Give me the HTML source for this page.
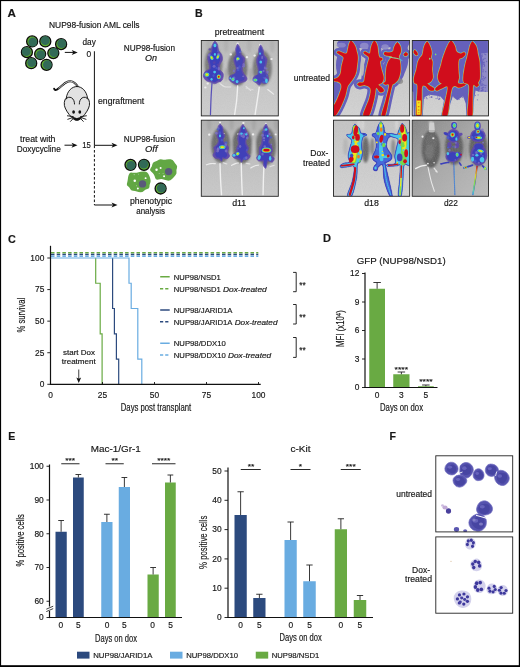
<!DOCTYPE html>
<html><head><meta charset="utf-8"><title>Figure</title>
<style>
html,body{margin:0;padding:0;background:#fff;}
svg{display:block;}
text{font-family:"Liberation Sans",sans-serif;fill:#161616;stroke:#161616;stroke-width:0.16px;}
</style></head><body>
<svg width="520" height="667" viewBox="0 0 520 667">
<rect x="0" y="0" width="520" height="667" fill="#fff"/>
<g id="panelA">
<text x="7.60" y="17.30" font-size="10.8" textLength="8.40" lengthAdjust="spacingAndGlyphs" font-weight="bold" stroke="#111" stroke-width="0.45">A</text>
<text x="49.00" y="27.50" font-size="8.3" textLength="90.50" lengthAdjust="spacingAndGlyphs">NUP98-fusion AML cells</text>
<text x="82.50" y="45.00" font-size="8.3" textLength="13.25" lengthAdjust="spacingAndGlyphs">day</text>
<text x="86.40" y="56.60" font-size="8.8" textLength="4.70" lengthAdjust="spacingAndGlyphs">0</text>
<text x="123.75" y="50.50" font-size="8.3" textLength="51.25" lengthAdjust="spacingAndGlyphs">NUP98-fusion</text>
<text x="145.00" y="60.75" font-size="8.3" textLength="12.00" lengthAdjust="spacingAndGlyphs" font-style="italic">On</text>
<text x="98.00" y="103.50" font-size="8.3" textLength="46.25" lengthAdjust="spacingAndGlyphs">engraftment</text>
<text x="20.00" y="142.00" font-size="8.3" textLength="35.50" lengthAdjust="spacingAndGlyphs">treat with</text>
<text x="16.75" y="152.00" font-size="8.3" textLength="44.00" lengthAdjust="spacingAndGlyphs">Doxycycline</text>
<text x="82.30" y="148.20" font-size="8.8" textLength="8.60" lengthAdjust="spacingAndGlyphs">15</text>
<text x="123.75" y="142.25" font-size="8.3" textLength="51.25" lengthAdjust="spacingAndGlyphs">NUP98-fusion</text>
<text x="145.00" y="152.00" font-size="8.3" textLength="12.50" lengthAdjust="spacingAndGlyphs" font-style="italic">Off</text>
<text x="130.00" y="204.25" font-size="8.3" textLength="42.00" lengthAdjust="spacingAndGlyphs">phenotypic</text>
<text x="136.25" y="213.75" font-size="8.3" textLength="28.75" lengthAdjust="spacingAndGlyphs">analysis</text>
<line x1="94.40" y1="51.25" x2="94.40" y2="145.50" stroke="#111" stroke-width="1.0"/>
<line x1="94.40" y1="145.50" x2="94.40" y2="205.00" stroke="#111" stroke-width="1.0" stroke-dasharray="2.6 1.9"/>
<line x1="94.40" y1="145.30" x2="114.00" y2="145.30" stroke="#111" stroke-width="1.0"/>
<path d="M117.50,145.30 l-6,-2.5 l1.6,2.5 l-1.6,2.5 z" fill="#111"/>
<line x1="94.40" y1="205.00" x2="114.00" y2="205.00" stroke="#111" stroke-width="1.0"/>
<path d="M117.50,205.00 l-6,-2.5 l1.6,2.5 l-1.6,2.5 z" fill="#111"/>
<line x1="64.80" y1="52.40" x2="74.20" y2="52.40" stroke="#111" stroke-width="1.0"/>
<path d="M77.70,52.40 l-6,-2.5 l1.6,2.5 l-1.6,2.5 z" fill="#111"/>
<line x1="64.50" y1="145.20" x2="74.00" y2="145.20" stroke="#111" stroke-width="1.0"/>
<path d="M77.50,145.20 l-6,-2.5 l1.6,2.5 l-1.6,2.5 z" fill="#111"/>
<circle cx="32.15" cy="41.45" r="5.5" fill="#5fae2e" stroke="#0c0c0c" stroke-width="1.3"/>
<circle cx="32.75" cy="42.05" r="4.45" fill="#326a57"/>
<circle cx="45.3" cy="41.45" r="5.5" fill="#5fae2e" stroke="#0c0c0c" stroke-width="1.3"/>
<circle cx="45.30" cy="40.65" r="4.45" fill="#326a57"/>
<circle cx="61.1" cy="44.15" r="5.5" fill="#5fae2e" stroke="#0c0c0c" stroke-width="1.3"/>
<circle cx="61.70" cy="43.55" r="4.45" fill="#326a57"/>
<circle cx="26.9" cy="52.15" r="5.5" fill="#5fae2e" stroke="#0c0c0c" stroke-width="1.3"/>
<circle cx="26.30" cy="51.65" r="4.45" fill="#326a57"/>
<circle cx="40.15" cy="54" r="5.5" fill="#5fae2e" stroke="#0c0c0c" stroke-width="1.3"/>
<circle cx="40.75" cy="54.60" r="4.45" fill="#326a57"/>
<circle cx="53.3" cy="53.1" r="5.5" fill="#5fae2e" stroke="#0c0c0c" stroke-width="1.3"/>
<circle cx="53.90" cy="52.50" r="4.45" fill="#326a57"/>
<circle cx="31.2" cy="63.2" r="5.5" fill="#5fae2e" stroke="#0c0c0c" stroke-width="1.3"/>
<circle cx="31.70" cy="62.60" r="4.45" fill="#326a57"/>
<circle cx="46.55" cy="64.8" r="5.5" fill="#5fae2e" stroke="#0c0c0c" stroke-width="1.3"/>
<circle cx="47.35" cy="64.80" r="4.45" fill="#326a57"/>
<path d="M176.91,168.13 Q176.14,170.00 176.50,171.76 Q176.85,173.51 175.60,174.90 Q174.35,176.29 173.28,177.84 Q172.21,179.38 170.35,180.24 Q168.49,181.11 166.39,180.33 Q164.30,179.55 162.62,179.22 Q160.95,178.89 158.36,179.49 Q155.78,180.10 155.21,178.07 Q154.64,176.04 153.85,174.60 Q153.05,173.15 151.08,171.57 Q149.11,170.00 150.59,168.29 Q152.06,166.57 152.32,164.62 Q152.58,162.66 154.65,161.84 Q156.72,161.01 158.41,159.93 Q160.09,158.84 162.20,159.49 Q164.30,160.13 166.40,159.50 Q168.50,158.86 170.70,159.33 Q172.90,159.81 173.90,161.59 Q174.90,163.36 176.29,164.81 Q177.68,166.26 176.91,168.13 Z" fill="#62a744"/>
<path d="M150.58,180.39 Q150.72,182.00 150.06,183.47 Q149.40,184.94 149.48,186.81 Q149.56,188.67 147.29,189.07 Q145.03,189.47 143.80,190.93 Q142.57,192.40 140.53,192.35 Q138.50,192.31 136.79,191.52 Q135.09,190.73 132.96,190.74 Q130.84,190.76 130.24,189.05 Q129.64,187.35 128.03,186.31 Q126.42,185.26 126.91,183.63 Q127.40,182.00 127.63,180.56 Q127.86,179.13 128.05,177.47 Q128.25,175.81 129.13,174.05 Q130.01,172.29 132.50,172.67 Q135.00,173.04 136.75,172.63 Q138.50,172.22 140.60,171.75 Q142.69,171.28 145.00,171.61 Q147.30,171.93 148.30,173.71 Q149.29,175.49 149.86,177.13 Q150.43,178.78 150.58,180.39 Z" fill="#62a744"/>
<circle cx="168.6" cy="171.6" r="3.7" fill="#5a5a7a"/>
<circle cx="142.5" cy="183.9" r="3.7" fill="#5a5a7a"/>
<circle cx="156.55" cy="169.77" r="1.23" fill="#fff"/>
<circle cx="160.62" cy="167.92" r="0.98" fill="#fff"/>
<circle cx="164.06" cy="176.17" r="0.98" fill="#fff"/>
<circle cx="159.14" cy="173.46" r="0.37" fill="#fff"/>
<circle cx="163.08" cy="173.46" r="0.37" fill="#fff"/>
<circle cx="134.77" cy="180.85" r="1.23" fill="#fff"/>
<circle cx="145.60" cy="178.14" r="0.98" fill="#fff"/>
<circle cx="137.85" cy="188.48" r="0.98" fill="#fff"/>
<circle cx="134.15" cy="174.69" r="0.49" fill="#fff"/>
<circle cx="138.46" cy="174.08" r="0.37" fill="#fff"/>
<circle cx="136.62" cy="185.77" r="0.37" fill="#fff"/>
<circle cx="130.5" cy="164.85" r="5.5" fill="#5fae2e" stroke="#0c0c0c" stroke-width="1.3"/>
<circle cx="131.00" cy="165.45" r="4.45" fill="#326a57"/>
<circle cx="144" cy="164.85" r="5.5" fill="#5fae2e" stroke="#0c0c0c" stroke-width="1.3"/>
<circle cx="143.70" cy="164.15" r="4.45" fill="#326a57"/>
<circle cx="160.6" cy="188.5" r="5.5" fill="#5fae2e" stroke="#0c0c0c" stroke-width="1.3"/>
<circle cx="161.30" cy="188.20" r="4.45" fill="#326a57"/>
<g stroke="#111" stroke-width="0.95" fill="#e2e2e2" stroke-linejoin="round" stroke-linecap="round">
<path d="M78.2,87.3 C75.5,82.5 71.5,80.6 68.2,81.5 C63.5,82.8 61,87.4 56.8,89.7 C55.4,90.4 54.4,89.8 54.1,88.6" fill="none" stroke-width="1.9"/>
<path d="M78.1,87.1 C75.5,82.5 71.5,80.6 68.2,81.5 C64.5,82.6 62,86 58.8,88.4" fill="none" stroke="#ececec" stroke-width="0.8"/>
<path d="M76.9,86.5 C82,86.5 86.5,91 87.5,98 C89.7,99.5 90.2,105 88.6,108 C87,112 83,117 80,119.3 C78.5,120.5 75.3,120.5 73.8,119.3 C70.8,117 66.8,112 65.2,108 C63.6,105 64.1,99.5 66.3,98 C67.3,91 71.8,86.5 76.9,86.5 Z"/>
<path d="M65.9,99.2 C66.8,97.2 69.6,96.6 71.7,97.9 C73.7,99.2 74.5,101.6 74.5,104" fill="none"/>
<path d="M87.9,99.2 C87,97.2 84.2,96.6 82.1,97.9 C80.1,99.2 79.3,101.6 79.3,104" fill="none"/>
<path d="M73.2,116.6 L67.4,115.8 M73.4,117.3 L67.8,119.3 M73.8,117.9 L70.5,121.4 M80.6,116.6 L86.4,115.8 M80.4,117.3 L86,119.3 M80,117.9 L83.3,121.4" fill="none" stroke-width="0.9"/>
<path d="M72.2,116.2 C74,118 75.5,117.2 76.9,118.2 C78.3,117.2 79.8,118 81.6,116.2 C80,119.8 78.4,120.5 76.9,120.5 C75.4,120.5 73.8,119.8 72.2,116.2 Z" fill="#111" stroke="none"/>
<ellipse cx="73.6" cy="112" rx="1.4" ry="1.75" fill="#111" stroke="none"/>
<ellipse cx="79.8" cy="112" rx="1.4" ry="1.75" fill="#111" stroke="none"/>
</g>
</g>
<g id="panelBtext">
<text x="195.00" y="17.00" font-size="10.6" font-weight="bold" stroke="#111" stroke-width="0.45">B</text>
<text x="214.70" y="35.40" font-size="8.3" textLength="49.50" lengthAdjust="spacingAndGlyphs">pretreatment</text>
<text x="293.80" y="80.60" font-size="8.3" textLength="36.20" lengthAdjust="spacingAndGlyphs">untreated</text>
<text x="310.30" y="155.60" font-size="8.3" textLength="18.00" lengthAdjust="spacingAndGlyphs">Dox-</text>
<text x="303.00" y="165.80" font-size="8.3" textLength="27.00" lengthAdjust="spacingAndGlyphs">treated</text>
<text x="232.20" y="206.40" font-size="8.5" textLength="14.10" lengthAdjust="spacingAndGlyphs">d11</text>
<text x="364.20" y="206.40" font-size="8.5" textLength="14.60" lengthAdjust="spacingAndGlyphs">d18</text>
<text x="443.90" y="206.40" font-size="8.5" textLength="13.90" lengthAdjust="spacingAndGlyphs">d22</text>
</g>
<g id="panelC">
<text x="8.00" y="242.60" font-size="10.8" font-weight="bold" stroke="#111" stroke-width="0.45">C</text>
<line x1="51.00" y1="252.70" x2="258.30" y2="252.70" stroke="#69AA43" stroke-width="1.5" stroke-dasharray="3.5 2.2"/>
<line x1="51.00" y1="254.50" x2="258.30" y2="254.50" stroke="#2C4A7E" stroke-width="1.5" stroke-dasharray="3.5 2.2"/>
<line x1="51.00" y1="256.20" x2="258.30" y2="256.20" stroke="#69ACE1" stroke-width="1.5" stroke-dasharray="3.5 2.2"/>
<path d="M95.70,258.00 L95.70,283.26 L100.20,283.26 L100.20,333.78 L102.10,333.78 L102.10,384.30" fill="none" stroke="#69AA43" stroke-width="1.2" stroke-linejoin="miter"/>
<path d="M112.60,258.00 L112.60,308.52 L114.40,308.52 L114.40,333.78 L116.40,333.78 L116.40,359.04 L118.70,359.04 L118.70,384.30" fill="none" stroke="#2C4A7E" stroke-width="1.2" stroke-linejoin="miter"/>
<path d="M50.50,258.00 L129.00,258.00 L129.00,283.26 L131.20,283.26 L131.20,308.52 L137.80,308.52 L137.80,359.04 L141.80,359.04 L141.80,384.30" fill="none" stroke="#69ACE1" stroke-width="1.2" stroke-linejoin="miter"/>
<line x1="50.50" y1="245.80" x2="50.50" y2="384.90" stroke="#111" stroke-width="1.2"/>
<line x1="49.90" y1="384.30" x2="260.70" y2="384.30" stroke="#111" stroke-width="1.2"/>
<line x1="47.30" y1="258.00" x2="50.50" y2="258.00" stroke="#111" stroke-width="0.9"/>
<text x="44.30" y="260.80" font-size="8.4" text-anchor="end">100</text>
<line x1="47.30" y1="289.58" x2="50.50" y2="289.58" stroke="#111" stroke-width="0.9"/>
<text x="44.30" y="292.38" font-size="8.4" text-anchor="end">75</text>
<line x1="47.30" y1="321.15" x2="50.50" y2="321.15" stroke="#111" stroke-width="0.9"/>
<text x="44.30" y="323.95" font-size="8.4" text-anchor="end">50</text>
<line x1="47.30" y1="352.73" x2="50.50" y2="352.73" stroke="#111" stroke-width="0.9"/>
<text x="44.30" y="355.53" font-size="8.4" text-anchor="end">25</text>
<line x1="47.30" y1="384.30" x2="50.50" y2="384.30" stroke="#111" stroke-width="0.9"/>
<text x="44.30" y="387.10" font-size="8.4" text-anchor="end">0</text>
<line x1="50.50" y1="382.00" x2="50.50" y2="384.30" stroke="#111" stroke-width="0.9"/>
<text x="50.50" y="397.60" font-size="8.4" text-anchor="middle">0</text>
<line x1="102.50" y1="382.00" x2="102.50" y2="384.30" stroke="#111" stroke-width="0.9"/>
<text x="102.50" y="397.60" font-size="8.4" text-anchor="middle">25</text>
<line x1="154.50" y1="382.00" x2="154.50" y2="384.30" stroke="#111" stroke-width="0.9"/>
<text x="154.50" y="397.60" font-size="8.4" text-anchor="middle">50</text>
<line x1="206.50" y1="382.00" x2="206.50" y2="384.30" stroke="#111" stroke-width="0.9"/>
<text x="206.50" y="397.60" font-size="8.4" text-anchor="middle">75</text>
<line x1="258.50" y1="382.00" x2="258.50" y2="384.30" stroke="#111" stroke-width="0.9"/>
<text x="258.50" y="397.60" font-size="8.4" text-anchor="middle">100</text>
<text x="120.75" y="411.25" font-size="10" textLength="70.50" lengthAdjust="spacingAndGlyphs">Days post transplant</text>
<text x="24.70" y="332.40" font-size="10" textLength="34.60" lengthAdjust="spacingAndGlyphs" transform="rotate(-90 24.70 332.40)">% survival</text>
<text x="63.00" y="355.25" font-size="7" textLength="32.00" lengthAdjust="spacingAndGlyphs">start Dox</text>
<text x="61.75" y="364.00" font-size="7" textLength="34.00" lengthAdjust="spacingAndGlyphs">treatment</text>
<line x1="78.75" y1="369.50" x2="78.75" y2="379.00" stroke="#111" stroke-width="0.8"/>
<path d="M78.75,383 l-2.4,-5.6 l2.4,1.4 l2.4,-1.4 z" fill="#111"/>
<line x1="160.20" y1="276.75" x2="169.70" y2="276.75" stroke="#69AA43" stroke-width="1.5"/>
<text x="173.75" y="279.65" font-size="7.7" textLength="47.00" lengthAdjust="spacingAndGlyphs">NUP98/NSD1</text>
<line x1="160.00" y1="288.75" x2="163.20" y2="288.75" stroke="#69AA43" stroke-width="1.5"/>
<line x1="165.20" y1="288.75" x2="168.40" y2="288.75" stroke="#69AA43" stroke-width="1.5"/>
<text x="173.75" y="291.65" font-size="7.7" textLength="47.00" lengthAdjust="spacingAndGlyphs">NUP98/NSD1</text>
<text x="222.95" y="291.65" font-size="7.7" textLength="43.80" lengthAdjust="spacingAndGlyphs" font-style="italic">Dox-treated</text>
<line x1="160.20" y1="310.00" x2="169.70" y2="310.00" stroke="#2C4A7E" stroke-width="1.5"/>
<text x="173.75" y="312.90" font-size="7.7" textLength="58.75" lengthAdjust="spacingAndGlyphs">NUP98/JARID1A</text>
<line x1="160.00" y1="321.75" x2="163.20" y2="321.75" stroke="#2C4A7E" stroke-width="1.5"/>
<line x1="165.20" y1="321.75" x2="168.40" y2="321.75" stroke="#2C4A7E" stroke-width="1.5"/>
<text x="173.75" y="324.65" font-size="7.7" textLength="58.75" lengthAdjust="spacingAndGlyphs">NUP98/JARID1A</text>
<text x="234.70" y="324.65" font-size="7.7" textLength="42.80" lengthAdjust="spacingAndGlyphs" font-style="italic">Dox-treated</text>
<line x1="160.20" y1="343.25" x2="169.70" y2="343.25" stroke="#69ACE1" stroke-width="1.5"/>
<text x="173.75" y="346.15" font-size="7.7" textLength="52.00" lengthAdjust="spacingAndGlyphs">NUP98/DDX10</text>
<line x1="160.00" y1="355.00" x2="163.20" y2="355.00" stroke="#69ACE1" stroke-width="1.5"/>
<line x1="165.20" y1="355.00" x2="168.40" y2="355.00" stroke="#69ACE1" stroke-width="1.5"/>
<text x="173.75" y="357.90" font-size="7.7" textLength="52.00" lengthAdjust="spacingAndGlyphs">NUP98/DDX10</text>
<text x="227.95" y="357.90" font-size="7.7" textLength="43.30" lengthAdjust="spacingAndGlyphs" font-style="italic">Dox-treated</text>
<path d="M293.1,272.4 H296.2 V291.7 H293.1" fill="none" stroke="#111" stroke-width="0.9"/>
<text x="299.30" y="287.55" font-size="8.4" textLength="6.40" lengthAdjust="spacingAndGlyphs">**</text>
<path d="M293.1,304.5 H296.2 V324 H293.1" fill="none" stroke="#111" stroke-width="0.9"/>
<text x="299.30" y="319.75" font-size="8.4" textLength="6.40" lengthAdjust="spacingAndGlyphs">**</text>
<path d="M293.1,337.5 H296.2 V357.4 H293.1" fill="none" stroke="#111" stroke-width="0.9"/>
<text x="299.30" y="352.95" font-size="8.4" textLength="6.40" lengthAdjust="spacingAndGlyphs">**</text>
</g>
<g id="panelD">
<text x="323.00" y="242.20" font-size="10.6" textLength="8.00" lengthAdjust="spacingAndGlyphs" font-weight="bold" stroke="#111" stroke-width="0.45">D</text>
<text x="356.75" y="264.40" font-size="9.6" textLength="89.00" lengthAdjust="spacingAndGlyphs">GFP (NUP98/NSD1)</text>
<rect x="369.25" y="288.75" width="15.75" height="98.75" fill="#69AA43"/>
<line x1="377.12" y1="282.50" x2="377.12" y2="288.75" stroke="#222" stroke-width="0.9"/>
<line x1="373.38" y1="282.50" x2="380.88" y2="282.50" stroke="#222" stroke-width="0.9"/>
<rect x="393.25" y="374.25" width="16.25" height="13.25" fill="#69AA43"/>
<line x1="401.38" y1="372.00" x2="401.38" y2="374.25" stroke="#222" stroke-width="0.9"/>
<line x1="397.62" y1="372.00" x2="405.12" y2="372.00" stroke="#222" stroke-width="0.9"/>
<rect x="418.00" y="386.25" width="15.75" height="1.25" fill="#69AA43"/>
<line x1="425.88" y1="385.00" x2="425.88" y2="386.25" stroke="#222" stroke-width="0.9"/>
<line x1="422.12" y1="385.00" x2="429.62" y2="385.00" stroke="#222" stroke-width="0.9"/>
<line x1="365.00" y1="272.50" x2="365.00" y2="388.10" stroke="#111" stroke-width="1.2"/>
<line x1="364.40" y1="387.50" x2="437.50" y2="387.50" stroke="#111" stroke-width="1.2"/>
<line x1="362.00" y1="273.50" x2="365.00" y2="273.50" stroke="#111" stroke-width="0.9"/>
<text x="359.30" y="276.30" font-size="8.4" text-anchor="end">12</text>
<line x1="362.00" y1="302.00" x2="365.00" y2="302.00" stroke="#111" stroke-width="0.9"/>
<text x="359.30" y="304.80" font-size="8.4" text-anchor="end">9</text>
<line x1="362.00" y1="330.50" x2="365.00" y2="330.50" stroke="#111" stroke-width="0.9"/>
<text x="359.30" y="333.30" font-size="8.4" text-anchor="end">6</text>
<line x1="362.00" y1="359.00" x2="365.00" y2="359.00" stroke="#111" stroke-width="0.9"/>
<text x="359.30" y="361.80" font-size="8.4" text-anchor="end">3</text>
<line x1="362.00" y1="387.50" x2="365.00" y2="387.50" stroke="#111" stroke-width="0.9"/>
<text x="359.30" y="390.30" font-size="8.4" text-anchor="end">0</text>
<text x="377.00" y="398.00" font-size="8.4" text-anchor="middle">0</text>
<text x="401.25" y="398.00" font-size="8.4" text-anchor="middle">3</text>
<text x="425.75" y="398.00" font-size="8.4" text-anchor="middle">5</text>
<text x="380.00" y="411.25" font-size="10" textLength="43.00" lengthAdjust="spacingAndGlyphs">Days on dox</text>
<text x="344.2" y="347" font-size="10" textLength="36.8" lengthAdjust="spacingAndGlyphs" transform="rotate(-90 344.2 347)">MFI (x10<tspan font-size="7.6" dy="-3.0">4</tspan><tspan dy="3.0">)</tspan></text>
<text x="401.30" y="371.60" font-size="7" text-anchor="middle" textLength="13.50" lengthAdjust="spacingAndGlyphs">****</text>
<text x="425.90" y="384.10" font-size="7" text-anchor="middle" textLength="13.50" lengthAdjust="spacingAndGlyphs">****</text>
</g>
<g id="panelE">
<text x="8.25" y="440.00" font-size="10.6" font-weight="bold" stroke="#111" stroke-width="0.45">E</text>
<text x="90.75" y="451.50" font-size="9.6" textLength="50.00" lengthAdjust="spacingAndGlyphs">Mac-1/Gr-1</text>
<rect x="55.50" y="531.75" width="11.25" height="85.75" fill="#2C4A7E"/>
<line x1="61.12" y1="520.50" x2="61.12" y2="531.75" stroke="#222" stroke-width="0.9"/>
<line x1="58.23" y1="520.50" x2="64.03" y2="520.50" stroke="#222" stroke-width="0.9"/>
<rect x="73.00" y="477.50" width="10.75" height="140.00" fill="#2C4A7E"/>
<line x1="78.38" y1="474.50" x2="78.38" y2="477.50" stroke="#222" stroke-width="0.9"/>
<line x1="75.47" y1="474.50" x2="81.28" y2="474.50" stroke="#222" stroke-width="0.9"/>
<rect x="101.25" y="522.00" width="11.25" height="95.50" fill="#69ACE1"/>
<line x1="106.88" y1="514.25" x2="106.88" y2="522.00" stroke="#222" stroke-width="0.9"/>
<line x1="103.97" y1="514.25" x2="109.78" y2="514.25" stroke="#222" stroke-width="0.9"/>
<rect x="118.75" y="487.00" width="11.25" height="130.50" fill="#69ACE1"/>
<line x1="124.38" y1="477.50" x2="124.38" y2="487.00" stroke="#222" stroke-width="0.9"/>
<line x1="121.47" y1="477.50" x2="127.28" y2="477.50" stroke="#222" stroke-width="0.9"/>
<rect x="147.50" y="574.50" width="11.25" height="43.00" fill="#69AA43"/>
<line x1="153.12" y1="567.50" x2="153.12" y2="574.50" stroke="#222" stroke-width="0.9"/>
<line x1="150.22" y1="567.50" x2="156.03" y2="567.50" stroke="#222" stroke-width="0.9"/>
<rect x="165.00" y="482.50" width="10.75" height="135.00" fill="#69AA43"/>
<line x1="170.38" y1="475.00" x2="170.38" y2="482.50" stroke="#222" stroke-width="0.9"/>
<line x1="167.47" y1="475.00" x2="173.28" y2="475.00" stroke="#222" stroke-width="0.9"/>
<line x1="49.50" y1="464.50" x2="49.50" y2="618.10" stroke="#111" stroke-width="1.2"/>
<line x1="48.90" y1="617.50" x2="182.00" y2="617.50" stroke="#111" stroke-width="1.2"/>
<line x1="46.50" y1="466.25" x2="49.50" y2="466.25" stroke="#111" stroke-width="0.9"/>
<text x="43.75" y="469.05" font-size="8.4" text-anchor="end">100</text>
<line x1="46.50" y1="500.00" x2="49.50" y2="500.00" stroke="#111" stroke-width="0.9"/>
<text x="43.75" y="502.80" font-size="8.4" text-anchor="end">90</text>
<line x1="46.50" y1="533.75" x2="49.50" y2="533.75" stroke="#111" stroke-width="0.9"/>
<text x="43.75" y="536.55" font-size="8.4" text-anchor="end">80</text>
<line x1="46.50" y1="567.50" x2="49.50" y2="567.50" stroke="#111" stroke-width="0.9"/>
<text x="43.75" y="570.30" font-size="8.4" text-anchor="end">70</text>
<line x1="46.50" y1="601.25" x2="49.50" y2="601.25" stroke="#111" stroke-width="0.9"/>
<text x="43.75" y="604.05" font-size="8.4" text-anchor="end">60</text>
<text x="43.75" y="620.00" font-size="8.4" text-anchor="end">0</text>
<line x1="46.50" y1="617.50" x2="49.50" y2="617.50" stroke="#111" stroke-width="0.9"/>
<rect x="48.00" y="606.50" width="3.00" height="4.50" fill="#fff"/>
<line x1="46.30" y1="609.20" x2="53.20" y2="606.20" stroke="#111" stroke-width="0.8"/>
<line x1="46.30" y1="611.60" x2="53.20" y2="608.60" stroke="#111" stroke-width="0.8"/>
<text x="60.75" y="627.80" font-size="8.4" text-anchor="middle">0</text>
<text x="78.25" y="627.80" font-size="8.4" text-anchor="middle">5</text>
<text x="107.00" y="627.80" font-size="8.4" text-anchor="middle">0</text>
<text x="124.25" y="627.80" font-size="8.4" text-anchor="middle">5</text>
<text x="152.50" y="627.80" font-size="8.4" text-anchor="middle">0</text>
<text x="170.50" y="627.80" font-size="8.4" text-anchor="middle">5</text>
<text x="95.00" y="641.50" font-size="10" textLength="42.00" lengthAdjust="spacingAndGlyphs">Days on dox</text>
<line x1="61.25" y1="463.75" x2="79.50" y2="463.75" stroke="#111" stroke-width="0.9"/>
<text x="70.20" y="463.00" font-size="7" text-anchor="middle" textLength="9.90" lengthAdjust="spacingAndGlyphs">***</text>
<line x1="105.50" y1="463.75" x2="123.75" y2="463.75" stroke="#111" stroke-width="0.9"/>
<text x="114.80" y="463.00" font-size="7" text-anchor="middle" textLength="6.60" lengthAdjust="spacingAndGlyphs">**</text>
<line x1="152.00" y1="463.75" x2="175.50" y2="463.75" stroke="#111" stroke-width="0.9"/>
<text x="163.75" y="463.00" font-size="7" text-anchor="middle" textLength="13.20" lengthAdjust="spacingAndGlyphs">****</text>
<text x="24.10" y="566.50" font-size="10" textLength="52.40" lengthAdjust="spacingAndGlyphs" transform="rotate(-90 24.10 566.50)">% positive cells</text>
<text x="290.50" y="451.50" font-size="9.6" textLength="20.00" lengthAdjust="spacingAndGlyphs">c-Kit</text>
<rect x="234.50" y="515.00" width="12.25" height="102.50" fill="#2C4A7E"/>
<line x1="240.62" y1="491.75" x2="240.62" y2="515.00" stroke="#222" stroke-width="0.9"/>
<line x1="237.47" y1="491.75" x2="243.78" y2="491.75" stroke="#222" stroke-width="0.9"/>
<rect x="253.25" y="598.00" width="12.25" height="19.50" fill="#2C4A7E"/>
<line x1="259.38" y1="594.25" x2="259.38" y2="598.00" stroke="#222" stroke-width="0.9"/>
<line x1="256.23" y1="594.25" x2="262.52" y2="594.25" stroke="#222" stroke-width="0.9"/>
<rect x="284.50" y="540.00" width="12.25" height="77.50" fill="#69ACE1"/>
<line x1="290.62" y1="522.00" x2="290.62" y2="540.00" stroke="#222" stroke-width="0.9"/>
<line x1="287.48" y1="522.00" x2="293.77" y2="522.00" stroke="#222" stroke-width="0.9"/>
<rect x="303.25" y="581.25" width="12.50" height="36.25" fill="#69ACE1"/>
<line x1="309.50" y1="565.00" x2="309.50" y2="581.25" stroke="#222" stroke-width="0.9"/>
<line x1="306.35" y1="565.00" x2="312.65" y2="565.00" stroke="#222" stroke-width="0.9"/>
<rect x="334.75" y="529.25" width="12.25" height="88.25" fill="#69AA43"/>
<line x1="340.88" y1="518.75" x2="340.88" y2="529.25" stroke="#222" stroke-width="0.9"/>
<line x1="337.73" y1="518.75" x2="344.02" y2="518.75" stroke="#222" stroke-width="0.9"/>
<rect x="353.75" y="600.00" width="12.50" height="17.50" fill="#69AA43"/>
<line x1="360.00" y1="595.50" x2="360.00" y2="600.00" stroke="#222" stroke-width="0.9"/>
<line x1="356.85" y1="595.50" x2="363.15" y2="595.50" stroke="#222" stroke-width="0.9"/>
<line x1="228.00" y1="467.50" x2="228.00" y2="618.10" stroke="#111" stroke-width="1.2"/>
<line x1="227.40" y1="617.50" x2="373.00" y2="617.50" stroke="#111" stroke-width="1.2"/>
<line x1="224.50" y1="471.00" x2="228.00" y2="471.00" stroke="#111" stroke-width="0.9"/>
<text x="221.70" y="473.80" font-size="8.4" text-anchor="end">50</text>
<line x1="224.50" y1="500.30" x2="228.00" y2="500.30" stroke="#111" stroke-width="0.9"/>
<text x="221.70" y="503.10" font-size="8.4" text-anchor="end">40</text>
<line x1="224.50" y1="529.60" x2="228.00" y2="529.60" stroke="#111" stroke-width="0.9"/>
<text x="221.70" y="532.40" font-size="8.4" text-anchor="end">30</text>
<line x1="224.50" y1="558.90" x2="228.00" y2="558.90" stroke="#111" stroke-width="0.9"/>
<text x="221.70" y="561.70" font-size="8.4" text-anchor="end">20</text>
<line x1="224.50" y1="588.20" x2="228.00" y2="588.20" stroke="#111" stroke-width="0.9"/>
<text x="221.70" y="591.00" font-size="8.4" text-anchor="end">10</text>
<line x1="224.50" y1="617.50" x2="228.00" y2="617.50" stroke="#111" stroke-width="0.9"/>
<text x="221.70" y="620.30" font-size="8.4" text-anchor="end">0</text>
<text x="240.50" y="627.80" font-size="8.4" text-anchor="middle">0</text>
<text x="259.25" y="627.80" font-size="8.4" text-anchor="middle">5</text>
<text x="290.75" y="627.80" font-size="8.4" text-anchor="middle">0</text>
<text x="309.50" y="627.80" font-size="8.4" text-anchor="middle">5</text>
<text x="340.75" y="627.80" font-size="8.4" text-anchor="middle">0</text>
<text x="359.75" y="627.80" font-size="8.4" text-anchor="middle">5</text>
<text x="279.50" y="641.25" font-size="10" textLength="42.25" lengthAdjust="spacingAndGlyphs">Days on dox</text>
<line x1="240.75" y1="469.50" x2="260.75" y2="469.50" stroke="#111" stroke-width="0.9"/>
<text x="251.00" y="468.70" font-size="7" text-anchor="middle" textLength="6.60" lengthAdjust="spacingAndGlyphs">**</text>
<line x1="290.50" y1="469.50" x2="310.50" y2="469.50" stroke="#111" stroke-width="0.9"/>
<text x="300.50" y="468.70" font-size="7" text-anchor="middle" textLength="3.30" lengthAdjust="spacingAndGlyphs">*</text>
<line x1="340.75" y1="469.50" x2="360.75" y2="469.50" stroke="#111" stroke-width="0.9"/>
<text x="350.75" y="468.70" font-size="7" text-anchor="middle" textLength="9.90" lengthAdjust="spacingAndGlyphs">***</text>
<text x="206.80" y="568.90" font-size="10" textLength="53.30" lengthAdjust="spacingAndGlyphs" transform="rotate(-90 206.80 568.90)">% positive cells</text>
<rect x="77.00" y="651.70" width="12.50" height="6.90" fill="#2C4A7E"/>
<text x="93.25" y="657.70" font-size="7.7" textLength="59.25" lengthAdjust="spacingAndGlyphs">NUP98/JARID1A</text>
<rect x="170.00" y="651.70" width="12.50" height="6.90" fill="#69ACE1"/>
<text x="186.25" y="657.70" font-size="7.7" textLength="51.75" lengthAdjust="spacingAndGlyphs">NUP98/DDX10</text>
<rect x="255.75" y="651.70" width="12.45" height="6.90" fill="#69AA43"/>
<text x="271.75" y="657.70" font-size="7.7" textLength="47.50" lengthAdjust="spacingAndGlyphs">NUP98/NSD1</text>
</g>
<g id="panelFtext">
<text x="389.50" y="440.00" font-size="10.6" font-weight="bold" stroke="#111" stroke-width="0.45">F</text>
<text x="396.25" y="496.50" font-size="8.3" textLength="35.75" lengthAdjust="spacingAndGlyphs">untreated</text>
<text x="412.00" y="572.50" font-size="8.3" textLength="18.00" lengthAdjust="spacingAndGlyphs">Dox-</text>
<text x="405.00" y="582.40" font-size="8.3" textLength="27.00" lengthAdjust="spacingAndGlyphs">treated</text>
</g>
<g id="panelBimg">
<defs>
<filter id="b03" x="-20%" y="-20%" width="140%" height="140%"><feGaussianBlur stdDeviation="0.35"/></filter>
<filter id="b06" x="-20%" y="-20%" width="140%" height="140%"><feGaussianBlur stdDeviation="0.6"/></filter>
<filter id="b1" x="-20%" y="-20%" width="140%" height="140%"><feGaussianBlur stdDeviation="1.1"/></filter>
<filter id="noise" x="0" y="0" width="100%" height="100%"><feTurbulence type="fractalNoise" baseFrequency="0.9" numOctaves="2" seed="3" result="n"/><feColorMatrix type="matrix" values="0 0 0 0 0.45  0 0 0 0 0.45  0 0 0 0 0.45  0.9 0 0 0 -0.33"/></filter>

<clipPath id="cb1"><rect x="201.3" y="40.5" width="77.00" height="75.40"/></clipPath>
<clipPath id="cb2"><rect x="201.3" y="120.2" width="77.00" height="76.10"/></clipPath>
<clipPath id="cb3"><rect x="333.5" y="40.5" width="76.20" height="75.40"/></clipPath>
<clipPath id="cb4"><rect x="412.2" y="40.5" width="76.30" height="75.40"/></clipPath>
<clipPath id="cb5"><rect x="333.5" y="120.2" width="76.20" height="76.10"/></clipPath>
<clipPath id="cb6"><rect x="412.2" y="120.2" width="76.30" height="76.10"/></clipPath>
<linearGradient id="gA" x1="0" y1="0" x2="0" y2="1"><stop offset="0" stop-color="#bababa"/><stop offset="0.45" stop-color="#c6c6c6"/><stop offset="1" stop-color="#cecece"/></linearGradient>
<linearGradient id="gB" x1="0" y1="0" x2="0" y2="1"><stop offset="0" stop-color="#b2b2b2"/><stop offset="0.5" stop-color="#c0c0c0"/><stop offset="1" stop-color="#cacaca"/></linearGradient>
<linearGradient id="gC" x1="0" y1="0" x2="0" y2="1"><stop offset="0" stop-color="#c4c4c4"/><stop offset="1" stop-color="#d3d3d3"/></linearGradient>
<linearGradient id="gD" x1="0" y1="0" x2="1" y2="1"><stop offset="0" stop-color="#868686"/><stop offset="0.45" stop-color="#a8a8a8"/><stop offset="1" stop-color="#bebebe"/></linearGradient>
<linearGradient id="tailR" x1="0" y1="0" x2="0" y2="1"><stop offset="0" stop-color="#d01818"/><stop offset="0.3" stop-color="#f0d020"/><stop offset="0.6" stop-color="#7fdc50"/><stop offset="1" stop-color="#45c4e8"/></linearGradient>
</defs>
<g clip-path="url(#cb1)">
<rect x="201.3" y="40.5" width="77.00" height="75.40" fill="url(#gA)"/>
<g filter="url(#b1)">
<ellipse cx="208.46" cy="45.15" rx="2.15" ry="7.69" fill="#a8a8a8" opacity="0.5"/>
<ellipse cx="226.15" cy="45.15" rx="2.15" ry="7.69" fill="#a8a8a8" opacity="0.5"/>
<ellipse cx="249.23" cy="45.15" rx="2.15" ry="7.69" fill="#a8a8a8" opacity="0.5"/>
<ellipse cx="272.31" cy="45.15" rx="2.15" ry="7.69" fill="#a8a8a8" opacity="0.5"/>
<ellipse cx="213.54" cy="65.15" rx="8.92" ry="18.46" fill="#7c7c7c"/>
<ellipse cx="237.69" cy="68.23" rx="9.85" ry="17.69" fill="#767676"/>
<ellipse cx="262.31" cy="68.23" rx="9.54" ry="17.69" fill="#7a7a7a"/>
<ellipse cx="226.15" cy="74.38" rx="1.54" ry="6.92" fill="#9a9a9a" opacity="0.7"/>
<ellipse cx="250.77" cy="74.38" rx="1.54" ry="6.92" fill="#9a9a9a" opacity="0.7"/>
</g>
<rect x="201.3" y="40.5" width="77.00" height="75.40" filter="url(#noise)" opacity="0.3"/>
<g filter="url(#b03)">
<path d="M237.69,85.92 C237.51,88.36 237.13,95.74 236.62,100.54 C236.10,105.33 234.95,112.33 234.62,114.69 " fill="none" stroke="#f0f0f0" stroke-width="1.38" stroke-linejoin="round" stroke-linecap="round"/>
<path d="M259.23,87.46 C258.90,89.64 257.92,96.00 257.23,100.54 C256.54,105.08 255.44,112.33 255.08,114.69 " fill="none" stroke="#f0f0f0" stroke-width="1.38" stroke-linejoin="round" stroke-linecap="round"/>
<path d="M220.00,83.62 C220.77,84.13 222.82,86.13 224.62,86.69 C226.41,87.26 229.74,86.95 230.77,87.00 " fill="none" stroke="#e4e4e4" stroke-width="1.08" stroke-linejoin="round" stroke-linecap="round"/>
<path d="M246.15,86.69 C246.92,87.33 250.00,89.90 250.77,90.54 " fill="none" stroke="#e4e4e4" stroke-width="1.08" stroke-linejoin="round" stroke-linecap="round"/>
<path d="M267.69,89.46 C268.67,90.23 272.56,93.31 273.54,94.08 " fill="none" stroke="#ececec" stroke-width="1.08" stroke-linejoin="round" stroke-linecap="round"/>
<path d="M246.15,88.23 C247.31,88.49 251.92,89.51 253.08,89.77 " fill="none" stroke="#dcdcdc" stroke-width="0.92" stroke-linejoin="round" stroke-linecap="round"/>
<ellipse cx="230.77" cy="54.38" rx="1.23" ry="1.08" fill="#ececec"/>
<ellipse cx="246.92" cy="57.15" rx="1.23" ry="1.08" fill="#ececec"/>
<ellipse cx="254.62" cy="55.62" rx="1.23" ry="1.08" fill="#ececec"/>
<ellipse cx="271.54" cy="59.00" rx="1.23" ry="1.08" fill="#ececec"/>
<ellipse cx="205.38" cy="87.46" rx="1.23" ry="1.08" fill="#ececec"/>
<ellipse cx="207.69" cy="83.62" rx="1.23" ry="1.08" fill="#ececec"/>
<ellipse cx="237.69" cy="43.62" rx="1.23" ry="1.08" fill="#ececec"/>
<ellipse cx="260.31" cy="44.85" rx="1.23" ry="1.08" fill="#ececec"/>
</g>
<g filter="url(#b06)">
<path d="M214.92,41.31 C215.87,41.18 217.10,43.62 217.69,45.15 C218.28,46.69 217.82,49.00 218.46,50.54 C219.10,52.08 220.90,52.85 221.54,54.38 C222.18,55.92 222.56,58.10 222.31,59.77 C222.05,61.44 220.51,62.85 220.00,64.38 C219.49,65.92 218.72,67.46 219.23,69.00 C219.74,70.54 222.56,71.82 223.08,73.62 C223.59,75.41 223.08,78.36 222.31,79.77 C221.54,81.18 219.74,81.44 218.46,82.08 C217.18,82.72 215.90,83.62 214.62,83.62 C213.33,83.62 212.18,82.59 210.77,82.08 C209.36,81.56 207.38,81.56 206.15,80.54 C204.92,79.51 203.51,77.46 203.38,75.92 C203.26,74.38 204.41,72.46 205.38,71.31 C206.36,70.15 208.64,70.28 209.23,69.00 C209.82,67.72 209.18,65.28 208.92,63.62 C208.67,61.95 207.77,60.54 207.69,59.00 C207.62,57.46 207.82,55.67 208.46,54.38 C209.10,53.10 210.95,52.72 211.54,51.31 C212.13,49.90 211.44,47.59 212.00,45.92 C212.56,44.26 213.97,41.44 214.92,41.31 Z" fill="#5e48ae" stroke="#5e48ae" stroke-width="0.77" stroke-linejoin="round" stroke-linecap="round" opacity="0.93"/>
<path d="M214.69,42.94 C215.38,42.82 216.26,45.08 216.69,46.52 C217.11,47.95 216.78,50.09 217.24,51.52 C217.70,52.95 218.99,53.67 219.46,55.10 C219.92,56.53 220.19,58.56 220.01,60.11 C219.83,61.66 218.72,62.97 218.35,64.40 C217.98,65.83 217.43,67.26 217.79,68.69 C218.16,70.12 220.19,71.32 220.56,72.98 C220.93,74.65 220.56,77.40 220.01,78.71 C219.46,80.02 218.16,80.26 217.24,80.85 C216.32,81.45 215.39,82.28 214.47,82.28 C213.55,82.28 212.72,81.33 211.70,80.85 C210.69,80.38 209.27,80.38 208.38,79.42 C207.49,78.47 206.48,76.56 206.39,75.13 C206.29,73.70 207.12,71.91 207.83,70.84 C208.53,69.77 210.17,69.88 210.59,68.69 C211.02,67.50 210.56,65.23 210.37,63.68 C210.19,62.13 209.54,60.82 209.49,59.39 C209.43,57.96 209.58,56.29 210.04,55.10 C210.50,53.91 211.83,53.55 212.26,52.24 C212.68,50.93 212.18,48.78 212.59,47.23 C212.99,45.68 214.01,43.06 214.69,42.94 Z" fill="#3b3fba"/>
<path d="M237.69,44.38 C238.46,44.38 239.72,47.33 240.31,49.00 C240.90,50.67 240.51,52.85 241.23,54.38 C241.95,55.92 244.18,56.69 244.62,58.23 C245.05,59.77 244.23,61.82 243.85,63.62 C243.46,65.41 242.31,67.33 242.31,69.00 C242.31,70.67 243.08,72.08 243.85,73.62 C244.62,75.15 246.67,76.95 246.92,78.23 C247.18,79.51 246.54,80.54 245.38,81.31 C244.23,82.08 241.41,82.33 240.00,82.85 C238.59,83.36 238.08,84.38 236.92,84.38 C235.77,84.38 234.36,83.62 233.08,82.85 C231.79,82.08 229.74,80.92 229.23,79.77 C228.72,78.62 229.10,76.95 230.00,75.92 C230.90,74.90 233.59,74.90 234.62,73.62 C235.64,72.33 236.15,69.90 236.15,68.23 C236.15,66.56 235.00,65.28 234.62,63.62 C234.23,61.95 233.59,59.77 233.85,58.23 C234.10,56.69 235.85,55.92 236.15,54.38 C236.46,52.85 235.44,50.67 235.69,49.00 C235.95,47.33 236.92,44.38 237.69,44.38 Z" fill="#5e48ae" stroke="#5e48ae" stroke-width="0.77" stroke-linejoin="round" stroke-linecap="round" opacity="0.93"/>
<path d="M237.87,45.98 C238.42,45.98 239.33,48.73 239.75,50.28 C240.18,51.83 239.90,53.85 240.42,55.28 C240.93,56.71 242.54,57.43 242.85,58.86 C243.17,60.29 242.58,62.20 242.30,63.87 C242.02,65.54 241.19,67.33 241.19,68.88 C241.19,70.43 241.75,71.74 242.30,73.17 C242.85,74.60 244.33,76.27 244.52,77.46 C244.70,78.65 244.24,79.61 243.41,80.32 C242.58,81.04 240.55,81.28 239.53,81.75 C238.52,82.23 238.15,83.18 237.32,83.18 C236.48,83.18 235.47,82.47 234.55,81.75 C233.62,81.04 232.15,79.96 231.78,78.89 C231.41,77.82 231.68,76.27 232.33,75.31 C232.98,74.36 234.92,74.36 235.65,73.17 C236.39,71.98 236.76,69.71 236.76,68.16 C236.76,66.61 235.93,65.42 235.65,63.87 C235.38,62.32 234.92,60.29 235.10,58.86 C235.28,57.43 236.54,56.71 236.76,55.28 C236.98,53.85 236.24,51.83 236.43,50.28 C236.61,48.73 237.32,45.98 237.87,45.98 Z" fill="#4444b8"/>
<path d="M260.77,45.15 C261.49,45.28 262.56,48.23 263.08,49.77 C263.59,51.31 263.21,52.85 263.85,54.38 C264.49,55.92 266.54,57.33 266.92,59.00 C267.31,60.67 266.41,62.59 266.15,64.38 C265.90,66.18 265.13,67.97 265.38,69.77 C265.64,71.56 267.18,73.36 267.69,75.15 C268.21,76.95 268.85,79.13 268.46,80.54 C268.08,81.95 266.54,83.23 265.38,83.62 C264.23,84.00 262.56,82.59 261.54,82.85 C260.51,83.10 260.13,85.15 259.23,85.15 C258.33,85.15 257.18,83.62 256.15,82.85 C255.13,82.08 253.46,81.56 253.08,80.54 C252.69,79.51 253.08,77.72 253.85,76.69 C254.62,75.67 256.97,75.67 257.69,74.38 C258.41,73.10 258.28,70.79 258.15,69.00 C258.03,67.21 257.13,65.41 256.92,63.62 C256.72,61.82 256.62,59.77 256.92,58.23 C257.23,56.69 258.46,55.92 258.77,54.38 C259.08,52.85 258.44,50.54 258.77,49.00 C259.10,47.46 260.05,45.03 260.77,45.15 Z" fill="#5e48ae" stroke="#5e48ae" stroke-width="0.77" stroke-linejoin="round" stroke-linecap="round" opacity="0.93"/>
<path d="M260.82,46.75 C261.33,46.87 262.11,49.61 262.48,51.04 C262.85,52.47 262.57,53.90 263.03,55.33 C263.49,56.76 264.97,58.07 265.25,59.62 C265.52,61.17 264.88,62.96 264.69,64.63 C264.51,66.30 263.96,67.97 264.14,69.64 C264.32,71.31 265.43,72.98 265.80,74.65 C266.17,76.32 266.63,78.34 266.36,79.66 C266.08,80.97 264.97,82.16 264.14,82.52 C263.31,82.87 262.11,81.56 261.37,81.80 C260.63,82.04 260.36,83.95 259.71,83.95 C259.06,83.95 258.23,82.52 257.49,81.80 C256.76,81.09 255.56,80.61 255.28,79.66 C255.00,78.70 255.28,77.03 255.83,76.08 C256.39,75.12 258.08,75.12 258.60,73.93 C259.12,72.74 259.03,70.59 258.93,68.92 C258.84,67.26 258.20,65.59 258.05,63.92 C257.90,62.25 257.83,60.34 258.05,58.91 C258.27,57.48 259.16,56.76 259.38,55.33 C259.60,53.90 259.14,51.76 259.38,50.32 C259.62,48.89 260.30,46.63 260.82,46.75 Z" fill="#4444b8"/>
<path d="M212.00,82.85 C211.85,85.28 211.33,92.15 211.08,97.46 C210.82,102.77 210.56,111.82 210.46,114.69 " fill="none" stroke="#5850b8" stroke-width="1.23" stroke-linejoin="round" stroke-linecap="round"/>
<ellipse cx="214.10" cy="66.32" rx="1.48" ry="1.50" fill="#7c72c6" opacity="0.8"/>
<ellipse cx="218.44" cy="54.37" rx="1.39" ry="1.58" fill="#7c72c6" opacity="0.8"/>
<ellipse cx="217.77" cy="51.27" rx="1.00" ry="1.08" fill="#4a5ccc" opacity="0.8"/>
<ellipse cx="218.82" cy="68.73" rx="1.23" ry="1.69" fill="#7c72c6" opacity="0.8"/>
<ellipse cx="216.27" cy="68.12" rx="0.89" ry="1.14" fill="#4a5ccc" opacity="0.8"/>
<ellipse cx="209.91" cy="49.38" rx="1.45" ry="1.04" fill="#5a44aa" opacity="0.8"/>
<ellipse cx="214.23" cy="62.46" rx="1.42" ry="1.22" fill="#5a44aa" opacity="0.8"/>
<ellipse cx="212.40" cy="48.38" rx="0.83" ry="0.75" fill="#5a44aa" opacity="0.8"/>
<ellipse cx="219.97" cy="80.40" rx="1.42" ry="1.24" fill="#5a44aa" opacity="0.8"/>
<ellipse cx="217.39" cy="64.80" rx="0.79" ry="0.98" fill="#5a44aa" opacity="0.8"/>
<ellipse cx="213.54" cy="75.58" rx="1.07" ry="1.38" fill="#4a5ccc" opacity="0.8"/>
<ellipse cx="209.24" cy="55.01" rx="1.47" ry="1.41" fill="#7c72c6" opacity="0.8"/>
<ellipse cx="238.19" cy="70.00" rx="1.28" ry="1.24" fill="#4a5ccc" opacity="0.8"/>
<ellipse cx="243.81" cy="64.62" rx="1.26" ry="1.50" fill="#7c72c6" opacity="0.8"/>
<ellipse cx="239.55" cy="66.94" rx="1.28" ry="1.77" fill="#4a5ccc" opacity="0.8"/>
<ellipse cx="237.04" cy="60.22" rx="0.93" ry="1.19" fill="#7c72c6" opacity="0.8"/>
<ellipse cx="233.88" cy="70.91" rx="1.03" ry="1.29" fill="#7c72c6" opacity="0.8"/>
<ellipse cx="234.02" cy="78.04" rx="1.40" ry="1.48" fill="#7c72c6" opacity="0.8"/>
<ellipse cx="234.06" cy="80.14" rx="1.50" ry="1.74" fill="#4a5ccc" opacity="0.8"/>
<ellipse cx="243.54" cy="66.37" rx="1.45" ry="1.18" fill="#7c72c6" opacity="0.8"/>
<ellipse cx="240.58" cy="51.35" rx="0.90" ry="0.88" fill="#4a5ccc" opacity="0.8"/>
<ellipse cx="237.59" cy="68.11" rx="1.14" ry="1.23" fill="#7c72c6" opacity="0.8"/>
<ellipse cx="239.98" cy="52.31" rx="0.92" ry="0.81" fill="#7c72c6" opacity="0.8"/>
<ellipse cx="243.21" cy="76.42" rx="1.07" ry="0.83" fill="#7c72c6" opacity="0.8"/>
<ellipse cx="259.14" cy="71.91" rx="1.30" ry="1.50" fill="#4a5ccc" opacity="0.8"/>
<ellipse cx="263.84" cy="77.85" rx="1.26" ry="1.00" fill="#4a5ccc" opacity="0.8"/>
<ellipse cx="262.28" cy="56.68" rx="1.00" ry="0.79" fill="#7c72c6" opacity="0.8"/>
<ellipse cx="264.05" cy="82.01" rx="1.53" ry="1.16" fill="#4a5ccc" opacity="0.8"/>
<ellipse cx="265.32" cy="78.47" rx="0.97" ry="1.19" fill="#7c72c6" opacity="0.8"/>
<ellipse cx="267.11" cy="75.41" rx="0.97" ry="1.01" fill="#4a5ccc" opacity="0.8"/>
<ellipse cx="264.87" cy="68.00" rx="1.10" ry="1.45" fill="#7c72c6" opacity="0.8"/>
<ellipse cx="263.52" cy="70.94" rx="1.04" ry="1.30" fill="#7c72c6" opacity="0.8"/>
<ellipse cx="267.53" cy="72.09" rx="1.20" ry="1.66" fill="#7c72c6" opacity="0.8"/>
<ellipse cx="261.24" cy="73.32" rx="1.18" ry="0.99" fill="#7c72c6" opacity="0.8"/>
<ellipse cx="262.18" cy="57.95" rx="1.12" ry="1.01" fill="#7c72c6" opacity="0.8"/>
<ellipse cx="266.41" cy="68.42" rx="1.19" ry="1.03" fill="#7c72c6" opacity="0.8"/>
</g>
<g filter="url(#b03)">
<ellipse cx="214.92" cy="45.46" rx="1.38" ry="1.85" fill="#48c6ea"/>
<ellipse cx="211.69" cy="57.77" rx="1.54" ry="2.46" fill="#48c6ea" transform="rotate(-30 211.69 57.77)"/>
<ellipse cx="211.69" cy="57.77" rx="1.15" ry="1.85" fill="#74da4c" transform="rotate(-30 211.69 57.77)"/>
<ellipse cx="211.69" cy="57.77" rx="0.77" ry="1.23" fill="#f2e21c" transform="rotate(-30 211.69 57.77)"/>
<ellipse cx="217.85" cy="56.85" rx="1.38" ry="2.46" fill="#48c6ea" transform="rotate(25 217.85 56.85)"/>
<ellipse cx="217.85" cy="56.85" rx="1.04" ry="1.85" fill="#74da4c" transform="rotate(25 217.85 56.85)"/>
<ellipse cx="217.85" cy="56.85" rx="0.69" ry="1.23" fill="#f2e21c" transform="rotate(25 217.85 56.85)"/>
<ellipse cx="214.92" cy="54.38" rx="1.08" ry="1.38" fill="#48c6ea"/>
<ellipse cx="206.92" cy="74.69" rx="2.46" ry="2.15" fill="#48c6ea"/>
<ellipse cx="206.92" cy="74.69" rx="1.85" ry="1.62" fill="#74da4c"/>
<ellipse cx="206.92" cy="74.69" rx="1.23" ry="1.08" fill="#f2e21c"/>
<ellipse cx="214.62" cy="72.08" rx="1.38" ry="1.38" fill="#48c6ea"/>
<ellipse cx="218.77" cy="76.85" rx="2.00" ry="2.46" fill="#48c6ea"/>
<ellipse cx="218.77" cy="76.85" rx="1.62" ry="2.00" fill="#74da4c"/>
<ellipse cx="218.77" cy="76.85" rx="1.25" ry="1.54" fill="#f2e21c"/>
<ellipse cx="218.77" cy="76.85" rx="0.88" ry="1.08" fill="#d00a1e"/>
<ellipse cx="211.54" cy="79.31" rx="1.08" ry="1.38" fill="#48c6ea"/>
<ellipse cx="237.85" cy="58.69" rx="1.85" ry="1.54" fill="#48c6ea"/>
<ellipse cx="237.85" cy="58.69" rx="1.38" ry="1.15" fill="#74da4c"/>
<ellipse cx="237.85" cy="58.69" rx="0.92" ry="0.77" fill="#f2e21c"/>
<ellipse cx="232.92" cy="79.31" rx="1.54" ry="1.85" fill="#48c6ea"/>
<ellipse cx="232.92" cy="79.31" rx="0.96" ry="1.15" fill="#74da4c"/>
<ellipse cx="237.08" cy="81.62" rx="1.38" ry="1.54" fill="#48c6ea"/>
<ellipse cx="230.31" cy="78.23" rx="0.92" ry="1.08" fill="#48c6ea"/>
<ellipse cx="260.77" cy="62.08" rx="1.38" ry="1.54" fill="#48c6ea"/>
<ellipse cx="260.77" cy="72.08" rx="1.54" ry="1.38" fill="#48c6ea"/>
<ellipse cx="260.77" cy="72.08" rx="0.96" ry="0.87" fill="#74da4c"/>
<ellipse cx="255.38" cy="79.92" rx="2.15" ry="1.54" fill="#48c6ea"/>
<ellipse cx="255.38" cy="79.92" rx="1.35" ry="0.96" fill="#74da4c"/>
<ellipse cx="266.46" cy="80.85" rx="1.38" ry="2.31" fill="#48c6ea"/>
<ellipse cx="260.00" cy="53.62" rx="0.92" ry="1.23" fill="#48c6ea"/>
</g>
</g>
<rect x="201.3" y="40.5" width="77.00" height="75.40" fill="none" stroke="#222" stroke-width="0.9"/>
<g clip-path="url(#cb2)">
<rect x="201.3" y="120.2" width="77.00" height="76.10" fill="url(#gB)"/>
<g filter="url(#b1)">
<ellipse cx="220.77" cy="145.15" rx="9.54" ry="17.69" fill="#6e6e6e"/>
<ellipse cx="242.31" cy="145.46" rx="10.00" ry="18.15" fill="#6c6c6c"/>
<ellipse cx="265.85" cy="146.38" rx="10.15" ry="18.77" fill="#707070"/>
<ellipse cx="253.85" cy="148.23" rx="2.15" ry="8.92" fill="#c8c8c8" opacity="0.9"/>
<ellipse cx="231.54" cy="148.23" rx="1.23" ry="7.69" fill="#bcbcbc" opacity="0.7"/>
<ellipse cx="209.23" cy="123.62" rx="2.15" ry="6.92" fill="#9c9c9c" opacity="0.5"/>
<ellipse cx="231.54" cy="123.62" rx="2.15" ry="6.92" fill="#9c9c9c" opacity="0.5"/>
<ellipse cx="253.85" cy="123.62" rx="2.15" ry="6.92" fill="#9c9c9c" opacity="0.5"/>
<ellipse cx="276.15" cy="123.62" rx="2.15" ry="6.92" fill="#9c9c9c" opacity="0.5"/>
</g>
<rect x="201.3" y="120.2" width="77.00" height="76.10" filter="url(#noise)" opacity="0.3"/>
<g filter="url(#b03)">
<path d="M220.00,163.62 C220.10,166.44 220.36,175.36 220.62,180.54 C220.87,185.72 221.38,192.33 221.54,194.69 " fill="none" stroke="#f0f0f0" stroke-width="1.38" stroke-linejoin="round" stroke-linecap="round"/>
<path d="M241.23,163.31 C241.31,166.18 241.51,175.31 241.69,180.54 C241.87,185.77 242.21,192.33 242.31,194.69 " fill="none" stroke="#f0f0f0" stroke-width="1.38" stroke-linejoin="round" stroke-linecap="round"/>
<path d="M263.85,167.00 C263.77,169.26 263.51,175.92 263.38,180.54 C263.26,185.15 263.13,192.33 263.08,194.69 " fill="none" stroke="#f0f0f0" stroke-width="1.38" stroke-linejoin="round" stroke-linecap="round"/>
<path d="M206.46,164.85 C207.18,164.64 209.28,163.82 210.77,163.62 C212.26,163.41 214.62,163.62 215.38,163.62 " fill="none" stroke="#ececec" stroke-width="1.08" stroke-linejoin="round" stroke-linecap="round"/>
<path d="M223.08,162.85 C223.72,163.03 226.28,163.74 226.92,163.92 " fill="none" stroke="#e2e2e2" stroke-width="1.08" stroke-linejoin="round" stroke-linecap="round"/>
<path d="M231.54,165.46 C232.18,165.15 234.23,164.03 235.38,163.62 C236.54,163.21 237.95,163.10 238.46,163.00 " fill="none" stroke="#ececec" stroke-width="1.08" stroke-linejoin="round" stroke-linecap="round"/>
<path d="M246.15,163.31 C246.79,163.41 249.36,163.82 250.00,163.92 " fill="none" stroke="#e2e2e2" stroke-width="1.08" stroke-linejoin="round" stroke-linecap="round"/>
<path d="M250.77,167.92 C251.41,167.59 253.33,166.38 254.62,165.92 C255.90,165.46 257.82,165.28 258.46,165.15 " fill="none" stroke="#ececec" stroke-width="1.08" stroke-linejoin="round" stroke-linecap="round"/>
<path d="M270.00,166.69 C270.69,166.44 273.46,165.41 274.15,165.15 " fill="none" stroke="#e2e2e2" stroke-width="1.08" stroke-linejoin="round" stroke-linecap="round"/>
<ellipse cx="209.23" cy="134.69" rx="1.23" ry="1.11" fill="#eeeeee"/>
<ellipse cx="220.00" cy="122.38" rx="1.08" ry="0.97" fill="#eeeeee"/>
<ellipse cx="243.38" cy="123.00" rx="1.23" ry="1.11" fill="#eeeeee"/>
<ellipse cx="265.85" cy="123.62" rx="0.92" ry="0.83" fill="#eeeeee"/>
<ellipse cx="253.08" cy="134.38" rx="1.23" ry="1.11" fill="#eeeeee"/>
<ellipse cx="238.15" cy="134.08" rx="0.92" ry="0.83" fill="#eeeeee"/>
<ellipse cx="275.69" cy="134.38" rx="1.08" ry="0.97" fill="#eeeeee"/>
<ellipse cx="223.85" cy="133.62" rx="0.77" ry="0.69" fill="#eeeeee"/>
</g>
<g filter="url(#b06)">
<path d="M220.31,124.38 C221.08,124.51 222.31,126.18 222.77,127.46 C223.23,128.74 222.77,130.67 223.08,132.08 C223.38,133.49 224.62,134.64 224.62,135.92 C224.62,137.21 222.95,138.49 223.08,139.77 C223.21,141.05 224.49,142.33 225.38,143.62 C226.28,144.90 228.08,146.05 228.46,147.46 C228.85,148.87 227.51,150.67 227.69,152.08 C227.87,153.49 229.67,154.82 229.54,155.92 C229.41,157.03 228.00,158.31 226.92,158.69 C225.85,159.08 223.97,157.79 223.08,158.23 C222.18,158.67 222.18,161.18 221.54,161.31 C220.90,161.44 220.26,159.51 219.23,159.00 C218.21,158.49 216.41,158.87 215.38,158.23 C214.36,157.59 213.21,156.31 213.08,155.15 C212.95,154.00 214.49,152.59 214.62,151.31 C214.74,150.03 213.46,148.62 213.85,147.46 C214.23,146.31 216.15,145.54 216.92,144.38 C217.69,143.23 218.46,141.95 218.46,140.54 C218.46,139.13 216.97,137.46 216.92,135.92 C216.87,134.38 217.95,132.85 218.15,131.31 C218.36,129.77 217.79,127.85 218.15,126.69 C218.51,125.54 219.54,124.26 220.31,124.38 Z" fill="#5e48ae" stroke="#5e48ae" stroke-width="0.77" stroke-linejoin="round" stroke-linecap="round" opacity="0.93"/>
<path d="M220.49,125.82 C221.05,125.94 221.93,127.49 222.26,128.68 C222.60,129.87 222.26,131.66 222.49,132.97 C222.71,134.28 223.59,135.36 223.59,136.55 C223.59,137.74 222.39,138.93 222.49,140.13 C222.58,141.32 223.50,142.51 224.15,143.70 C224.79,144.89 226.09,145.97 226.36,147.28 C226.64,148.59 225.68,150.26 225.81,151.57 C225.94,152.88 227.23,154.12 227.14,155.15 C227.05,156.17 226.03,157.37 225.25,157.72 C224.48,158.08 223.13,156.89 222.49,157.29 C221.84,157.70 221.84,160.04 221.38,160.16 C220.92,160.28 220.45,158.49 219.72,158.01 C218.98,157.53 217.69,157.89 216.95,157.29 C216.21,156.70 215.38,155.51 215.29,154.43 C215.19,153.36 216.30,152.05 216.39,150.86 C216.49,149.66 215.56,148.35 215.84,147.28 C216.12,146.21 217.50,145.49 218.05,144.42 C218.61,143.34 219.16,142.15 219.16,140.84 C219.16,139.53 218.09,137.98 218.05,136.55 C218.02,135.12 218.79,133.69 218.94,132.26 C219.09,130.83 218.68,129.04 218.94,127.96 C219.20,126.89 219.94,125.70 220.49,125.82 Z" fill="#4040b8"/>
<path d="M243.08,124.85 C243.77,125.15 244.74,127.03 245.38,128.23 C246.03,129.44 246.41,130.79 246.92,132.08 C247.44,133.36 248.59,134.64 248.46,135.92 C248.33,137.21 246.54,138.49 246.15,139.77 C245.77,141.05 245.77,142.21 246.15,143.62 C246.54,145.03 248.33,146.82 248.46,148.23 C248.59,149.64 246.67,150.79 246.92,152.08 C247.18,153.36 249.87,154.72 250.00,155.92 C250.13,157.13 248.72,158.79 247.69,159.31 C246.67,159.82 244.87,158.54 243.85,159.00 C242.82,159.46 242.31,162.03 241.54,162.08 C240.77,162.13 240.38,159.95 239.23,159.31 C238.08,158.67 235.77,158.92 234.62,158.23 C233.46,157.54 232.05,156.18 232.31,155.15 C232.56,154.13 235.38,153.36 236.15,152.08 C236.92,150.79 236.54,148.87 236.92,147.46 C237.31,146.05 238.33,145.03 238.46,143.62 C238.59,142.21 237.69,140.54 237.69,139.00 C237.69,137.46 238.03,135.92 238.46,134.38 C238.90,132.85 239.85,131.10 240.31,129.77 C240.77,128.44 240.77,127.21 241.23,126.38 C241.69,125.56 242.38,124.54 243.08,124.85 Z" fill="#5e48ae" stroke="#5e48ae" stroke-width="0.77" stroke-linejoin="round" stroke-linecap="round" opacity="0.93"/>
<path d="M242.85,126.25 C243.35,126.53 244.05,128.27 244.51,129.39 C244.97,130.51 245.25,131.78 245.62,132.97 C245.99,134.16 246.82,135.35 246.73,136.55 C246.64,137.74 245.34,138.93 245.07,140.12 C244.79,141.32 244.79,142.39 245.07,143.70 C245.34,145.01 246.64,146.68 246.73,147.99 C246.82,149.30 245.44,150.38 245.62,151.57 C245.81,152.76 247.74,154.03 247.84,155.15 C247.93,156.27 246.91,157.82 246.17,158.29 C245.44,158.77 244.14,157.58 243.41,158.01 C242.67,158.44 242.30,160.82 241.74,160.87 C241.19,160.92 240.91,158.89 240.08,158.29 C239.25,157.70 237.59,157.94 236.76,157.29 C235.93,156.65 234.91,155.39 235.10,154.43 C235.28,153.48 237.31,152.76 237.87,151.57 C238.42,150.38 238.14,148.59 238.42,147.28 C238.70,145.97 239.44,145.01 239.53,143.70 C239.62,142.39 238.97,140.84 238.97,139.41 C238.97,137.98 239.21,136.55 239.53,135.12 C239.84,133.69 240.53,132.06 240.86,130.82 C241.19,129.58 241.19,128.44 241.52,127.68 C241.85,126.91 242.35,125.96 242.85,126.25 Z" fill="#4040b8"/>
<path d="M266.15,124.38 C266.85,124.51 267.54,126.82 268.00,128.23 C268.46,129.64 268.59,131.31 268.92,132.85 C269.26,134.38 270.00,135.92 270.00,137.46 C270.00,139.00 268.67,140.67 268.92,142.08 C269.18,143.49 270.97,144.38 271.54,145.92 C272.10,147.46 272.44,149.77 272.31,151.31 C272.18,152.85 270.46,154.00 270.77,155.15 C271.08,156.31 273.90,157.08 274.15,158.23 C274.41,159.38 273.38,161.56 272.31,162.08 C271.23,162.59 268.77,160.28 267.69,161.31 C266.62,162.33 266.56,167.59 265.85,168.23 C265.13,168.87 263.85,166.31 263.38,165.15 C262.92,164.00 263.90,162.03 263.08,161.31 C262.26,160.59 259.54,161.49 258.46,160.85 C257.38,160.21 256.49,158.59 256.62,157.46 C256.74,156.33 258.79,155.62 259.23,154.08 C259.67,152.54 258.85,149.97 259.23,148.23 C259.62,146.49 261.03,145.41 261.54,143.62 C262.05,141.82 262.00,139.26 262.31,137.46 C262.62,135.67 263.13,134.51 263.38,132.85 C263.64,131.18 263.38,128.87 263.85,127.46 C264.31,126.05 265.46,124.26 266.15,124.38 Z" fill="#5e48ae" stroke="#5e48ae" stroke-width="0.77" stroke-linejoin="round" stroke-linecap="round" opacity="0.93"/>
<path d="M266.06,126.04 C266.55,126.16 267.05,128.30 267.39,129.61 C267.72,130.93 267.81,132.48 268.05,133.91 C268.29,135.34 268.83,136.77 268.83,138.20 C268.83,139.63 267.87,141.18 268.05,142.49 C268.23,143.80 269.53,144.64 269.93,146.07 C270.34,147.50 270.58,149.64 270.49,151.08 C270.39,152.51 269.16,153.58 269.38,154.65 C269.60,155.73 271.63,156.44 271.82,157.51 C272.00,158.59 271.26,160.61 270.49,161.09 C269.71,161.57 267.94,159.42 267.16,160.38 C266.39,161.33 266.35,166.22 265.83,166.81 C265.32,167.41 264.39,165.03 264.06,163.95 C263.73,162.88 264.43,161.04 263.84,160.38 C263.25,159.71 261.29,160.54 260.52,159.95 C259.74,159.35 259.10,157.85 259.19,156.80 C259.28,155.75 260.76,155.08 261.07,153.65 C261.39,152.22 260.79,149.84 261.07,148.21 C261.35,146.59 262.36,145.59 262.73,143.92 C263.10,142.25 263.07,139.87 263.29,138.20 C263.51,136.53 263.88,135.46 264.06,133.91 C264.25,132.36 264.06,130.21 264.39,128.90 C264.73,127.59 265.56,125.92 266.06,126.04 Z" fill="#4040b8"/>
<ellipse cx="217.80" cy="149.45" rx="1.26" ry="1.62" fill="#7c72c6" opacity="0.8"/>
<ellipse cx="226.05" cy="142.84" rx="1.51" ry="1.59" fill="#4a5ccc" opacity="0.8"/>
<ellipse cx="218.51" cy="128.33" rx="1.05" ry="1.05" fill="#7c72c6" opacity="0.8"/>
<ellipse cx="217.60" cy="151.35" rx="1.48" ry="1.08" fill="#7c72c6" opacity="0.8"/>
<ellipse cx="226.13" cy="150.96" rx="1.44" ry="1.46" fill="#7c72c6" opacity="0.8"/>
<ellipse cx="225.72" cy="144.85" rx="1.30" ry="1.78" fill="#7c72c6" opacity="0.8"/>
<ellipse cx="219.84" cy="132.99" rx="1.40" ry="1.77" fill="#4a5ccc" opacity="0.8"/>
<ellipse cx="216.35" cy="133.19" rx="1.33" ry="1.38" fill="#7c72c6" opacity="0.8"/>
<ellipse cx="218.02" cy="129.37" rx="1.44" ry="1.08" fill="#4a5ccc" opacity="0.8"/>
<ellipse cx="218.13" cy="148.96" rx="1.39" ry="1.70" fill="#7c72c6" opacity="0.8"/>
<ellipse cx="223.78" cy="146.10" rx="1.33" ry="1.45" fill="#4a5ccc" opacity="0.8"/>
<ellipse cx="221.74" cy="140.17" rx="1.03" ry="1.36" fill="#4a5ccc" opacity="0.8"/>
<ellipse cx="247.24" cy="132.55" rx="0.79" ry="0.65" fill="#7c72c6" opacity="0.8"/>
<ellipse cx="238.22" cy="148.27" rx="1.04" ry="0.89" fill="#4a5ccc" opacity="0.8"/>
<ellipse cx="247.26" cy="138.06" rx="1.23" ry="1.45" fill="#7c72c6" opacity="0.8"/>
<ellipse cx="246.87" cy="150.02" rx="0.81" ry="0.90" fill="#4a5ccc" opacity="0.8"/>
<ellipse cx="240.27" cy="134.08" rx="1.42" ry="1.52" fill="#7c72c6" opacity="0.8"/>
<ellipse cx="244.77" cy="158.48" rx="1.50" ry="1.78" fill="#4a5ccc" opacity="0.8"/>
<ellipse cx="243.52" cy="136.18" rx="1.51" ry="2.00" fill="#7c72c6" opacity="0.8"/>
<ellipse cx="246.30" cy="157.65" rx="1.17" ry="1.49" fill="#7c72c6" opacity="0.8"/>
<ellipse cx="244.11" cy="133.92" rx="0.81" ry="1.07" fill="#7c72c6" opacity="0.8"/>
<ellipse cx="241.44" cy="135.97" rx="0.99" ry="0.97" fill="#7c72c6" opacity="0.8"/>
<ellipse cx="246.88" cy="133.92" rx="1.20" ry="1.33" fill="#7c72c6" opacity="0.8"/>
<ellipse cx="240.12" cy="146.56" rx="1.19" ry="1.46" fill="#7c72c6" opacity="0.8"/>
<ellipse cx="270.73" cy="158.88" rx="1.46" ry="1.04" fill="#4a5ccc" opacity="0.8"/>
<ellipse cx="264.07" cy="140.48" rx="1.04" ry="0.87" fill="#7c72c6" opacity="0.8"/>
<ellipse cx="265.56" cy="135.37" rx="1.12" ry="0.87" fill="#4a5ccc" opacity="0.8"/>
<ellipse cx="271.34" cy="144.33" rx="0.78" ry="0.95" fill="#7c72c6" opacity="0.8"/>
<ellipse cx="264.64" cy="130.09" rx="1.37" ry="1.31" fill="#7c72c6" opacity="0.8"/>
<ellipse cx="262.62" cy="135.21" rx="1.33" ry="1.64" fill="#7c72c6" opacity="0.8"/>
<ellipse cx="264.74" cy="146.71" rx="1.28" ry="1.41" fill="#7c72c6" opacity="0.8"/>
<ellipse cx="269.54" cy="133.97" rx="1.14" ry="1.34" fill="#7c72c6" opacity="0.8"/>
<ellipse cx="262.53" cy="154.04" rx="1.18" ry="1.50" fill="#7c72c6" opacity="0.8"/>
<ellipse cx="262.88" cy="131.92" rx="0.85" ry="0.93" fill="#4a5ccc" opacity="0.8"/>
<ellipse cx="270.89" cy="137.30" rx="1.22" ry="1.17" fill="#4a5ccc" opacity="0.8"/>
<ellipse cx="263.88" cy="138.08" rx="1.37" ry="1.17" fill="#7c72c6" opacity="0.8"/>
</g>
<g filter="url(#b03)">
<ellipse cx="222.31" cy="147.15" rx="3.23" ry="1.85" fill="#48c6ea"/>
<ellipse cx="222.31" cy="147.15" rx="2.42" ry="1.38" fill="#74da4c"/>
<ellipse cx="222.31" cy="147.15" rx="1.62" ry="0.92" fill="#f2e21c"/>
<ellipse cx="220.00" cy="135.92" rx="1.08" ry="1.38" fill="#48c6ea"/>
<ellipse cx="237.69" cy="153.77" rx="2.00" ry="1.69" fill="#48c6ea" transform="rotate(-30 237.69 153.77)"/>
<ellipse cx="237.69" cy="153.77" rx="1.50" ry="1.27" fill="#74da4c" transform="rotate(-30 237.69 153.77)"/>
<ellipse cx="237.69" cy="153.77" rx="1.00" ry="0.85" fill="#f2e21c" transform="rotate(-30 237.69 153.77)"/>
<ellipse cx="234.00" cy="155.31" rx="1.54" ry="1.38" fill="#48c6ea"/>
<ellipse cx="241.54" cy="133.62" rx="1.23" ry="1.23" fill="#48c6ea"/>
<ellipse cx="246.15" cy="134.38" rx="1.08" ry="1.08" fill="#48c6ea"/>
<ellipse cx="243.85" cy="128.23" rx="0.92" ry="1.08" fill="#48c6ea"/>
<ellipse cx="266.46" cy="150.23" rx="4.62" ry="2.62" fill="#48c6ea"/>
<ellipse cx="266.46" cy="150.23" rx="4.15" ry="2.15" fill="#74da4c"/>
<ellipse cx="266.46" cy="150.23" rx="3.85" ry="1.85" fill="#f2e21c"/>
<ellipse cx="266.46" cy="150.23" rx="3.23" ry="1.38" fill="#d00a1e"/>
<ellipse cx="259.23" cy="157.46" rx="1.54" ry="2.46" fill="#48c6ea" transform="rotate(20 259.23 157.46)"/>
<ellipse cx="270.15" cy="158.38" rx="1.23" ry="2.31" fill="#48c6ea"/>
<ellipse cx="266.15" cy="129.46" rx="1.23" ry="1.23" fill="#48c6ea"/>
<ellipse cx="267.69" cy="135.92" rx="0.92" ry="1.23" fill="#48c6ea"/>
</g>
</g>
<rect x="201.3" y="120.2" width="77.00" height="76.10" fill="none" stroke="#222" stroke-width="0.9"/>
<g clip-path="url(#cb3)">
<rect x="333.5" y="40.5" width="76.20" height="75.40" fill="url(#gC)"/>
<rect x="333.5" y="40.5" width="76.20" height="75.40" filter="url(#noise)" opacity="0.3"/>
<g filter="url(#b06)">
<path d="M342.77,39.77 C353.28,38.10 393.49,38.36 404.31,39.77 C415.13,41.18 407.05,44.51 407.69,48.23 C408.33,51.95 408.59,58.10 408.15,62.08 C407.72,66.05 406.10,69.51 405.08,72.08 C404.05,74.64 402.77,79.13 402.00,77.46 C401.23,75.79 401.87,66.95 400.46,62.08 C399.05,57.21 397.26,50.54 393.54,48.23 C389.82,45.92 384.56,48.23 378.15,48.23 C371.74,48.23 361.23,47.97 355.08,48.23 C348.92,48.49 343.28,51.18 341.23,49.77 C339.18,48.36 332.26,41.44 342.77,39.77 Z" fill="#6560bb"/>
<path d="M351.23,40.85 C352.21,41.23 354.18,44.18 355.08,45.92 C355.97,47.67 356.15,49.38 356.62,51.31 C357.08,53.23 357.77,55.15 357.85,57.46 C357.92,59.77 357.33,62.85 357.08,65.15 C356.82,67.46 356.64,69.64 356.31,71.31 C355.97,72.97 355.67,73.82 355.08,75.15 C354.49,76.49 353.74,77.85 352.77,79.31 C351.79,80.77 350.13,82.64 349.23,83.92 C348.33,85.21 348.05,85.00 347.38,87.00 C346.72,89.00 346.21,92.90 345.23,95.92 C344.26,98.95 342.77,102.44 341.54,105.15 C340.31,107.87 338.97,110.44 337.85,112.23 C336.72,114.03 335.95,115.31 334.77,115.92 C333.59,116.54 331.44,116.90 330.77,115.92 C330.10,114.95 330.05,112.13 330.77,110.08 C331.49,108.03 333.67,106.23 335.08,103.62 C336.49,101.00 338.18,97.05 339.23,94.38 C340.28,91.72 341.15,89.41 341.38,87.62 C341.62,85.82 341.31,84.62 340.62,83.62 C339.92,82.62 338.41,82.10 337.23,81.62 C336.05,81.13 334.21,81.08 333.54,80.69 C332.87,80.31 332.56,79.79 333.23,79.31 C333.90,78.82 336.31,78.74 337.54,77.77 C338.77,76.79 339.95,75.31 340.62,73.46 C341.28,71.62 341.13,68.85 341.54,66.69 C341.95,64.54 342.77,62.13 343.08,60.54 C343.38,58.95 344.08,58.23 343.38,57.15 C342.69,56.08 340.00,54.85 338.92,54.08 C337.85,53.31 336.92,53.00 336.92,52.54 C336.92,52.08 337.38,51.13 338.92,51.31 C340.46,51.49 344.62,54.13 346.15,53.62 C347.69,53.10 347.64,49.90 348.15,48.23 C348.67,46.56 348.72,44.85 349.23,43.62 C349.74,42.38 350.26,40.46 351.23,40.85 Z" fill="#6560bb" stroke="#6560bb" stroke-width="6.77" stroke-linejoin="round" stroke-linecap="round"/>
<path d="M374.31,40.85 C375.33,40.72 376.74,43.92 377.38,45.92 C378.03,47.92 377.82,50.97 378.15,52.85 C378.49,54.72 378.74,56.28 379.38,57.15 C380.03,58.03 381.54,57.62 382.00,58.08 C382.46,58.54 382.49,59.31 382.15,59.92 C381.82,60.54 380.10,60.13 380.00,61.77 C379.90,63.41 380.95,67.15 381.54,69.77 C382.13,72.38 383.44,75.33 383.54,77.46 C383.64,79.59 383.00,81.31 382.15,82.54 C381.31,83.77 378.41,83.95 378.46,84.85 C378.51,85.74 381.56,86.90 382.46,87.92 C383.36,88.95 384.26,90.28 383.85,91.00 C383.44,91.72 381.28,92.74 380.00,92.23 C378.72,91.72 377.10,86.92 376.15,87.92 C375.21,88.92 375.46,93.69 374.31,98.23 C373.15,102.77 371.08,112.33 369.23,115.15 C367.38,117.97 363.21,117.97 363.23,115.15 C363.26,112.33 368.18,102.67 369.38,98.23 C370.59,93.79 371.18,90.72 370.46,88.54 C369.74,86.36 366.82,85.56 365.08,85.15 C363.33,84.74 361.28,86.18 360.00,86.08 C358.72,85.97 357.54,85.10 357.38,84.54 C357.23,83.97 358.03,83.10 359.08,82.69 C360.13,82.28 362.69,83.21 363.69,82.08 C364.69,80.95 364.59,78.23 365.08,75.92 C365.56,73.62 366.10,70.54 366.62,68.23 C367.13,65.92 367.77,63.87 368.15,62.08 C368.54,60.28 369.41,58.72 368.92,57.46 C368.44,56.21 366.13,55.31 365.23,54.54 C364.33,53.77 363.54,53.33 363.54,52.85 C363.54,52.36 364.21,51.49 365.23,51.62 C366.26,51.74 368.69,54.44 369.69,53.62 C370.69,52.79 370.46,48.82 371.23,46.69 C372.00,44.56 373.28,40.97 374.31,40.85 Z" fill="#6560bb" stroke="#6560bb" stroke-width="6.77" stroke-linejoin="round" stroke-linecap="round"/>
<path d="M397.38,42.38 C398.41,42.38 399.90,45.08 400.46,46.69 C401.03,48.31 401.03,50.49 400.77,52.08 C400.51,53.67 399.08,54.82 398.92,56.23 C398.77,57.64 399.56,58.28 399.85,60.54 C400.13,62.79 400.85,66.69 400.62,69.77 C400.38,72.85 399.49,76.69 398.46,79.00 C397.44,81.31 395.51,82.54 394.46,83.62 C393.41,84.69 393.05,83.03 392.15,85.46 C391.26,87.90 390.23,93.28 389.08,98.23 C387.92,103.18 386.46,112.33 385.23,115.15 C384.00,117.97 381.62,117.59 381.69,115.15 C381.77,112.72 384.46,105.49 385.69,100.54 C386.92,95.59 389.15,88.10 389.08,85.46 C389.00,82.82 386.18,85.10 385.23,84.69 C384.28,84.28 383.31,83.59 383.38,83.00 C383.46,82.41 385.28,82.59 385.69,81.15 C386.10,79.72 385.69,76.79 385.85,74.38 C386.00,71.97 386.10,69.00 386.62,66.69 C387.13,64.38 388.03,62.21 388.92,60.54 C389.82,58.87 391.95,57.46 392.00,56.69 C392.05,55.92 390.21,56.10 389.23,55.92 C388.26,55.74 387.03,55.92 386.15,55.62 C385.28,55.31 384.18,54.67 384.00,54.08 C383.82,53.49 384.38,52.33 385.08,52.08 C385.77,51.82 386.87,52.62 388.15,52.54 C389.44,52.46 391.74,52.59 392.77,51.62 C393.79,50.64 393.54,48.23 394.31,46.69 C395.08,45.15 396.36,42.38 397.38,42.38 Z" fill="#6560bb" stroke="#6560bb" stroke-width="6.77" stroke-linejoin="round" stroke-linecap="round"/>
<path d="M405.85,52.54 C406.51,52.44 407.49,53.26 407.69,53.77 C407.90,54.28 407.54,55.26 407.08,55.62 C406.62,55.97 405.49,56.13 404.92,55.92 C404.36,55.72 403.54,54.95 403.69,54.38 C403.85,53.82 405.18,52.64 405.85,52.54 Z" fill="#6560bb" stroke="#6560bb" stroke-width="6.77" stroke-linejoin="round" stroke-linecap="round"/>
<ellipse cx="339.38" cy="65.15" rx="3.38" ry="10.77" fill="#6560bb"/>
<ellipse cx="338.15" cy="92.85" rx="6.92" ry="12.31" fill="#6560bb"/>
<ellipse cx="364.31" cy="45.92" rx="4.31" ry="3.08" fill="#908cca" opacity="0.9"/>
<ellipse cx="385.08" cy="47.00" rx="3.69" ry="2.77" fill="#908cca" opacity="0.9"/>
<ellipse cx="341.23" cy="45.15" rx="4.62" ry="2.46" fill="#908cca" opacity="0.8"/>
<ellipse cx="362.31" cy="66.69" rx="1.85" ry="9.23" fill="#bdbdbd" opacity="0.95"/>
<ellipse cx="399.69" cy="81.31" rx="3.38" ry="2.77" fill="#8a8a8a" opacity="0.8"/>
</g>
<g filter="url(#b03)">
<path d="M351.23,40.85 C352.21,41.23 354.18,44.18 355.08,45.92 C355.97,47.67 356.15,49.38 356.62,51.31 C357.08,53.23 357.77,55.15 357.85,57.46 C357.92,59.77 357.33,62.85 357.08,65.15 C356.82,67.46 356.64,69.64 356.31,71.31 C355.97,72.97 355.67,73.82 355.08,75.15 C354.49,76.49 353.74,77.85 352.77,79.31 C351.79,80.77 350.13,82.64 349.23,83.92 C348.33,85.21 348.05,85.00 347.38,87.00 C346.72,89.00 346.21,92.90 345.23,95.92 C344.26,98.95 342.77,102.44 341.54,105.15 C340.31,107.87 338.97,110.44 337.85,112.23 C336.72,114.03 335.95,115.31 334.77,115.92 C333.59,116.54 331.44,116.90 330.77,115.92 C330.10,114.95 330.05,112.13 330.77,110.08 C331.49,108.03 333.67,106.23 335.08,103.62 C336.49,101.00 338.18,97.05 339.23,94.38 C340.28,91.72 341.15,89.41 341.38,87.62 C341.62,85.82 341.31,84.62 340.62,83.62 C339.92,82.62 338.41,82.10 337.23,81.62 C336.05,81.13 334.21,81.08 333.54,80.69 C332.87,80.31 332.56,79.79 333.23,79.31 C333.90,78.82 336.31,78.74 337.54,77.77 C338.77,76.79 339.95,75.31 340.62,73.46 C341.28,71.62 341.13,68.85 341.54,66.69 C341.95,64.54 342.77,62.13 343.08,60.54 C343.38,58.95 344.08,58.23 343.38,57.15 C342.69,56.08 340.00,54.85 338.92,54.08 C337.85,53.31 336.92,53.00 336.92,52.54 C336.92,52.08 337.38,51.13 338.92,51.31 C340.46,51.49 344.62,54.13 346.15,53.62 C347.69,53.10 347.64,49.90 348.15,48.23 C348.67,46.56 348.72,44.85 349.23,43.62 C349.74,42.38 350.26,40.46 351.23,40.85 Z" fill="#48c6ea" stroke="#48c6ea" stroke-width="1.54" stroke-linejoin="round" stroke-linecap="round"/>
<path d="M351.23,40.85 C352.21,41.23 354.18,44.18 355.08,45.92 C355.97,47.67 356.15,49.38 356.62,51.31 C357.08,53.23 357.77,55.15 357.85,57.46 C357.92,59.77 357.33,62.85 357.08,65.15 C356.82,67.46 356.64,69.64 356.31,71.31 C355.97,72.97 355.67,73.82 355.08,75.15 C354.49,76.49 353.74,77.85 352.77,79.31 C351.79,80.77 350.13,82.64 349.23,83.92 C348.33,85.21 348.05,85.00 347.38,87.00 C346.72,89.00 346.21,92.90 345.23,95.92 C344.26,98.95 342.77,102.44 341.54,105.15 C340.31,107.87 338.97,110.44 337.85,112.23 C336.72,114.03 335.95,115.31 334.77,115.92 C333.59,116.54 331.44,116.90 330.77,115.92 C330.10,114.95 330.05,112.13 330.77,110.08 C331.49,108.03 333.67,106.23 335.08,103.62 C336.49,101.00 338.18,97.05 339.23,94.38 C340.28,91.72 341.15,89.41 341.38,87.62 C341.62,85.82 341.31,84.62 340.62,83.62 C339.92,82.62 338.41,82.10 337.23,81.62 C336.05,81.13 334.21,81.08 333.54,80.69 C332.87,80.31 332.56,79.79 333.23,79.31 C333.90,78.82 336.31,78.74 337.54,77.77 C338.77,76.79 339.95,75.31 340.62,73.46 C341.28,71.62 341.13,68.85 341.54,66.69 C341.95,64.54 342.77,62.13 343.08,60.54 C343.38,58.95 344.08,58.23 343.38,57.15 C342.69,56.08 340.00,54.85 338.92,54.08 C337.85,53.31 336.92,53.00 336.92,52.54 C336.92,52.08 337.38,51.13 338.92,51.31 C340.46,51.49 344.62,54.13 346.15,53.62 C347.69,53.10 347.64,49.90 348.15,48.23 C348.67,46.56 348.72,44.85 349.23,43.62 C349.74,42.38 350.26,40.46 351.23,40.85 Z" fill="#f2e21c" stroke="#f2e21c" stroke-width="0.92" stroke-linejoin="round" stroke-linecap="round"/>
<path d="M351.23,40.85 C352.21,41.23 354.18,44.18 355.08,45.92 C355.97,47.67 356.15,49.38 356.62,51.31 C357.08,53.23 357.77,55.15 357.85,57.46 C357.92,59.77 357.33,62.85 357.08,65.15 C356.82,67.46 356.64,69.64 356.31,71.31 C355.97,72.97 355.67,73.82 355.08,75.15 C354.49,76.49 353.74,77.85 352.77,79.31 C351.79,80.77 350.13,82.64 349.23,83.92 C348.33,85.21 348.05,85.00 347.38,87.00 C346.72,89.00 346.21,92.90 345.23,95.92 C344.26,98.95 342.77,102.44 341.54,105.15 C340.31,107.87 338.97,110.44 337.85,112.23 C336.72,114.03 335.95,115.31 334.77,115.92 C333.59,116.54 331.44,116.90 330.77,115.92 C330.10,114.95 330.05,112.13 330.77,110.08 C331.49,108.03 333.67,106.23 335.08,103.62 C336.49,101.00 338.18,97.05 339.23,94.38 C340.28,91.72 341.15,89.41 341.38,87.62 C341.62,85.82 341.31,84.62 340.62,83.62 C339.92,82.62 338.41,82.10 337.23,81.62 C336.05,81.13 334.21,81.08 333.54,80.69 C332.87,80.31 332.56,79.79 333.23,79.31 C333.90,78.82 336.31,78.74 337.54,77.77 C338.77,76.79 339.95,75.31 340.62,73.46 C341.28,71.62 341.13,68.85 341.54,66.69 C341.95,64.54 342.77,62.13 343.08,60.54 C343.38,58.95 344.08,58.23 343.38,57.15 C342.69,56.08 340.00,54.85 338.92,54.08 C337.85,53.31 336.92,53.00 336.92,52.54 C336.92,52.08 337.38,51.13 338.92,51.31 C340.46,51.49 344.62,54.13 346.15,53.62 C347.69,53.10 347.64,49.90 348.15,48.23 C348.67,46.56 348.72,44.85 349.23,43.62 C349.74,42.38 350.26,40.46 351.23,40.85 Z" fill="#d00a1e" stroke="#d00a1e" stroke-width="0.38" stroke-linejoin="round" stroke-linecap="round"/>
<path d="M374.31,40.85 C375.33,40.72 376.74,43.92 377.38,45.92 C378.03,47.92 377.82,50.97 378.15,52.85 C378.49,54.72 378.74,56.28 379.38,57.15 C380.03,58.03 381.54,57.62 382.00,58.08 C382.46,58.54 382.49,59.31 382.15,59.92 C381.82,60.54 380.10,60.13 380.00,61.77 C379.90,63.41 380.95,67.15 381.54,69.77 C382.13,72.38 383.44,75.33 383.54,77.46 C383.64,79.59 383.00,81.31 382.15,82.54 C381.31,83.77 378.41,83.95 378.46,84.85 C378.51,85.74 381.56,86.90 382.46,87.92 C383.36,88.95 384.26,90.28 383.85,91.00 C383.44,91.72 381.28,92.74 380.00,92.23 C378.72,91.72 377.10,86.92 376.15,87.92 C375.21,88.92 375.46,93.69 374.31,98.23 C373.15,102.77 371.08,112.33 369.23,115.15 C367.38,117.97 363.21,117.97 363.23,115.15 C363.26,112.33 368.18,102.67 369.38,98.23 C370.59,93.79 371.18,90.72 370.46,88.54 C369.74,86.36 366.82,85.56 365.08,85.15 C363.33,84.74 361.28,86.18 360.00,86.08 C358.72,85.97 357.54,85.10 357.38,84.54 C357.23,83.97 358.03,83.10 359.08,82.69 C360.13,82.28 362.69,83.21 363.69,82.08 C364.69,80.95 364.59,78.23 365.08,75.92 C365.56,73.62 366.10,70.54 366.62,68.23 C367.13,65.92 367.77,63.87 368.15,62.08 C368.54,60.28 369.41,58.72 368.92,57.46 C368.44,56.21 366.13,55.31 365.23,54.54 C364.33,53.77 363.54,53.33 363.54,52.85 C363.54,52.36 364.21,51.49 365.23,51.62 C366.26,51.74 368.69,54.44 369.69,53.62 C370.69,52.79 370.46,48.82 371.23,46.69 C372.00,44.56 373.28,40.97 374.31,40.85 Z" fill="#48c6ea" stroke="#48c6ea" stroke-width="1.54" stroke-linejoin="round" stroke-linecap="round"/>
<path d="M374.31,40.85 C375.33,40.72 376.74,43.92 377.38,45.92 C378.03,47.92 377.82,50.97 378.15,52.85 C378.49,54.72 378.74,56.28 379.38,57.15 C380.03,58.03 381.54,57.62 382.00,58.08 C382.46,58.54 382.49,59.31 382.15,59.92 C381.82,60.54 380.10,60.13 380.00,61.77 C379.90,63.41 380.95,67.15 381.54,69.77 C382.13,72.38 383.44,75.33 383.54,77.46 C383.64,79.59 383.00,81.31 382.15,82.54 C381.31,83.77 378.41,83.95 378.46,84.85 C378.51,85.74 381.56,86.90 382.46,87.92 C383.36,88.95 384.26,90.28 383.85,91.00 C383.44,91.72 381.28,92.74 380.00,92.23 C378.72,91.72 377.10,86.92 376.15,87.92 C375.21,88.92 375.46,93.69 374.31,98.23 C373.15,102.77 371.08,112.33 369.23,115.15 C367.38,117.97 363.21,117.97 363.23,115.15 C363.26,112.33 368.18,102.67 369.38,98.23 C370.59,93.79 371.18,90.72 370.46,88.54 C369.74,86.36 366.82,85.56 365.08,85.15 C363.33,84.74 361.28,86.18 360.00,86.08 C358.72,85.97 357.54,85.10 357.38,84.54 C357.23,83.97 358.03,83.10 359.08,82.69 C360.13,82.28 362.69,83.21 363.69,82.08 C364.69,80.95 364.59,78.23 365.08,75.92 C365.56,73.62 366.10,70.54 366.62,68.23 C367.13,65.92 367.77,63.87 368.15,62.08 C368.54,60.28 369.41,58.72 368.92,57.46 C368.44,56.21 366.13,55.31 365.23,54.54 C364.33,53.77 363.54,53.33 363.54,52.85 C363.54,52.36 364.21,51.49 365.23,51.62 C366.26,51.74 368.69,54.44 369.69,53.62 C370.69,52.79 370.46,48.82 371.23,46.69 C372.00,44.56 373.28,40.97 374.31,40.85 Z" fill="#f2e21c" stroke="#f2e21c" stroke-width="0.92" stroke-linejoin="round" stroke-linecap="round"/>
<path d="M374.31,40.85 C375.33,40.72 376.74,43.92 377.38,45.92 C378.03,47.92 377.82,50.97 378.15,52.85 C378.49,54.72 378.74,56.28 379.38,57.15 C380.03,58.03 381.54,57.62 382.00,58.08 C382.46,58.54 382.49,59.31 382.15,59.92 C381.82,60.54 380.10,60.13 380.00,61.77 C379.90,63.41 380.95,67.15 381.54,69.77 C382.13,72.38 383.44,75.33 383.54,77.46 C383.64,79.59 383.00,81.31 382.15,82.54 C381.31,83.77 378.41,83.95 378.46,84.85 C378.51,85.74 381.56,86.90 382.46,87.92 C383.36,88.95 384.26,90.28 383.85,91.00 C383.44,91.72 381.28,92.74 380.00,92.23 C378.72,91.72 377.10,86.92 376.15,87.92 C375.21,88.92 375.46,93.69 374.31,98.23 C373.15,102.77 371.08,112.33 369.23,115.15 C367.38,117.97 363.21,117.97 363.23,115.15 C363.26,112.33 368.18,102.67 369.38,98.23 C370.59,93.79 371.18,90.72 370.46,88.54 C369.74,86.36 366.82,85.56 365.08,85.15 C363.33,84.74 361.28,86.18 360.00,86.08 C358.72,85.97 357.54,85.10 357.38,84.54 C357.23,83.97 358.03,83.10 359.08,82.69 C360.13,82.28 362.69,83.21 363.69,82.08 C364.69,80.95 364.59,78.23 365.08,75.92 C365.56,73.62 366.10,70.54 366.62,68.23 C367.13,65.92 367.77,63.87 368.15,62.08 C368.54,60.28 369.41,58.72 368.92,57.46 C368.44,56.21 366.13,55.31 365.23,54.54 C364.33,53.77 363.54,53.33 363.54,52.85 C363.54,52.36 364.21,51.49 365.23,51.62 C366.26,51.74 368.69,54.44 369.69,53.62 C370.69,52.79 370.46,48.82 371.23,46.69 C372.00,44.56 373.28,40.97 374.31,40.85 Z" fill="#d00a1e" stroke="#d00a1e" stroke-width="0.38" stroke-linejoin="round" stroke-linecap="round"/>
<path d="M397.38,42.38 C398.41,42.38 399.90,45.08 400.46,46.69 C401.03,48.31 401.03,50.49 400.77,52.08 C400.51,53.67 399.08,54.82 398.92,56.23 C398.77,57.64 399.56,58.28 399.85,60.54 C400.13,62.79 400.85,66.69 400.62,69.77 C400.38,72.85 399.49,76.69 398.46,79.00 C397.44,81.31 395.51,82.54 394.46,83.62 C393.41,84.69 393.05,83.03 392.15,85.46 C391.26,87.90 390.23,93.28 389.08,98.23 C387.92,103.18 386.46,112.33 385.23,115.15 C384.00,117.97 381.62,117.59 381.69,115.15 C381.77,112.72 384.46,105.49 385.69,100.54 C386.92,95.59 389.15,88.10 389.08,85.46 C389.00,82.82 386.18,85.10 385.23,84.69 C384.28,84.28 383.31,83.59 383.38,83.00 C383.46,82.41 385.28,82.59 385.69,81.15 C386.10,79.72 385.69,76.79 385.85,74.38 C386.00,71.97 386.10,69.00 386.62,66.69 C387.13,64.38 388.03,62.21 388.92,60.54 C389.82,58.87 391.95,57.46 392.00,56.69 C392.05,55.92 390.21,56.10 389.23,55.92 C388.26,55.74 387.03,55.92 386.15,55.62 C385.28,55.31 384.18,54.67 384.00,54.08 C383.82,53.49 384.38,52.33 385.08,52.08 C385.77,51.82 386.87,52.62 388.15,52.54 C389.44,52.46 391.74,52.59 392.77,51.62 C393.79,50.64 393.54,48.23 394.31,46.69 C395.08,45.15 396.36,42.38 397.38,42.38 Z" fill="#48c6ea" stroke="#48c6ea" stroke-width="1.54" stroke-linejoin="round" stroke-linecap="round"/>
<path d="M397.38,42.38 C398.41,42.38 399.90,45.08 400.46,46.69 C401.03,48.31 401.03,50.49 400.77,52.08 C400.51,53.67 399.08,54.82 398.92,56.23 C398.77,57.64 399.56,58.28 399.85,60.54 C400.13,62.79 400.85,66.69 400.62,69.77 C400.38,72.85 399.49,76.69 398.46,79.00 C397.44,81.31 395.51,82.54 394.46,83.62 C393.41,84.69 393.05,83.03 392.15,85.46 C391.26,87.90 390.23,93.28 389.08,98.23 C387.92,103.18 386.46,112.33 385.23,115.15 C384.00,117.97 381.62,117.59 381.69,115.15 C381.77,112.72 384.46,105.49 385.69,100.54 C386.92,95.59 389.15,88.10 389.08,85.46 C389.00,82.82 386.18,85.10 385.23,84.69 C384.28,84.28 383.31,83.59 383.38,83.00 C383.46,82.41 385.28,82.59 385.69,81.15 C386.10,79.72 385.69,76.79 385.85,74.38 C386.00,71.97 386.10,69.00 386.62,66.69 C387.13,64.38 388.03,62.21 388.92,60.54 C389.82,58.87 391.95,57.46 392.00,56.69 C392.05,55.92 390.21,56.10 389.23,55.92 C388.26,55.74 387.03,55.92 386.15,55.62 C385.28,55.31 384.18,54.67 384.00,54.08 C383.82,53.49 384.38,52.33 385.08,52.08 C385.77,51.82 386.87,52.62 388.15,52.54 C389.44,52.46 391.74,52.59 392.77,51.62 C393.79,50.64 393.54,48.23 394.31,46.69 C395.08,45.15 396.36,42.38 397.38,42.38 Z" fill="#f2e21c" stroke="#f2e21c" stroke-width="0.92" stroke-linejoin="round" stroke-linecap="round"/>
<path d="M397.38,42.38 C398.41,42.38 399.90,45.08 400.46,46.69 C401.03,48.31 401.03,50.49 400.77,52.08 C400.51,53.67 399.08,54.82 398.92,56.23 C398.77,57.64 399.56,58.28 399.85,60.54 C400.13,62.79 400.85,66.69 400.62,69.77 C400.38,72.85 399.49,76.69 398.46,79.00 C397.44,81.31 395.51,82.54 394.46,83.62 C393.41,84.69 393.05,83.03 392.15,85.46 C391.26,87.90 390.23,93.28 389.08,98.23 C387.92,103.18 386.46,112.33 385.23,115.15 C384.00,117.97 381.62,117.59 381.69,115.15 C381.77,112.72 384.46,105.49 385.69,100.54 C386.92,95.59 389.15,88.10 389.08,85.46 C389.00,82.82 386.18,85.10 385.23,84.69 C384.28,84.28 383.31,83.59 383.38,83.00 C383.46,82.41 385.28,82.59 385.69,81.15 C386.10,79.72 385.69,76.79 385.85,74.38 C386.00,71.97 386.10,69.00 386.62,66.69 C387.13,64.38 388.03,62.21 388.92,60.54 C389.82,58.87 391.95,57.46 392.00,56.69 C392.05,55.92 390.21,56.10 389.23,55.92 C388.26,55.74 387.03,55.92 386.15,55.62 C385.28,55.31 384.18,54.67 384.00,54.08 C383.82,53.49 384.38,52.33 385.08,52.08 C385.77,51.82 386.87,52.62 388.15,52.54 C389.44,52.46 391.74,52.59 392.77,51.62 C393.79,50.64 393.54,48.23 394.31,46.69 C395.08,45.15 396.36,42.38 397.38,42.38 Z" fill="#d00a1e" stroke="#d00a1e" stroke-width="0.38" stroke-linejoin="round" stroke-linecap="round"/>
<path d="M405.85,52.54 C406.51,52.44 407.49,53.26 407.69,53.77 C407.90,54.28 407.54,55.26 407.08,55.62 C406.62,55.97 405.49,56.13 404.92,55.92 C404.36,55.72 403.54,54.95 403.69,54.38 C403.85,53.82 405.18,52.64 405.85,52.54 Z" fill="#48c6ea" stroke="#48c6ea" stroke-width="1.54" stroke-linejoin="round" stroke-linecap="round"/>
<path d="M405.85,52.54 C406.51,52.44 407.49,53.26 407.69,53.77 C407.90,54.28 407.54,55.26 407.08,55.62 C406.62,55.97 405.49,56.13 404.92,55.92 C404.36,55.72 403.54,54.95 403.69,54.38 C403.85,53.82 405.18,52.64 405.85,52.54 Z" fill="#f2e21c" stroke="#f2e21c" stroke-width="0.92" stroke-linejoin="round" stroke-linecap="round"/>
<path d="M405.85,52.54 C406.51,52.44 407.49,53.26 407.69,53.77 C407.90,54.28 407.54,55.26 407.08,55.62 C406.62,55.97 405.49,56.13 404.92,55.92 C404.36,55.72 403.54,54.95 403.69,54.38 C403.85,53.82 405.18,52.64 405.85,52.54 Z" fill="#d00a1e" stroke="#d00a1e" stroke-width="0.38" stroke-linejoin="round" stroke-linecap="round"/>
<path d="M389.23,57.15 C390.72,57.41 396.03,58.13 398.15,58.69 C400.28,59.26 401.36,60.23 402.00,60.54 " fill="none" stroke="#48c6ea" stroke-width="0.92" stroke-linejoin="round" stroke-linecap="round"/>
<path d="M389.69,57.15 C391.10,57.41 396.74,58.44 398.15,58.69 " fill="none" stroke="#f2e21c" stroke-width="0.46" stroke-linejoin="round" stroke-linecap="round"/>
</g>
</g>
<rect x="333.5" y="40.5" width="76.20" height="75.40" fill="none" stroke="#222" stroke-width="0.9"/>
<g clip-path="url(#cb4)">
<rect x="412.2" y="40.5" width="76.30" height="75.40" fill="url(#gC)"/>
<rect x="412.2" y="40.5" width="76.30" height="75.40" filter="url(#noise)" opacity="0.3"/>
<g filter="url(#b06)">
<path d="M411.00,39.00 L487.92,39.00 L487.92,53.62 L484.54,55.92 L483.00,69.77 L481.46,83.62 L479.46,92.08 L475.62,90.54 L473.77,100.54 L472.85,115.92 L466.38,115.92 L465.77,103.62 L463.00,96.23 L457.15,100.23 L452.85,96.23 L450.38,103.62 L447.92,115.92 L441.15,115.92 L443.92,100.54 L440.23,96.23 L429.46,94.69 L423.92,97.46 L422.69,115.92 L413.77,115.92 L413.15,92.08 L411.00,90.54 Z" fill="#6560bb"/>
</g>
<g filter="url(#b06)">
<path d="M481.00,53.62 L487.92,52.85 L487.92,92.08 L479.46,92.08 L481.77,77.46 L483.00,62.08 Z" fill="#8f8bc8"/>
</g>
<g filter="url(#b03)">
<ellipse cx="481.19" cy="71.17" rx="0.69" ry="0.69" fill="#6560bb" opacity="0.85"/>
<ellipse cx="485.19" cy="87.57" rx="0.69" ry="0.69" fill="#6560bb" opacity="0.85"/>
<ellipse cx="484.03" cy="62.91" rx="0.69" ry="0.69" fill="#6560bb" opacity="0.85"/>
<ellipse cx="484.71" cy="54.11" rx="0.69" ry="0.69" fill="#6560bb" opacity="0.85"/>
<ellipse cx="482.03" cy="83.66" rx="0.69" ry="0.69" fill="#6560bb" opacity="0.85"/>
<ellipse cx="484.99" cy="58.39" rx="0.69" ry="0.69" fill="#6560bb" opacity="0.85"/>
<ellipse cx="486.63" cy="61.51" rx="0.69" ry="0.69" fill="#6560bb" opacity="0.85"/>
<ellipse cx="482.32" cy="89.08" rx="0.69" ry="0.69" fill="#6560bb" opacity="0.85"/>
<ellipse cx="483.33" cy="59.87" rx="0.69" ry="0.69" fill="#6560bb" opacity="0.85"/>
<ellipse cx="481.42" cy="64.97" rx="0.69" ry="0.69" fill="#6560bb" opacity="0.85"/>
<ellipse cx="481.02" cy="79.17" rx="0.69" ry="0.69" fill="#6560bb" opacity="0.85"/>
<ellipse cx="483.00" cy="84.47" rx="0.69" ry="0.69" fill="#6560bb" opacity="0.85"/>
<ellipse cx="483.04" cy="71.75" rx="0.69" ry="0.69" fill="#6560bb" opacity="0.85"/>
<ellipse cx="481.37" cy="90.37" rx="0.69" ry="0.69" fill="#6560bb" opacity="0.85"/>
<ellipse cx="485.84" cy="85.46" rx="0.69" ry="0.69" fill="#6560bb" opacity="0.85"/>
<ellipse cx="481.06" cy="55.38" rx="0.69" ry="0.69" fill="#6560bb" opacity="0.85"/>
<ellipse cx="481.70" cy="81.82" rx="0.69" ry="0.69" fill="#6560bb" opacity="0.85"/>
<ellipse cx="481.59" cy="66.46" rx="0.69" ry="0.69" fill="#6560bb" opacity="0.85"/>
<ellipse cx="484.52" cy="65.39" rx="0.69" ry="0.69" fill="#6560bb" opacity="0.85"/>
<ellipse cx="482.15" cy="56.56" rx="0.69" ry="0.69" fill="#6560bb" opacity="0.85"/>
<ellipse cx="485.45" cy="91.18" rx="0.69" ry="0.69" fill="#6560bb" opacity="0.85"/>
<ellipse cx="481.31" cy="90.81" rx="0.69" ry="0.69" fill="#6560bb" opacity="0.85"/>
<ellipse cx="483.62" cy="62.56" rx="0.69" ry="0.69" fill="#6560bb" opacity="0.85"/>
<ellipse cx="481.36" cy="88.14" rx="0.69" ry="0.69" fill="#6560bb" opacity="0.85"/>
<ellipse cx="484.19" cy="85.22" rx="0.69" ry="0.69" fill="#6560bb" opacity="0.85"/>
<ellipse cx="481.96" cy="85.46" rx="0.69" ry="0.69" fill="#6560bb" opacity="0.85"/>
<ellipse cx="485.71" cy="71.67" rx="0.69" ry="0.69" fill="#6560bb" opacity="0.85"/>
<ellipse cx="483.61" cy="59.14" rx="0.69" ry="0.69" fill="#6560bb" opacity="0.85"/>
<ellipse cx="484.23" cy="66.37" rx="0.69" ry="0.69" fill="#6560bb" opacity="0.85"/>
<ellipse cx="483.35" cy="80.17" rx="0.69" ry="0.69" fill="#6560bb" opacity="0.85"/>
<ellipse cx="482.90" cy="89.26" rx="0.69" ry="0.69" fill="#6560bb" opacity="0.85"/>
<ellipse cx="482.62" cy="78.93" rx="0.69" ry="0.69" fill="#6560bb" opacity="0.85"/>
<ellipse cx="484.75" cy="78.70" rx="0.69" ry="0.69" fill="#6560bb" opacity="0.85"/>
<ellipse cx="485.65" cy="54.66" rx="0.69" ry="0.69" fill="#6560bb" opacity="0.85"/>
<ellipse cx="483.85" cy="78.12" rx="0.69" ry="0.69" fill="#6560bb" opacity="0.85"/>
<ellipse cx="485.43" cy="77.39" rx="0.69" ry="0.69" fill="#6560bb" opacity="0.85"/>
<ellipse cx="484.05" cy="62.14" rx="0.69" ry="0.69" fill="#6560bb" opacity="0.85"/>
<ellipse cx="481.86" cy="65.58" rx="0.69" ry="0.69" fill="#6560bb" opacity="0.85"/>
<ellipse cx="482.25" cy="54.96" rx="0.69" ry="0.69" fill="#6560bb" opacity="0.85"/>
<ellipse cx="483.46" cy="76.68" rx="0.69" ry="0.69" fill="#6560bb" opacity="0.85"/>
<ellipse cx="482.54" cy="87.66" rx="0.69" ry="0.69" fill="#6560bb" opacity="0.85"/>
<ellipse cx="483.62" cy="64.11" rx="0.69" ry="0.69" fill="#6560bb" opacity="0.85"/>
<ellipse cx="481.74" cy="84.95" rx="0.69" ry="0.69" fill="#6560bb" opacity="0.85"/>
<ellipse cx="481.23" cy="76.74" rx="0.69" ry="0.69" fill="#6560bb" opacity="0.85"/>
<ellipse cx="481.92" cy="76.08" rx="0.69" ry="0.69" fill="#6560bb" opacity="0.85"/>
<ellipse cx="483.27" cy="87.29" rx="0.69" ry="0.69" fill="#6560bb" opacity="0.85"/>
<ellipse cx="481.70" cy="74.94" rx="0.69" ry="0.69" fill="#6560bb" opacity="0.85"/>
<ellipse cx="483.43" cy="69.89" rx="0.69" ry="0.69" fill="#6560bb" opacity="0.85"/>
<ellipse cx="482.88" cy="90.27" rx="0.69" ry="0.69" fill="#6560bb" opacity="0.85"/>
<ellipse cx="482.68" cy="90.59" rx="0.69" ry="0.69" fill="#6560bb" opacity="0.85"/>
<ellipse cx="484.18" cy="64.41" rx="0.69" ry="0.69" fill="#6560bb" opacity="0.85"/>
<ellipse cx="430.06" cy="97.15" rx="0.62" ry="0.62" fill="#6560bb" opacity="0.75"/>
<ellipse cx="447.87" cy="94.88" rx="0.62" ry="0.62" fill="#6560bb" opacity="0.75"/>
<ellipse cx="466.60" cy="98.57" rx="0.62" ry="0.62" fill="#6560bb" opacity="0.75"/>
<ellipse cx="424.04" cy="96.53" rx="0.62" ry="0.62" fill="#6560bb" opacity="0.75"/>
<ellipse cx="438.47" cy="99.32" rx="0.62" ry="0.62" fill="#6560bb" opacity="0.75"/>
<ellipse cx="466.61" cy="94.55" rx="0.62" ry="0.62" fill="#6560bb" opacity="0.75"/>
<ellipse cx="438.13" cy="93.92" rx="0.62" ry="0.62" fill="#6560bb" opacity="0.75"/>
<ellipse cx="478.07" cy="94.88" rx="0.62" ry="0.62" fill="#6560bb" opacity="0.75"/>
<ellipse cx="456.98" cy="96.13" rx="0.62" ry="0.62" fill="#6560bb" opacity="0.75"/>
<ellipse cx="459.02" cy="97.03" rx="0.62" ry="0.62" fill="#6560bb" opacity="0.75"/>
<ellipse cx="464.48" cy="93.66" rx="0.62" ry="0.62" fill="#6560bb" opacity="0.75"/>
<ellipse cx="465.42" cy="94.93" rx="0.62" ry="0.62" fill="#6560bb" opacity="0.75"/>
<ellipse cx="452.86" cy="95.17" rx="0.62" ry="0.62" fill="#6560bb" opacity="0.75"/>
<ellipse cx="439.75" cy="96.51" rx="0.62" ry="0.62" fill="#6560bb" opacity="0.75"/>
<ellipse cx="449.02" cy="95.35" rx="0.62" ry="0.62" fill="#6560bb" opacity="0.75"/>
<ellipse cx="464.57" cy="96.94" rx="0.62" ry="0.62" fill="#6560bb" opacity="0.75"/>
<ellipse cx="425.33" cy="94.59" rx="0.62" ry="0.62" fill="#6560bb" opacity="0.75"/>
<ellipse cx="448.54" cy="99.19" rx="0.62" ry="0.62" fill="#6560bb" opacity="0.75"/>
<ellipse cx="472.49" cy="96.62" rx="0.62" ry="0.62" fill="#6560bb" opacity="0.75"/>
<ellipse cx="424.11" cy="98.23" rx="0.62" ry="0.62" fill="#6560bb" opacity="0.75"/>
<ellipse cx="447.00" cy="96.83" rx="0.62" ry="0.62" fill="#6560bb" opacity="0.75"/>
<ellipse cx="462.53" cy="97.22" rx="0.62" ry="0.62" fill="#6560bb" opacity="0.75"/>
<ellipse cx="450.00" cy="99.16" rx="0.62" ry="0.62" fill="#6560bb" opacity="0.75"/>
<ellipse cx="444.66" cy="95.56" rx="0.62" ry="0.62" fill="#6560bb" opacity="0.75"/>
<ellipse cx="470.49" cy="94.21" rx="0.62" ry="0.62" fill="#6560bb" opacity="0.75"/>
<ellipse cx="439.73" cy="98.59" rx="0.62" ry="0.62" fill="#6560bb" opacity="0.75"/>
<ellipse cx="426.97" cy="98.64" rx="0.62" ry="0.62" fill="#6560bb" opacity="0.75"/>
<ellipse cx="461.78" cy="95.84" rx="0.62" ry="0.62" fill="#6560bb" opacity="0.75"/>
<ellipse cx="439.17" cy="98.25" rx="0.62" ry="0.62" fill="#6560bb" opacity="0.75"/>
<ellipse cx="473.75" cy="93.83" rx="0.62" ry="0.62" fill="#6560bb" opacity="0.75"/>
<ellipse cx="449.80" cy="96.65" rx="0.62" ry="0.62" fill="#6560bb" opacity="0.75"/>
<ellipse cx="450.87" cy="95.14" rx="0.62" ry="0.62" fill="#6560bb" opacity="0.75"/>
<ellipse cx="431.81" cy="96.90" rx="0.62" ry="0.62" fill="#6560bb" opacity="0.75"/>
<ellipse cx="468.27" cy="93.32" rx="0.62" ry="0.62" fill="#6560bb" opacity="0.75"/>
<ellipse cx="436.05" cy="98.52" rx="0.62" ry="0.62" fill="#6560bb" opacity="0.75"/>
<ellipse cx="467.16" cy="97.44" rx="0.62" ry="0.62" fill="#6560bb" opacity="0.75"/>
<ellipse cx="424.72" cy="97.85" rx="0.62" ry="0.62" fill="#6560bb" opacity="0.75"/>
<ellipse cx="477.51" cy="99.76" rx="0.62" ry="0.62" fill="#6560bb" opacity="0.75"/>
<ellipse cx="462.15" cy="93.18" rx="0.62" ry="0.62" fill="#6560bb" opacity="0.75"/>
<ellipse cx="469.95" cy="94.36" rx="0.62" ry="0.62" fill="#6560bb" opacity="0.75"/>
<ellipse cx="459.07" cy="99.44" rx="0.62" ry="0.62" fill="#6560bb" opacity="0.75"/>
<ellipse cx="462.77" cy="93.78" rx="0.62" ry="0.62" fill="#6560bb" opacity="0.75"/>
<ellipse cx="439.51" cy="99.20" rx="0.62" ry="0.62" fill="#6560bb" opacity="0.75"/>
<ellipse cx="431.60" cy="97.07" rx="0.62" ry="0.62" fill="#6560bb" opacity="0.75"/>
<ellipse cx="446.23" cy="93.96" rx="0.62" ry="0.62" fill="#6560bb" opacity="0.75"/>
<ellipse cx="457.78" cy="93.15" rx="0.62" ry="0.62" fill="#6560bb" opacity="0.75"/>
<ellipse cx="429.30" cy="95.47" rx="0.62" ry="0.62" fill="#6560bb" opacity="0.75"/>
<ellipse cx="427.30" cy="93.24" rx="0.62" ry="0.62" fill="#6560bb" opacity="0.75"/>
<ellipse cx="455.17" cy="97.99" rx="0.62" ry="0.62" fill="#6560bb" opacity="0.75"/>
<ellipse cx="471.96" cy="93.78" rx="0.62" ry="0.62" fill="#6560bb" opacity="0.75"/>
<ellipse cx="447.22" cy="95.02" rx="0.62" ry="0.62" fill="#6560bb" opacity="0.75"/>
<ellipse cx="456.55" cy="96.24" rx="0.62" ry="0.62" fill="#6560bb" opacity="0.75"/>
<ellipse cx="475.29" cy="95.44" rx="0.62" ry="0.62" fill="#6560bb" opacity="0.75"/>
<ellipse cx="426.40" cy="97.67" rx="0.62" ry="0.62" fill="#6560bb" opacity="0.75"/>
<ellipse cx="431.68" cy="97.22" rx="0.62" ry="0.62" fill="#6560bb" opacity="0.75"/>
<ellipse cx="451.32" cy="99.15" rx="0.62" ry="0.62" fill="#6560bb" opacity="0.75"/>
<ellipse cx="454.04" cy="97.14" rx="0.62" ry="0.62" fill="#6560bb" opacity="0.75"/>
<ellipse cx="437.89" cy="96.67" rx="0.62" ry="0.62" fill="#6560bb" opacity="0.75"/>
<ellipse cx="437.39" cy="98.04" rx="0.62" ry="0.62" fill="#6560bb" opacity="0.75"/>
<ellipse cx="451.94" cy="93.77" rx="0.62" ry="0.62" fill="#6560bb" opacity="0.75"/>
<path d="M427.15,41.77 C428.18,41.77 429.46,44.85 430.23,46.69 C431.00,48.54 431.64,51.05 431.77,52.85 C431.90,54.64 430.87,55.92 431.00,57.46 C431.13,59.00 432.36,60.03 432.54,62.08 C432.72,64.13 432.03,67.21 432.08,69.77 C432.13,72.33 433.13,75.41 432.85,77.46 C432.56,79.51 431.31,81.05 430.38,82.08 C429.46,83.10 427.31,82.97 427.31,83.62 C427.31,84.26 429.26,85.15 430.38,85.92 C431.51,86.69 433.56,87.46 434.08,88.23 C434.59,89.00 434.33,90.26 433.46,90.54 C432.59,90.82 430.18,90.67 428.85,89.92 C427.51,89.18 426.59,86.56 425.46,86.08 C424.33,85.59 422.69,84.59 422.08,87.00 C421.46,89.41 421.92,95.85 421.77,100.54 C421.62,105.23 422.08,112.72 421.15,115.15 C420.23,117.59 416.95,117.59 416.23,115.15 C415.51,112.72 416.64,105.49 416.85,100.54 C417.05,95.59 417.87,88.38 417.46,85.46 C417.05,82.54 414.95,84.33 414.38,83.00 C413.82,81.67 413.74,79.67 414.08,77.46 C414.41,75.26 415.74,72.33 416.38,69.77 C417.03,67.21 417.28,64.13 417.92,62.08 C418.56,60.03 419.46,58.74 420.23,57.46 C421.00,56.18 421.90,56.18 422.54,54.38 C423.18,52.59 423.31,48.79 424.08,46.69 C424.85,44.59 426.13,41.77 427.15,41.77 Z" fill="#48c6ea" stroke="#48c6ea" stroke-width="1.54" stroke-linejoin="round" stroke-linecap="round"/>
<path d="M427.15,41.77 C428.18,41.77 429.46,44.85 430.23,46.69 C431.00,48.54 431.64,51.05 431.77,52.85 C431.90,54.64 430.87,55.92 431.00,57.46 C431.13,59.00 432.36,60.03 432.54,62.08 C432.72,64.13 432.03,67.21 432.08,69.77 C432.13,72.33 433.13,75.41 432.85,77.46 C432.56,79.51 431.31,81.05 430.38,82.08 C429.46,83.10 427.31,82.97 427.31,83.62 C427.31,84.26 429.26,85.15 430.38,85.92 C431.51,86.69 433.56,87.46 434.08,88.23 C434.59,89.00 434.33,90.26 433.46,90.54 C432.59,90.82 430.18,90.67 428.85,89.92 C427.51,89.18 426.59,86.56 425.46,86.08 C424.33,85.59 422.69,84.59 422.08,87.00 C421.46,89.41 421.92,95.85 421.77,100.54 C421.62,105.23 422.08,112.72 421.15,115.15 C420.23,117.59 416.95,117.59 416.23,115.15 C415.51,112.72 416.64,105.49 416.85,100.54 C417.05,95.59 417.87,88.38 417.46,85.46 C417.05,82.54 414.95,84.33 414.38,83.00 C413.82,81.67 413.74,79.67 414.08,77.46 C414.41,75.26 415.74,72.33 416.38,69.77 C417.03,67.21 417.28,64.13 417.92,62.08 C418.56,60.03 419.46,58.74 420.23,57.46 C421.00,56.18 421.90,56.18 422.54,54.38 C423.18,52.59 423.31,48.79 424.08,46.69 C424.85,44.59 426.13,41.77 427.15,41.77 Z" fill="#f2e21c" stroke="#f2e21c" stroke-width="0.92" stroke-linejoin="round" stroke-linecap="round"/>
<path d="M427.15,41.77 C428.18,41.77 429.46,44.85 430.23,46.69 C431.00,48.54 431.64,51.05 431.77,52.85 C431.90,54.64 430.87,55.92 431.00,57.46 C431.13,59.00 432.36,60.03 432.54,62.08 C432.72,64.13 432.03,67.21 432.08,69.77 C432.13,72.33 433.13,75.41 432.85,77.46 C432.56,79.51 431.31,81.05 430.38,82.08 C429.46,83.10 427.31,82.97 427.31,83.62 C427.31,84.26 429.26,85.15 430.38,85.92 C431.51,86.69 433.56,87.46 434.08,88.23 C434.59,89.00 434.33,90.26 433.46,90.54 C432.59,90.82 430.18,90.67 428.85,89.92 C427.51,89.18 426.59,86.56 425.46,86.08 C424.33,85.59 422.69,84.59 422.08,87.00 C421.46,89.41 421.92,95.85 421.77,100.54 C421.62,105.23 422.08,112.72 421.15,115.15 C420.23,117.59 416.95,117.59 416.23,115.15 C415.51,112.72 416.64,105.49 416.85,100.54 C417.05,95.59 417.87,88.38 417.46,85.46 C417.05,82.54 414.95,84.33 414.38,83.00 C413.82,81.67 413.74,79.67 414.08,77.46 C414.41,75.26 415.74,72.33 416.38,69.77 C417.03,67.21 417.28,64.13 417.92,62.08 C418.56,60.03 419.46,58.74 420.23,57.46 C421.00,56.18 421.90,56.18 422.54,54.38 C423.18,52.59 423.31,48.79 424.08,46.69 C424.85,44.59 426.13,41.77 427.15,41.77 Z" fill="#d00a1e" stroke="#d00a1e" stroke-width="0.38" stroke-linejoin="round" stroke-linecap="round"/>
<path d="M451.00,40.85 C452.28,40.72 453.95,44.18 454.85,45.92 C455.74,47.67 455.49,50.03 456.38,51.31 C457.28,52.59 458.95,53.46 460.23,53.62 C461.51,53.77 463.23,52.10 464.08,52.23 C464.92,52.36 465.54,53.51 465.31,54.38 C465.08,55.26 463.79,56.54 462.69,57.46 C461.59,58.38 459.41,57.87 458.69,59.92 C457.97,61.97 458.33,66.85 458.38,69.77 C458.44,72.69 459.08,75.31 459.00,77.46 C458.92,79.62 457.46,81.62 457.92,82.69 C458.38,83.77 460.46,83.92 461.77,83.92 C463.08,83.92 465.23,82.49 465.77,82.69 C466.31,82.90 466.15,84.33 465.00,85.15 C463.85,85.97 460.51,87.46 458.85,87.62 C457.18,87.77 456.15,85.92 455.00,86.08 C453.85,86.23 452.82,86.13 451.92,88.54 C451.03,90.95 450.38,96.10 449.62,100.54 C448.85,104.97 448.51,112.72 447.31,115.15 C446.10,117.59 442.69,117.59 442.38,115.15 C442.08,112.72 444.59,105.23 445.46,100.54 C446.33,95.85 448.23,89.00 447.62,87.00 C447.00,85.00 443.51,87.92 441.77,88.54 C440.03,89.15 438.26,90.62 437.15,90.69 C436.05,90.77 435.03,89.79 435.15,89.00 C435.28,88.21 436.82,86.82 437.92,85.92 C439.03,85.03 441.51,84.26 441.77,83.62 C442.03,82.97 440.10,83.36 439.46,82.08 C438.82,80.79 437.67,78.74 437.92,75.92 C438.18,73.10 440.23,67.97 441.00,65.15 C441.77,62.33 442.03,60.79 442.54,59.00 C443.05,57.21 443.31,56.44 444.08,54.38 C444.85,52.33 446.00,48.95 447.15,46.69 C448.31,44.44 449.72,40.97 451.00,40.85 Z" fill="#48c6ea" stroke="#48c6ea" stroke-width="1.54" stroke-linejoin="round" stroke-linecap="round"/>
<path d="M451.00,40.85 C452.28,40.72 453.95,44.18 454.85,45.92 C455.74,47.67 455.49,50.03 456.38,51.31 C457.28,52.59 458.95,53.46 460.23,53.62 C461.51,53.77 463.23,52.10 464.08,52.23 C464.92,52.36 465.54,53.51 465.31,54.38 C465.08,55.26 463.79,56.54 462.69,57.46 C461.59,58.38 459.41,57.87 458.69,59.92 C457.97,61.97 458.33,66.85 458.38,69.77 C458.44,72.69 459.08,75.31 459.00,77.46 C458.92,79.62 457.46,81.62 457.92,82.69 C458.38,83.77 460.46,83.92 461.77,83.92 C463.08,83.92 465.23,82.49 465.77,82.69 C466.31,82.90 466.15,84.33 465.00,85.15 C463.85,85.97 460.51,87.46 458.85,87.62 C457.18,87.77 456.15,85.92 455.00,86.08 C453.85,86.23 452.82,86.13 451.92,88.54 C451.03,90.95 450.38,96.10 449.62,100.54 C448.85,104.97 448.51,112.72 447.31,115.15 C446.10,117.59 442.69,117.59 442.38,115.15 C442.08,112.72 444.59,105.23 445.46,100.54 C446.33,95.85 448.23,89.00 447.62,87.00 C447.00,85.00 443.51,87.92 441.77,88.54 C440.03,89.15 438.26,90.62 437.15,90.69 C436.05,90.77 435.03,89.79 435.15,89.00 C435.28,88.21 436.82,86.82 437.92,85.92 C439.03,85.03 441.51,84.26 441.77,83.62 C442.03,82.97 440.10,83.36 439.46,82.08 C438.82,80.79 437.67,78.74 437.92,75.92 C438.18,73.10 440.23,67.97 441.00,65.15 C441.77,62.33 442.03,60.79 442.54,59.00 C443.05,57.21 443.31,56.44 444.08,54.38 C444.85,52.33 446.00,48.95 447.15,46.69 C448.31,44.44 449.72,40.97 451.00,40.85 Z" fill="#f2e21c" stroke="#f2e21c" stroke-width="0.92" stroke-linejoin="round" stroke-linecap="round"/>
<path d="M451.00,40.85 C452.28,40.72 453.95,44.18 454.85,45.92 C455.74,47.67 455.49,50.03 456.38,51.31 C457.28,52.59 458.95,53.46 460.23,53.62 C461.51,53.77 463.23,52.10 464.08,52.23 C464.92,52.36 465.54,53.51 465.31,54.38 C465.08,55.26 463.79,56.54 462.69,57.46 C461.59,58.38 459.41,57.87 458.69,59.92 C457.97,61.97 458.33,66.85 458.38,69.77 C458.44,72.69 459.08,75.31 459.00,77.46 C458.92,79.62 457.46,81.62 457.92,82.69 C458.38,83.77 460.46,83.92 461.77,83.92 C463.08,83.92 465.23,82.49 465.77,82.69 C466.31,82.90 466.15,84.33 465.00,85.15 C463.85,85.97 460.51,87.46 458.85,87.62 C457.18,87.77 456.15,85.92 455.00,86.08 C453.85,86.23 452.82,86.13 451.92,88.54 C451.03,90.95 450.38,96.10 449.62,100.54 C448.85,104.97 448.51,112.72 447.31,115.15 C446.10,117.59 442.69,117.59 442.38,115.15 C442.08,112.72 444.59,105.23 445.46,100.54 C446.33,95.85 448.23,89.00 447.62,87.00 C447.00,85.00 443.51,87.92 441.77,88.54 C440.03,89.15 438.26,90.62 437.15,90.69 C436.05,90.77 435.03,89.79 435.15,89.00 C435.28,88.21 436.82,86.82 437.92,85.92 C439.03,85.03 441.51,84.26 441.77,83.62 C442.03,82.97 440.10,83.36 439.46,82.08 C438.82,80.79 437.67,78.74 437.92,75.92 C438.18,73.10 440.23,67.97 441.00,65.15 C441.77,62.33 442.03,60.79 442.54,59.00 C443.05,57.21 443.31,56.44 444.08,54.38 C444.85,52.33 446.00,48.95 447.15,46.69 C448.31,44.44 449.72,40.97 451.00,40.85 Z" fill="#d00a1e" stroke="#d00a1e" stroke-width="0.38" stroke-linejoin="round" stroke-linecap="round"/>
<path d="M472.54,41.77 C473.56,42.03 475.49,44.59 476.38,46.69 C477.28,48.79 477.41,51.82 477.92,54.38 C478.44,56.95 479.13,58.23 479.46,62.08 C479.79,65.92 480.15,74.03 479.92,77.46 C479.69,80.90 478.26,81.41 478.08,82.69 C477.90,83.97 479.13,84.46 478.85,85.15 C478.56,85.85 477.33,86.79 476.38,86.85 C475.44,86.90 473.79,83.18 473.15,85.46 C472.51,87.74 472.69,95.59 472.54,100.54 C472.38,105.49 473.03,112.72 472.23,115.15 C471.44,117.59 468.38,117.59 467.77,115.15 C467.15,112.72 468.33,105.49 468.54,100.54 C468.74,95.59 469.74,88.49 469.00,85.46 C468.26,82.44 465.03,83.72 464.08,82.38 C463.13,81.05 463.18,80.08 463.31,77.46 C463.44,74.85 464.21,70.03 464.85,66.69 C465.49,63.36 466.51,60.03 467.15,57.46 C467.79,54.90 468.18,53.36 468.69,51.31 C469.21,49.26 469.59,46.74 470.23,45.15 C470.87,43.56 471.51,41.51 472.54,41.77 Z" fill="#48c6ea" stroke="#48c6ea" stroke-width="1.54" stroke-linejoin="round" stroke-linecap="round"/>
<path d="M472.54,41.77 C473.56,42.03 475.49,44.59 476.38,46.69 C477.28,48.79 477.41,51.82 477.92,54.38 C478.44,56.95 479.13,58.23 479.46,62.08 C479.79,65.92 480.15,74.03 479.92,77.46 C479.69,80.90 478.26,81.41 478.08,82.69 C477.90,83.97 479.13,84.46 478.85,85.15 C478.56,85.85 477.33,86.79 476.38,86.85 C475.44,86.90 473.79,83.18 473.15,85.46 C472.51,87.74 472.69,95.59 472.54,100.54 C472.38,105.49 473.03,112.72 472.23,115.15 C471.44,117.59 468.38,117.59 467.77,115.15 C467.15,112.72 468.33,105.49 468.54,100.54 C468.74,95.59 469.74,88.49 469.00,85.46 C468.26,82.44 465.03,83.72 464.08,82.38 C463.13,81.05 463.18,80.08 463.31,77.46 C463.44,74.85 464.21,70.03 464.85,66.69 C465.49,63.36 466.51,60.03 467.15,57.46 C467.79,54.90 468.18,53.36 468.69,51.31 C469.21,49.26 469.59,46.74 470.23,45.15 C470.87,43.56 471.51,41.51 472.54,41.77 Z" fill="#f2e21c" stroke="#f2e21c" stroke-width="0.92" stroke-linejoin="round" stroke-linecap="round"/>
<path d="M472.54,41.77 C473.56,42.03 475.49,44.59 476.38,46.69 C477.28,48.79 477.41,51.82 477.92,54.38 C478.44,56.95 479.13,58.23 479.46,62.08 C479.79,65.92 480.15,74.03 479.92,77.46 C479.69,80.90 478.26,81.41 478.08,82.69 C477.90,83.97 479.13,84.46 478.85,85.15 C478.56,85.85 477.33,86.79 476.38,86.85 C475.44,86.90 473.79,83.18 473.15,85.46 C472.51,87.74 472.69,95.59 472.54,100.54 C472.38,105.49 473.03,112.72 472.23,115.15 C471.44,117.59 468.38,117.59 467.77,115.15 C467.15,112.72 468.33,105.49 468.54,100.54 C468.74,95.59 469.74,88.49 469.00,85.46 C468.26,82.44 465.03,83.72 464.08,82.38 C463.13,81.05 463.18,80.08 463.31,77.46 C463.44,74.85 464.21,70.03 464.85,66.69 C465.49,63.36 466.51,60.03 467.15,57.46 C467.79,54.90 468.18,53.36 468.69,51.31 C469.21,49.26 469.59,46.74 470.23,45.15 C470.87,43.56 471.51,41.51 472.54,41.77 Z" fill="#d00a1e" stroke="#d00a1e" stroke-width="0.38" stroke-linejoin="round" stroke-linecap="round"/>
<path d="M414.69,50.08 C415.26,50.08 416.69,51.72 417.15,52.54 C417.62,53.36 417.72,54.59 417.46,55.00 C417.21,55.41 416.23,55.41 415.62,55.00 C415.00,54.59 413.92,53.36 413.77,52.54 C413.62,51.72 414.13,50.08 414.69,50.08 Z" fill="#48c6ea" stroke="#48c6ea" stroke-width="1.54" stroke-linejoin="round" stroke-linecap="round"/>
<path d="M414.69,50.08 C415.26,50.08 416.69,51.72 417.15,52.54 C417.62,53.36 417.72,54.59 417.46,55.00 C417.21,55.41 416.23,55.41 415.62,55.00 C415.00,54.59 413.92,53.36 413.77,52.54 C413.62,51.72 414.13,50.08 414.69,50.08 Z" fill="#f2e21c" stroke="#f2e21c" stroke-width="0.92" stroke-linejoin="round" stroke-linecap="round"/>
<path d="M414.69,50.08 C415.26,50.08 416.69,51.72 417.15,52.54 C417.62,53.36 417.72,54.59 417.46,55.00 C417.21,55.41 416.23,55.41 415.62,55.00 C415.00,54.59 413.92,53.36 413.77,52.54 C413.62,51.72 414.13,50.08 414.69,50.08 Z" fill="#d00a1e" stroke="#d00a1e" stroke-width="0.38" stroke-linejoin="round" stroke-linecap="round"/>
<path d="M416.54,100.54 L420.85,100.54 L420.54,114.69 L416.54,114.69 Z" fill="#f2e21c"/>
<ellipse cx="418.69" cy="102.85" rx="1.08" ry="0.46" fill="#d83a18"/>
<ellipse cx="418.69" cy="106.69" rx="1.08" ry="0.46" fill="#d83a18"/>
<ellipse cx="418.69" cy="110.08" rx="1.08" ry="0.46" fill="#d83a18"/>
<ellipse cx="418.69" cy="112.85" rx="1.08" ry="0.46" fill="#d83a18"/>
<ellipse cx="435.62" cy="54.38" rx="0.77" ry="0.92" fill="#48c6ea"/>
<ellipse cx="435.62" cy="54.38" rx="0.58" ry="0.69" fill="#74da4c"/>
<ellipse cx="435.62" cy="54.38" rx="0.38" ry="0.46" fill="#f2e21c"/>
<ellipse cx="429.77" cy="58.69" rx="0.77" ry="0.92" fill="#48c6ea"/>
<ellipse cx="429.77" cy="58.69" rx="0.58" ry="0.69" fill="#74da4c"/>
<ellipse cx="429.77" cy="58.69" rx="0.38" ry="0.46" fill="#f2e21c"/>
</g>
</g>
<rect x="412.2" y="40.5" width="76.30" height="75.40" fill="none" stroke="#222" stroke-width="0.9"/>
<g clip-path="url(#cb5)">
<rect x="333.5" y="120.2" width="76.20" height="76.10" fill="url(#gC)"/>
<g filter="url(#b1)">
<ellipse cx="365.54" cy="149.77" rx="3.69" ry="13.08" fill="#666666" opacity="0.95"/>
<ellipse cx="372.31" cy="146.69" rx="2.15" ry="8.92" fill="#7a7a7a" opacity="0.85"/>
<ellipse cx="393.23" cy="148.23" rx="2.15" ry="9.54" fill="#848484" opacity="0.85"/>
<ellipse cx="345.54" cy="146.69" rx="2.46" ry="8.92" fill="#b0b0b0" opacity="0.7"/>
<ellipse cx="358.92" cy="124.38" rx="0.92" ry="6.15" fill="#e8e8e8" opacity="0.8"/>
<ellipse cx="362.77" cy="124.38" rx="0.92" ry="6.15" fill="#e8e8e8" opacity="0.8"/>
<ellipse cx="396.62" cy="124.38" rx="0.92" ry="6.15" fill="#e8e8e8" opacity="0.8"/>
</g>
<rect x="333.5" y="120.2" width="76.20" height="76.10" filter="url(#noise)" opacity="0.3"/>
<defs>
<clipPath id="c5_0"><path d="M355.08,124.38 C356.18,124.51 358.41,126.82 359.38,128.23 C360.36,129.64 359.97,131.95 360.92,132.85 C361.87,133.74 364.10,133.23 365.08,133.62 C366.05,134.00 367.10,134.51 366.77,135.15 C366.44,135.79 363.92,135.79 363.08,137.46 C362.23,139.13 361.79,142.33 361.69,145.15 C361.59,147.97 362.69,151.56 362.46,154.38 C362.23,157.21 361.13,160.38 360.31,162.08 C359.49,163.77 358.13,161.97 357.54,164.54 C356.95,167.10 357.64,172.36 356.77,177.46 C355.90,182.56 353.87,192.21 352.31,195.15 C350.74,198.10 347.38,197.59 347.38,195.15 C347.38,192.72 351.23,185.23 352.31,180.54 C353.38,175.85 354.67,169.26 353.85,167.00 C353.03,164.74 349.49,166.90 347.38,167.00 C345.28,167.10 342.41,167.90 341.23,167.62 C340.05,167.33 339.79,166.08 340.31,165.31 C340.82,164.54 342.82,163.54 344.31,163.00 C345.79,162.46 348.62,163.26 349.23,162.08 C349.85,160.90 347.87,158.49 348.00,155.92 C348.13,153.36 349.41,149.26 350.00,146.69 C350.59,144.13 351.92,142.18 351.54,140.54 C351.15,138.90 348.49,137.85 347.69,136.85 C346.90,135.85 346.18,135.08 346.77,134.54 C347.36,134.00 350.23,134.79 351.23,133.62 C352.23,132.44 352.13,129.00 352.77,127.46 C353.41,125.92 353.97,124.26 355.08,124.38 Z"/></clipPath>
<clipPath id="c5_1"><path d="M380.92,121.77 C381.97,121.77 383.23,124.85 384.00,126.69 C384.77,128.54 384.33,131.69 385.54,132.85 C386.74,134.00 390.00,133.10 391.23,133.62 C392.46,134.13 393.41,135.15 392.92,135.92 C392.44,136.69 389.33,136.44 388.31,138.23 C387.28,140.03 386.21,143.87 386.77,146.69 C387.33,149.51 390.97,152.97 391.69,155.15 C392.41,157.33 392.00,158.49 391.08,159.77 C390.15,161.05 387.05,161.95 386.15,162.85 C385.26,163.74 384.67,159.77 385.69,165.15 C386.72,170.54 391.72,190.15 392.31,195.15 C392.90,200.15 390.59,197.59 389.23,195.15 C387.87,192.72 385.26,185.49 384.15,180.54 C383.05,175.59 383.56,167.72 382.62,165.46 C381.67,163.21 379.41,166.13 378.46,167.00 C377.51,167.87 377.74,170.21 376.92,170.69 C376.10,171.18 374.00,170.69 373.54,169.92 C373.08,169.15 373.64,167.23 374.15,166.08 C374.67,164.92 376.79,164.03 376.62,163.00 C376.44,161.97 373.74,161.10 373.08,159.92 C372.41,158.74 372.15,157.87 372.62,155.92 C373.08,153.97 375.38,151.05 375.85,148.23 C376.31,145.41 375.97,141.03 375.38,139.00 C374.79,136.97 372.77,136.95 372.31,136.08 C371.85,135.21 372.03,134.31 372.62,133.77 C373.21,133.23 375.00,134.03 375.85,132.85 C376.69,131.67 376.85,128.54 377.69,126.69 C378.54,124.85 379.87,121.77 380.92,121.77 Z"/></clipPath>
<clipPath id="c5_2"><path d="M402.00,123.62 C403.18,123.03 404.64,125.92 405.54,127.46 C406.44,129.00 406.56,131.69 407.38,132.85 C408.21,134.00 409.95,129.26 410.46,134.38 C410.97,139.51 411.49,158.49 410.46,163.62 C409.44,168.74 405.54,162.33 404.31,165.15 C403.08,167.97 403.54,175.54 403.08,180.54 C402.62,185.54 402.36,192.72 401.54,195.15 C400.72,197.59 398.51,197.59 398.15,195.15 C397.79,192.72 399.08,185.44 399.38,180.54 C399.69,175.64 400.46,168.18 400.00,165.77 C399.54,163.36 398.67,165.97 396.62,166.08 C394.56,166.18 389.28,166.64 387.69,166.38 C386.10,166.13 385.85,165.05 387.08,164.54 C388.31,164.03 393.82,164.74 395.08,163.31 C396.33,161.87 394.36,158.69 394.62,155.92 C394.87,153.15 396.10,149.46 396.62,146.69 C397.13,143.92 398.56,140.95 397.69,139.31 C396.82,137.67 392.90,137.64 391.38,136.85 C389.87,136.05 388.64,135.13 388.62,134.54 C388.59,133.95 389.85,133.33 391.23,133.31 C392.62,133.28 395.72,134.77 396.92,134.38 C398.13,134.00 397.62,132.79 398.46,131.00 C399.31,129.21 400.82,124.21 402.00,123.62 Z"/></clipPath>
</defs>
<g filter="url(#b03)">
<path d="M355.08,124.38 C356.18,124.51 358.41,126.82 359.38,128.23 C360.36,129.64 359.97,131.95 360.92,132.85 C361.87,133.74 364.10,133.23 365.08,133.62 C366.05,134.00 367.10,134.51 366.77,135.15 C366.44,135.79 363.92,135.79 363.08,137.46 C362.23,139.13 361.79,142.33 361.69,145.15 C361.59,147.97 362.69,151.56 362.46,154.38 C362.23,157.21 361.13,160.38 360.31,162.08 C359.49,163.77 358.13,161.97 357.54,164.54 C356.95,167.10 357.64,172.36 356.77,177.46 C355.90,182.56 353.87,192.21 352.31,195.15 C350.74,198.10 347.38,197.59 347.38,195.15 C347.38,192.72 351.23,185.23 352.31,180.54 C353.38,175.85 354.67,169.26 353.85,167.00 C353.03,164.74 349.49,166.90 347.38,167.00 C345.28,167.10 342.41,167.90 341.23,167.62 C340.05,167.33 339.79,166.08 340.31,165.31 C340.82,164.54 342.82,163.54 344.31,163.00 C345.79,162.46 348.62,163.26 349.23,162.08 C349.85,160.90 347.87,158.49 348.00,155.92 C348.13,153.36 349.41,149.26 350.00,146.69 C350.59,144.13 351.92,142.18 351.54,140.54 C351.15,138.90 348.49,137.85 347.69,136.85 C346.90,135.85 346.18,135.08 346.77,134.54 C347.36,134.00 350.23,134.79 351.23,133.62 C352.23,132.44 352.13,129.00 352.77,127.46 C353.41,125.92 353.97,124.26 355.08,124.38 Z" fill="#3b3fba" stroke="#3b3fba" stroke-width="0.46" stroke-linejoin="round" stroke-linecap="round"/>
<path d="M380.92,121.77 C381.97,121.77 383.23,124.85 384.00,126.69 C384.77,128.54 384.33,131.69 385.54,132.85 C386.74,134.00 390.00,133.10 391.23,133.62 C392.46,134.13 393.41,135.15 392.92,135.92 C392.44,136.69 389.33,136.44 388.31,138.23 C387.28,140.03 386.21,143.87 386.77,146.69 C387.33,149.51 390.97,152.97 391.69,155.15 C392.41,157.33 392.00,158.49 391.08,159.77 C390.15,161.05 387.05,161.95 386.15,162.85 C385.26,163.74 384.67,159.77 385.69,165.15 C386.72,170.54 391.72,190.15 392.31,195.15 C392.90,200.15 390.59,197.59 389.23,195.15 C387.87,192.72 385.26,185.49 384.15,180.54 C383.05,175.59 383.56,167.72 382.62,165.46 C381.67,163.21 379.41,166.13 378.46,167.00 C377.51,167.87 377.74,170.21 376.92,170.69 C376.10,171.18 374.00,170.69 373.54,169.92 C373.08,169.15 373.64,167.23 374.15,166.08 C374.67,164.92 376.79,164.03 376.62,163.00 C376.44,161.97 373.74,161.10 373.08,159.92 C372.41,158.74 372.15,157.87 372.62,155.92 C373.08,153.97 375.38,151.05 375.85,148.23 C376.31,145.41 375.97,141.03 375.38,139.00 C374.79,136.97 372.77,136.95 372.31,136.08 C371.85,135.21 372.03,134.31 372.62,133.77 C373.21,133.23 375.00,134.03 375.85,132.85 C376.69,131.67 376.85,128.54 377.69,126.69 C378.54,124.85 379.87,121.77 380.92,121.77 Z" fill="#3b3fba" stroke="#3b3fba" stroke-width="0.46" stroke-linejoin="round" stroke-linecap="round"/>
<path d="M402.00,123.62 C403.18,123.03 404.64,125.92 405.54,127.46 C406.44,129.00 406.56,131.69 407.38,132.85 C408.21,134.00 409.95,129.26 410.46,134.38 C410.97,139.51 411.49,158.49 410.46,163.62 C409.44,168.74 405.54,162.33 404.31,165.15 C403.08,167.97 403.54,175.54 403.08,180.54 C402.62,185.54 402.36,192.72 401.54,195.15 C400.72,197.59 398.51,197.59 398.15,195.15 C397.79,192.72 399.08,185.44 399.38,180.54 C399.69,175.64 400.46,168.18 400.00,165.77 C399.54,163.36 398.67,165.97 396.62,166.08 C394.56,166.18 389.28,166.64 387.69,166.38 C386.10,166.13 385.85,165.05 387.08,164.54 C388.31,164.03 393.82,164.74 395.08,163.31 C396.33,161.87 394.36,158.69 394.62,155.92 C394.87,153.15 396.10,149.46 396.62,146.69 C397.13,143.92 398.56,140.95 397.69,139.31 C396.82,137.67 392.90,137.64 391.38,136.85 C389.87,136.05 388.64,135.13 388.62,134.54 C388.59,133.95 389.85,133.33 391.23,133.31 C392.62,133.28 395.72,134.77 396.92,134.38 C398.13,134.00 397.62,132.79 398.46,131.00 C399.31,129.21 400.82,124.21 402.00,123.62 Z" fill="#3b3fba" stroke="#3b3fba" stroke-width="0.46" stroke-linejoin="round" stroke-linecap="round"/>
<g clip-path="url(#c5_0)">
<path d="M355.08,124.38 C356.18,124.51 358.41,126.82 359.38,128.23 C360.36,129.64 359.97,131.95 360.92,132.85 C361.87,133.74 364.10,133.23 365.08,133.62 C366.05,134.00 367.10,134.51 366.77,135.15 C366.44,135.79 363.92,135.79 363.08,137.46 C362.23,139.13 361.79,142.33 361.69,145.15 C361.59,147.97 362.69,151.56 362.46,154.38 C362.23,157.21 361.13,160.38 360.31,162.08 C359.49,163.77 358.13,161.97 357.54,164.54 C356.95,167.10 357.64,172.36 356.77,177.46 C355.90,182.56 353.87,192.21 352.31,195.15 C350.74,198.10 347.38,197.59 347.38,195.15 C347.38,192.72 351.23,185.23 352.31,180.54 C353.38,175.85 354.67,169.26 353.85,167.00 C353.03,164.74 349.49,166.90 347.38,167.00 C345.28,167.10 342.41,167.90 341.23,167.62 C340.05,167.33 339.79,166.08 340.31,165.31 C340.82,164.54 342.82,163.54 344.31,163.00 C345.79,162.46 348.62,163.26 349.23,162.08 C349.85,160.90 347.87,158.49 348.00,155.92 C348.13,153.36 349.41,149.26 350.00,146.69 C350.59,144.13 351.92,142.18 351.54,140.54 C351.15,138.90 348.49,137.85 347.69,136.85 C346.90,135.85 346.18,135.08 346.77,134.54 C347.36,134.00 350.23,134.79 351.23,133.62 C352.23,132.44 352.13,129.00 352.77,127.46 C353.41,125.92 353.97,124.26 355.08,124.38 Z" fill="#48c6ea" stroke="#3b3fba" stroke-width="1.23" stroke-linejoin="round" stroke-linecap="round"/>
<path d="M355.38,128.23 C355.59,129.77 356.62,133.87 356.62,137.46 C356.62,141.05 355.90,145.92 355.38,149.77 C354.87,153.62 353.85,158.74 353.54,160.54 " fill="none" stroke="#74da4c" stroke-width="5.85" stroke-linejoin="round" stroke-linecap="round"/>
<path d="M355.38,128.23 C355.59,129.77 356.62,133.87 356.62,137.46 C356.62,141.05 355.95,145.97 355.38,149.77 C354.82,153.56 353.59,158.49 353.23,160.23 " fill="none" stroke="#f2e21c" stroke-width="4.00" stroke-linejoin="round" stroke-linecap="round"/>
<ellipse cx="350.60" cy="130.76" rx="0.86" ry="0.68" fill="#74da4c"/>
<ellipse cx="351.76" cy="135.07" rx="1.08" ry="1.50" fill="#48c6ea"/>
<ellipse cx="350.84" cy="128.88" rx="0.76" ry="0.81" fill="#f2e21c"/>
<ellipse cx="352.83" cy="148.13" rx="0.69" ry="0.65" fill="#f2e21c"/>
<ellipse cx="352.84" cy="140.86" rx="0.98" ry="0.83" fill="#48c6ea"/>
<ellipse cx="352.96" cy="147.84" rx="0.95" ry="1.23" fill="#74da4c"/>
<ellipse cx="354.56" cy="134.06" rx="1.13" ry="0.82" fill="#f2e21c"/>
<ellipse cx="358.94" cy="158.09" rx="1.02" ry="0.86" fill="#48c6ea"/>
<ellipse cx="355.45" cy="139.98" rx="0.82" ry="0.85" fill="#48c6ea"/>
<ellipse cx="353.50" cy="137.30" rx="0.97" ry="1.12" fill="#f2e21c"/>
<ellipse cx="360.11" cy="161.45" rx="1.22" ry="1.52" fill="#74da4c"/>
<ellipse cx="354.00" cy="133.07" rx="1.00" ry="0.76" fill="#f08020"/>
<ellipse cx="352.69" cy="159.99" rx="0.99" ry="1.15" fill="#74da4c"/>
<ellipse cx="353.75" cy="137.74" rx="1.13" ry="0.88" fill="#48c6ea"/>
<ellipse cx="355.85" cy="130.69" rx="2.15" ry="5.85" fill="#d00a1e" transform="rotate(8 355.85 130.69)"/>
<ellipse cx="357.54" cy="137.46" rx="2.31" ry="3.38" fill="#d00a1e"/>
<ellipse cx="355.08" cy="149.15" rx="4.31" ry="3.85" fill="#d00a1e"/>
<ellipse cx="350.92" cy="159.62" rx="2.31" ry="3.23" fill="#d00a1e" transform="rotate(30 350.92 159.62)"/>
<ellipse cx="353.23" cy="137.46" rx="1.23" ry="1.85" fill="#d00a1e"/>
<ellipse cx="358.46" cy="156.69" rx="1.38" ry="1.85" fill="#f08020"/>
<ellipse cx="360.62" cy="152.23" rx="1.23" ry="2.00" fill="#f2e21c"/>
<ellipse cx="358.46" cy="143.62" rx="1.38" ry="1.54" fill="#48c6ea"/>
<ellipse cx="351.69" cy="155.62" rx="1.69" ry="1.85" fill="#4a44b8"/>
<ellipse cx="353.23" cy="143.62" rx="1.54" ry="1.54" fill="#48c6ea"/>
<ellipse cx="348.92" cy="135.62" rx="1.54" ry="1.08" fill="#48c6ea"/>
<ellipse cx="364.00" cy="134.38" rx="1.54" ry="1.08" fill="#3b3fba"/>
<path d="M341.54,165.77 C342.51,165.67 345.33,165.41 347.38,165.15 C349.44,164.90 352.77,164.38 353.85,164.23 " fill="none" stroke="#d00a1e" stroke-width="1.69" stroke-linejoin="round" stroke-linecap="round"/>
<path d="M355.08,168.23 C354.87,170.28 354.72,176.13 353.85,180.54 C352.97,184.95 350.51,192.33 349.85,194.69 " fill="none" stroke="#d00a1e" stroke-width="2.31" stroke-linejoin="round" stroke-linecap="round"/>
</g>
<g clip-path="url(#c5_1)">
<path d="M380.92,121.77 C381.97,121.77 383.23,124.85 384.00,126.69 C384.77,128.54 384.33,131.69 385.54,132.85 C386.74,134.00 390.00,133.10 391.23,133.62 C392.46,134.13 393.41,135.15 392.92,135.92 C392.44,136.69 389.33,136.44 388.31,138.23 C387.28,140.03 386.21,143.87 386.77,146.69 C387.33,149.51 390.97,152.97 391.69,155.15 C392.41,157.33 392.00,158.49 391.08,159.77 C390.15,161.05 387.05,161.95 386.15,162.85 C385.26,163.74 384.67,159.77 385.69,165.15 C386.72,170.54 391.72,190.15 392.31,195.15 C392.90,200.15 390.59,197.59 389.23,195.15 C387.87,192.72 385.26,185.49 384.15,180.54 C383.05,175.59 383.56,167.72 382.62,165.46 C381.67,163.21 379.41,166.13 378.46,167.00 C377.51,167.87 377.74,170.21 376.92,170.69 C376.10,171.18 374.00,170.69 373.54,169.92 C373.08,169.15 373.64,167.23 374.15,166.08 C374.67,164.92 376.79,164.03 376.62,163.00 C376.44,161.97 373.74,161.10 373.08,159.92 C372.41,158.74 372.15,157.87 372.62,155.92 C373.08,153.97 375.38,151.05 375.85,148.23 C376.31,145.41 375.97,141.03 375.38,139.00 C374.79,136.97 372.77,136.95 372.31,136.08 C371.85,135.21 372.03,134.31 372.62,133.77 C373.21,133.23 375.00,134.03 375.85,132.85 C376.69,131.67 376.85,128.54 377.69,126.69 C378.54,124.85 379.87,121.77 380.92,121.77 Z" fill="#4668d8" stroke="#3b3fba" stroke-width="1.38" stroke-linejoin="round" stroke-linecap="round"/>
<path d="M380.92,124.38 C380.97,126.56 381.23,133.23 381.23,137.46 C381.23,141.69 380.87,146.13 380.92,149.77 C380.97,153.41 381.44,157.72 381.54,159.31 " fill="none" stroke="#48c6ea" stroke-width="3.69" stroke-linejoin="round" stroke-linecap="round"/>
<path d="M375.85,156.69 C378.03,156.69 386.74,156.69 388.92,156.69 " fill="none" stroke="#48c6ea" stroke-width="2.46" stroke-linejoin="round" stroke-linecap="round"/>
<ellipse cx="376.80" cy="132.88" rx="0.80" ry="0.84" fill="#48c6ea"/>
<ellipse cx="384.71" cy="128.78" rx="0.93" ry="0.99" fill="#74da4c"/>
<ellipse cx="387.47" cy="157.03" rx="0.84" ry="0.91" fill="#74da4c"/>
<ellipse cx="385.47" cy="144.12" rx="0.91" ry="1.18" fill="#48c6ea"/>
<ellipse cx="387.58" cy="132.45" rx="0.67" ry="0.48" fill="#74da4c"/>
<ellipse cx="382.31" cy="151.46" rx="0.89" ry="0.65" fill="#f2e21c"/>
<ellipse cx="376.32" cy="137.92" rx="0.72" ry="0.87" fill="#4a7ae0"/>
<ellipse cx="381.91" cy="144.48" rx="1.12" ry="1.22" fill="#4a7ae0"/>
<ellipse cx="382.93" cy="153.00" rx="0.98" ry="0.88" fill="#48c6ea"/>
<ellipse cx="376.81" cy="149.12" rx="1.13" ry="1.13" fill="#4a7ae0"/>
<ellipse cx="376.70" cy="142.39" rx="1.12" ry="0.91" fill="#f2e21c"/>
<ellipse cx="388.05" cy="156.37" rx="0.70" ry="0.51" fill="#4a7ae0"/>
<ellipse cx="379.56" cy="139.06" rx="0.73" ry="0.77" fill="#74da4c"/>
<ellipse cx="382.05" cy="144.12" rx="0.82" ry="0.85" fill="#4a7ae0"/>
<ellipse cx="387.59" cy="156.34" rx="1.00" ry="1.10" fill="#74da4c"/>
<ellipse cx="378.72" cy="139.02" rx="0.97" ry="0.81" fill="#4a7ae0"/>
<ellipse cx="380.92" cy="125.46" rx="1.38" ry="2.31" fill="#f2e21c"/>
<ellipse cx="380.92" cy="123.31" rx="1.08" ry="1.23" fill="#74da4c"/>
<ellipse cx="381.38" cy="138.69" rx="1.85" ry="4.00" fill="#d00a1e" transform="rotate(10 381.38 138.69)"/>
<ellipse cx="378.15" cy="133.62" rx="1.23" ry="1.54" fill="#74da4c"/>
<ellipse cx="383.69" cy="145.15" rx="1.54" ry="2.15" fill="#74da4c"/>
<ellipse cx="376.62" cy="156.85" rx="2.77" ry="1.69" fill="#d00a1e"/>
<ellipse cx="388.31" cy="155.92" rx="1.38" ry="1.54" fill="#d00a1e"/>
<ellipse cx="382.77" cy="155.15" rx="1.38" ry="1.08" fill="#f2e21c"/>
<ellipse cx="380.92" cy="149.77" rx="1.85" ry="2.15" fill="#48c6ea"/>
<ellipse cx="385.08" cy="134.38" rx="1.08" ry="1.38" fill="#f2e21c"/>
<ellipse cx="381.23" cy="129.77" rx="1.38" ry="2.15" fill="#f08020"/>
<path d="M384.15,165.15 C384.54,167.72 385.36,175.62 386.46,180.54 C387.56,185.46 390.05,192.33 390.77,194.69 " fill="none" stroke="#48c6ea" stroke-width="0.92" stroke-linejoin="round" stroke-linecap="round"/>
<ellipse cx="375.54" cy="167.92" rx="1.08" ry="1.38" fill="#48c6ea"/>
</g>
<g clip-path="url(#c5_2)">
<path d="M402.00,123.62 C403.18,123.03 404.64,125.92 405.54,127.46 C406.44,129.00 406.56,131.69 407.38,132.85 C408.21,134.00 409.95,129.26 410.46,134.38 C410.97,139.51 411.49,158.49 410.46,163.62 C409.44,168.74 405.54,162.33 404.31,165.15 C403.08,167.97 403.54,175.54 403.08,180.54 C402.62,185.54 402.36,192.72 401.54,195.15 C400.72,197.59 398.51,197.59 398.15,195.15 C397.79,192.72 399.08,185.44 399.38,180.54 C399.69,175.64 400.46,168.18 400.00,165.77 C399.54,163.36 398.67,165.97 396.62,166.08 C394.56,166.18 389.28,166.64 387.69,166.38 C386.10,166.13 385.85,165.05 387.08,164.54 C388.31,164.03 393.82,164.74 395.08,163.31 C396.33,161.87 394.36,158.69 394.62,155.92 C394.87,153.15 396.10,149.46 396.62,146.69 C397.13,143.92 398.56,140.95 397.69,139.31 C396.82,137.67 392.90,137.64 391.38,136.85 C389.87,136.05 388.64,135.13 388.62,134.54 C388.59,133.95 389.85,133.33 391.23,133.31 C392.62,133.28 395.72,134.77 396.92,134.38 C398.13,134.00 397.62,132.79 398.46,131.00 C399.31,129.21 400.82,124.21 402.00,123.62 Z" fill="#48c6ea" stroke="#3b3fba" stroke-width="1.23" stroke-linejoin="round" stroke-linecap="round"/>
<path d="M402.46,127.46 C402.72,129.13 403.74,133.74 404.00,137.46 C404.26,141.18 404.15,145.67 404.00,149.77 C403.85,153.87 403.23,160.03 403.08,162.08 " fill="none" stroke="#74da4c" stroke-width="6.15" stroke-linejoin="round" stroke-linecap="round"/>
<path d="M402.46,127.46 C402.72,129.13 403.69,133.74 404.00,137.46 C404.31,141.18 404.26,147.72 404.31,149.77 " fill="none" stroke="#f2e21c" stroke-width="4.00" stroke-linejoin="round" stroke-linecap="round"/>
<ellipse cx="403.63" cy="150.04" rx="1.12" ry="1.16" fill="#48c6ea"/>
<ellipse cx="407.45" cy="146.36" rx="0.94" ry="1.29" fill="#48c6ea"/>
<ellipse cx="403.12" cy="143.13" rx="1.20" ry="1.09" fill="#74da4c"/>
<ellipse cx="400.42" cy="145.01" rx="0.65" ry="0.82" fill="#f08020"/>
<ellipse cx="400.07" cy="138.49" rx="1.09" ry="0.85" fill="#f2e21c"/>
<ellipse cx="397.30" cy="162.88" rx="0.79" ry="1.10" fill="#f2e21c"/>
<ellipse cx="397.43" cy="140.20" rx="1.02" ry="1.08" fill="#f2e21c"/>
<ellipse cx="400.56" cy="139.76" rx="1.02" ry="0.99" fill="#f08020"/>
<ellipse cx="405.08" cy="159.15" rx="0.84" ry="0.63" fill="#74da4c"/>
<ellipse cx="397.76" cy="156.53" rx="0.62" ry="0.55" fill="#f08020"/>
<ellipse cx="399.11" cy="133.81" rx="1.02" ry="1.14" fill="#f08020"/>
<ellipse cx="406.33" cy="148.46" rx="0.89" ry="0.93" fill="#48c6ea"/>
<ellipse cx="396.73" cy="140.71" rx="1.08" ry="0.84" fill="#48c6ea"/>
<ellipse cx="407.36" cy="127.24" rx="0.95" ry="1.14" fill="#f08020"/>
<ellipse cx="402.15" cy="128.54" rx="2.00" ry="4.31" fill="#d00a1e"/>
<ellipse cx="404.62" cy="137.77" rx="2.46" ry="3.69" fill="#d00a1e"/>
<ellipse cx="406.15" cy="153.15" rx="1.85" ry="4.00" fill="#d00a1e"/>
<ellipse cx="399.69" cy="157.46" rx="2.77" ry="3.85" fill="#4044b8"/>
<ellipse cx="403.08" cy="145.46" rx="1.54" ry="1.85" fill="#74da4c"/>
<ellipse cx="405.08" cy="161.31" rx="1.85" ry="2.15" fill="#d00a1e"/>
<ellipse cx="399.69" cy="142.08" rx="1.23" ry="2.15" fill="#d00a1e"/>
<path d="M388.62,165.46 C389.44,165.36 392.00,165.05 393.54,164.85 C395.08,164.64 397.13,164.33 397.85,164.23 " fill="none" stroke="#d00a1e" stroke-width="1.23" stroke-linejoin="round" stroke-linecap="round"/>
<path d="M401.54,165.92 C401.44,168.36 401.15,175.74 400.92,180.54 C400.69,185.33 400.28,192.33 400.15,194.69 " fill="none" stroke="#f2e21c" stroke-width="1.38" stroke-linejoin="round" stroke-linecap="round"/>
<path d="M401.54,165.92 C401.46,167.85 401.15,175.54 401.08,177.46 " fill="none" stroke="#d00a1e" stroke-width="1.23" stroke-linejoin="round" stroke-linecap="round"/>
<path d="M400.62,186.69 C400.56,188.03 400.36,193.36 400.31,194.69 " fill="none" stroke="#74da4c" stroke-width="0.77" stroke-linejoin="round" stroke-linecap="round"/>
</g>
</g>
</g>
<rect x="333.5" y="120.2" width="76.20" height="76.10" fill="none" stroke="#222" stroke-width="0.9"/>
<g clip-path="url(#cb6)">
<rect x="412.2" y="120.2" width="76.30" height="76.10" fill="url(#gD)"/>
<g filter="url(#b1)">
<ellipse cx="431.00" cy="149.00" rx="9.23" ry="18.77" fill="#5e5e5e"/>
<ellipse cx="431.00" cy="142.08" rx="6.15" ry="9.23" fill="#6a6a6a"/>
<ellipse cx="429.46" cy="152.08" rx="4.62" ry="7.69" fill="#787878" opacity="0.8"/>
<ellipse cx="454.08" cy="147.46" rx="9.23" ry="17.23" fill="#646464"/>
<ellipse cx="478.23" cy="148.23" rx="9.23" ry="18.15" fill="#646464"/>
<ellipse cx="442.54" cy="146.69" rx="1.85" ry="12.31" fill="#9c9c9c" opacity="0.8"/>
<ellipse cx="465.62" cy="146.69" rx="1.85" ry="12.31" fill="#969696" opacity="0.8"/>
<ellipse cx="431.00" cy="123.62" rx="2.15" ry="4.62" fill="#cccccc" opacity="0.7"/>
<ellipse cx="454.08" cy="123.62" rx="2.15" ry="4.62" fill="#cccccc" opacity="0.7"/>
<ellipse cx="477.46" cy="123.62" rx="2.15" ry="4.62" fill="#cccccc" opacity="0.7"/>
</g>
<rect x="412.2" y="120.2" width="76.30" height="76.10" filter="url(#noise)" opacity="0.4"/>
<g filter="url(#b03)">
<path d="M429.46,122.38 L434.08,122.38 L434.85,130.54 L428.69,130.54 Z" fill="#cfcfcf"/>
<ellipse cx="431.77" cy="131.31" rx="3.08" ry="1.23" fill="#b8b8b8"/>
<path d="M427.92,167.00 C428.44,169.26 429.92,176.49 431.00,180.54 C432.08,184.59 433.82,189.51 434.38,191.31 " fill="none" stroke="#e8e8e8" stroke-width="1.08" stroke-linejoin="round" stroke-linecap="round"/>
<path d="M415.62,168.54 C416.38,168.18 418.44,166.95 420.23,166.38 C422.03,165.82 425.36,165.36 426.38,165.15 " fill="none" stroke="#f0f0f0" stroke-width="1.38" stroke-linejoin="round" stroke-linecap="round"/>
<path d="M434.08,168.23 C434.59,168.87 436.64,171.44 437.15,172.08 " fill="none" stroke="#e0e0e0" stroke-width="1.23" stroke-linejoin="round" stroke-linecap="round"/>
<ellipse cx="422.54" cy="136.69" rx="1.08" ry="1.08" fill="#e6e6e6"/>
<ellipse cx="433.31" cy="138.23" rx="1.08" ry="1.08" fill="#e6e6e6"/>
<ellipse cx="436.38" cy="171.31" rx="0.92" ry="0.92" fill="#e6e6e6"/>
<ellipse cx="427.92" cy="163.62" rx="0.92" ry="0.92" fill="#e6e6e6"/>
<ellipse cx="434.08" cy="162.85" rx="0.77" ry="0.77" fill="#e6e6e6"/>
</g>
<g filter="url(#b06)">
<ellipse cx="454.08" cy="125.46" rx="3.08" ry="3.69" fill="#5e48ae" opacity="0.92"/>
<ellipse cx="453.46" cy="135.92" rx="6.46" ry="6.92" fill="#5e48ae" opacity="0.92"/>
<ellipse cx="446.08" cy="133.77" rx="2.77" ry="1.54" fill="#5e48ae" opacity="0.92" transform="rotate(20 446.08 133.77)"/>
<ellipse cx="460.54" cy="134.38" rx="2.15" ry="1.54" fill="#5e48ae" opacity="0.92" transform="rotate(-20 460.54 134.38)"/>
<ellipse cx="449.46" cy="145.15" rx="2.15" ry="3.08" fill="#5e48ae" opacity="0.92"/>
<ellipse cx="457.15" cy="145.15" rx="1.85" ry="3.08" fill="#5e48ae" opacity="0.92"/>
<ellipse cx="452.54" cy="156.69" rx="7.08" ry="5.54" fill="#5e48ae" opacity="0.92"/>
<ellipse cx="457.92" cy="155.15" rx="3.69" ry="3.38" fill="#5e48ae" opacity="0.92"/>
<ellipse cx="477.46" cy="125.92" rx="3.38" ry="4.62" fill="#5e48ae" opacity="0.92"/>
<ellipse cx="477.92" cy="135.62" rx="7.69" ry="6.46" fill="#5e48ae" opacity="0.92"/>
<ellipse cx="469.15" cy="137.46" rx="2.15" ry="1.54" fill="#5e48ae" opacity="0.92"/>
<ellipse cx="478.69" cy="155.15" rx="8.46" ry="10.46" fill="#5e48ae" opacity="0.92"/>
<ellipse cx="478.69" cy="146.69" rx="5.38" ry="3.85" fill="#5e48ae" opacity="0.92"/>
<ellipse cx="454.08" cy="125.46" rx="2.40" ry="2.88" fill="#3b3fba"/>
<ellipse cx="453.46" cy="135.92" rx="5.04" ry="5.40" fill="#3b3fba"/>
<ellipse cx="446.08" cy="133.77" rx="2.16" ry="1.20" fill="#3b3fba" transform="rotate(20 446.08 133.77)"/>
<ellipse cx="452.54" cy="156.69" rx="5.52" ry="4.32" fill="#3b3fba"/>
<ellipse cx="457.92" cy="155.15" rx="2.88" ry="2.64" fill="#3b3fba"/>
<ellipse cx="477.46" cy="125.92" rx="2.64" ry="3.60" fill="#3b3fba"/>
<ellipse cx="477.92" cy="135.62" rx="6.00" ry="5.04" fill="#3b3fba"/>
<ellipse cx="478.69" cy="155.15" rx="6.60" ry="8.16" fill="#3b3fba"/>
<ellipse cx="478.69" cy="146.69" rx="4.20" ry="3.00" fill="#3b3fba"/>
<path d="M441.00,163.92 C441.64,163.77 443.56,163.26 444.85,163.00 C446.13,162.74 448.05,162.49 448.69,162.38 " fill="none" stroke="#3b3fba" stroke-width="1.69" stroke-linejoin="round" stroke-linecap="round"/>
<path d="M459.46,162.85 C459.72,163.23 460.74,164.77 461.00,165.15 " fill="none" stroke="#3b3fba" stroke-width="1.69" stroke-linejoin="round" stroke-linecap="round"/>
<path d="M453.77,162.08 C453.87,165.15 454.21,175.10 454.38,180.54 C454.56,185.97 454.77,192.33 454.85,194.69 " fill="none" stroke="#4a50c0" stroke-width="0.92" stroke-linejoin="round" stroke-linecap="round"/>
<path d="M464.08,167.92 C464.85,167.67 467.28,166.85 468.69,166.38 C470.10,165.92 471.90,165.36 472.54,165.15 " fill="none" stroke="#3b3fba" stroke-width="1.85" stroke-linejoin="round" stroke-linecap="round"/>
<path d="M482.54,165.92 C483.05,166.44 485.10,168.49 485.62,169.00 " fill="none" stroke="#3b3fba" stroke-width="1.85" stroke-linejoin="round" stroke-linecap="round"/>
<path d="M477.15,165.92 C476.85,168.36 476.03,175.74 475.31,180.54 C474.59,185.33 473.26,192.33 472.85,194.69 " fill="none" stroke="#4a50c0" stroke-width="1.23" stroke-linejoin="round" stroke-linecap="round"/>
<ellipse cx="452.03" cy="136.87" rx="0.90" ry="0.99" fill="#7c72c6" opacity="0.8"/>
<ellipse cx="455.36" cy="146.79" rx="1.06" ry="1.31" fill="#7c72c6" opacity="0.8"/>
<ellipse cx="448.02" cy="137.43" rx="1.54" ry="1.55" fill="#4a60d0" opacity="0.8"/>
<ellipse cx="449.59" cy="134.38" rx="1.33" ry="1.17" fill="#4a60d0" opacity="0.8"/>
<ellipse cx="455.37" cy="147.73" rx="0.86" ry="0.62" fill="#7c72c6" opacity="0.8"/>
<ellipse cx="457.26" cy="155.65" rx="0.94" ry="0.89" fill="#7c72c6" opacity="0.8"/>
<ellipse cx="453.04" cy="146.85" rx="0.78" ry="1.05" fill="#4a60d0" opacity="0.8"/>
<ellipse cx="455.34" cy="159.92" rx="0.81" ry="0.70" fill="#7c72c6" opacity="0.8"/>
<ellipse cx="448.20" cy="147.55" rx="1.10" ry="1.01" fill="#4a60d0" opacity="0.8"/>
<ellipse cx="449.49" cy="150.31" rx="1.08" ry="1.26" fill="#7c72c6" opacity="0.8"/>
<ellipse cx="457.18" cy="136.86" rx="0.84" ry="0.85" fill="#4a60d0" opacity="0.8"/>
<ellipse cx="455.77" cy="142.87" rx="1.34" ry="0.97" fill="#7c72c6" opacity="0.8"/>
<ellipse cx="480.13" cy="130.62" rx="0.98" ry="0.78" fill="#4a60d0" opacity="0.8"/>
<ellipse cx="473.11" cy="154.84" rx="1.19" ry="1.18" fill="#7c72c6" opacity="0.8"/>
<ellipse cx="472.16" cy="137.17" rx="1.16" ry="1.27" fill="#4a60d0" opacity="0.8"/>
<ellipse cx="481.13" cy="153.51" rx="1.09" ry="1.21" fill="#7c72c6" opacity="0.8"/>
<ellipse cx="482.35" cy="129.99" rx="1.39" ry="1.38" fill="#7c72c6" opacity="0.8"/>
<ellipse cx="475.40" cy="137.06" rx="1.36" ry="1.04" fill="#4a60d0" opacity="0.8"/>
<ellipse cx="473.03" cy="158.45" rx="1.23" ry="1.49" fill="#4a60d0" opacity="0.8"/>
<ellipse cx="478.78" cy="162.71" rx="1.06" ry="0.96" fill="#7c72c6" opacity="0.8"/>
<ellipse cx="479.99" cy="159.74" rx="1.05" ry="1.25" fill="#4a60d0" opacity="0.8"/>
<ellipse cx="472.37" cy="137.48" rx="0.99" ry="1.29" fill="#4a60d0" opacity="0.8"/>
<ellipse cx="483.10" cy="142.64" rx="1.12" ry="0.91" fill="#7c72c6" opacity="0.8"/>
<ellipse cx="476.42" cy="152.45" rx="1.31" ry="1.51" fill="#7c72c6" opacity="0.8"/>
<ellipse cx="479.73" cy="135.56" rx="1.33" ry="1.36" fill="#4a60d0" opacity="0.8"/>
<ellipse cx="475.30" cy="161.09" rx="1.30" ry="1.53" fill="#4a60d0" opacity="0.8"/>
<ellipse cx="482.79" cy="156.03" rx="0.95" ry="1.19" fill="#4a60d0" opacity="0.8"/>
<ellipse cx="477.02" cy="132.01" rx="1.47" ry="1.93" fill="#7c72c6" opacity="0.8"/>
</g>
<g filter="url(#b03)">
<ellipse cx="454.38" cy="125.46" rx="1.85" ry="2.46" fill="#48c6ea"/>
<ellipse cx="454.38" cy="125.46" rx="1.15" ry="1.54" fill="#74da4c"/>
<ellipse cx="452.54" cy="134.69" rx="2.46" ry="2.46" fill="#48c6ea"/>
<ellipse cx="452.54" cy="134.69" rx="2.00" ry="2.00" fill="#74da4c"/>
<ellipse cx="452.54" cy="134.69" rx="1.54" ry="1.54" fill="#f2e21c"/>
<ellipse cx="452.54" cy="134.69" rx="1.08" ry="1.08" fill="#d00a1e"/>
<ellipse cx="457.15" cy="154.69" rx="1.54" ry="2.15" fill="#48c6ea"/>
<ellipse cx="457.15" cy="154.69" rx="0.96" ry="1.35" fill="#74da4c"/>
<ellipse cx="461.00" cy="154.69" rx="0.77" ry="0.92" fill="#d00a1e"/>
<ellipse cx="447.92" cy="153.62" rx="1.23" ry="1.54" fill="#48c6ea"/>
<ellipse cx="456.38" cy="139.00" rx="1.08" ry="1.85" fill="#48c6ea"/>
<path d="M454.08,165.15 C454.15,167.72 454.41,175.67 454.54,180.54 C454.67,185.41 454.79,192.08 454.85,194.38 " fill="none" stroke="#48c6ea" stroke-width="0.46" stroke-linejoin="round" stroke-linecap="round"/>
<ellipse cx="477.46" cy="125.46" rx="2.15" ry="3.08" fill="#48c6ea"/>
<ellipse cx="477.46" cy="125.46" rx="1.62" ry="2.31" fill="#74da4c"/>
<ellipse cx="477.46" cy="125.46" rx="1.08" ry="1.54" fill="#f2e21c"/>
<ellipse cx="478.08" cy="131.62" rx="1.85" ry="1.85" fill="#48c6ea"/>
<ellipse cx="478.08" cy="131.62" rx="1.50" ry="1.50" fill="#74da4c"/>
<ellipse cx="478.08" cy="131.62" rx="1.15" ry="1.15" fill="#f2e21c"/>
<ellipse cx="478.08" cy="131.62" rx="0.81" ry="0.81" fill="#d00a1e"/>
<ellipse cx="478.69" cy="137.77" rx="3.38" ry="1.54" fill="#48c6ea"/>
<ellipse cx="478.69" cy="137.77" rx="2.54" ry="1.15" fill="#74da4c"/>
<ellipse cx="478.69" cy="137.77" rx="1.69" ry="0.77" fill="#f2e21c"/>
<ellipse cx="476.38" cy="137.46" rx="0.92" ry="0.77" fill="#d00a1e"/>
<ellipse cx="469.15" cy="137.46" rx="1.08" ry="0.77" fill="#f2e21c"/>
<ellipse cx="480.54" cy="151.00" rx="3.38" ry="1.54" fill="#48c6ea" transform="rotate(15 480.54 151.00)"/>
<ellipse cx="480.54" cy="151.00" rx="2.54" ry="1.15" fill="#74da4c" transform="rotate(15 480.54 151.00)"/>
<ellipse cx="480.54" cy="151.00" rx="1.69" ry="0.77" fill="#f2e21c" transform="rotate(15 480.54 151.00)"/>
<ellipse cx="482.08" cy="159.77" rx="2.15" ry="2.77" fill="#48c6ea"/>
<ellipse cx="472.54" cy="159.31" rx="1.54" ry="2.46" fill="#48c6ea"/>
<ellipse cx="476.85" cy="155.15" rx="1.54" ry="1.23" fill="#48c6ea"/>
<ellipse cx="465.77" cy="167.62" rx="1.85" ry="1.23" fill="#48c6ea"/>
<ellipse cx="465.77" cy="167.62" rx="1.50" ry="1.00" fill="#74da4c"/>
<ellipse cx="465.77" cy="167.62" rx="1.15" ry="0.77" fill="#f2e21c"/>
<ellipse cx="465.77" cy="167.62" rx="0.81" ry="0.54" fill="#d00a1e"/>
<ellipse cx="485.15" cy="168.54" rx="1.38" ry="1.69" fill="#48c6ea"/>
<ellipse cx="485.15" cy="168.54" rx="1.04" ry="1.27" fill="#74da4c"/>
<ellipse cx="485.15" cy="168.54" rx="0.69" ry="0.85" fill="#f2e21c"/>
<path d="M477.15,165.92 L472.85,194.69" stroke="url(#tailR)" stroke-width="1.3" fill="none"/>
</g>
</g>
<rect x="412.2" y="120.2" width="76.30" height="76.10" fill="none" stroke="#222" stroke-width="0.9"/>
</g>
<g id="panelFimg">
<defs>
<filter id="f04" x="-20%" y="-20%" width="140%" height="140%"><feGaussianBlur stdDeviation="0.4"/></filter>
<filter id="f08" x="-20%" y="-20%" width="140%" height="140%"><feGaussianBlur stdDeviation="0.8"/></filter>
<clipPath id="cf1"><rect x="435.8" y="455.8" width="76.9" height="76.1"/></clipPath>
<clipPath id="cf2"><rect x="435.8" y="536.9" width="76.9" height="76.3"/></clipPath>
</defs>
<rect x="435.8" y="455.8" width="76.9" height="76.1" fill="#fff"/>
<g clip-path="url(#cf1)"><g filter="url(#f04)">
<path d="M457.67,466.52 Q458.49,468.50 457.83,470.61 Q457.18,472.71 455.09,474.00 Q453.00,475.28 450.49,474.84 Q447.98,474.40 446.33,472.62 Q444.68,470.84 444.84,468.55 Q445.01,466.27 446.47,464.39 Q447.93,462.51 450.44,462.24 Q452.96,461.97 454.90,463.25 Q456.85,464.54 457.67,466.52 Z" fill="#5552ae" stroke="#7471c2" stroke-width="0.7"/>
<path d="M456.03,467.43 Q456.48,468.80 456.05,470.19 Q455.62,471.58 454.29,472.68 Q452.96,473.77 451.32,473.12 Q449.69,472.47 448.14,471.54 Q446.60,470.60 447.04,468.94 Q447.47,467.29 448.63,466.29 Q449.79,465.29 451.34,464.75 Q452.88,464.20 454.23,465.13 Q455.57,466.05 456.03,467.43 Z" fill="#4744a2"/>
<ellipse cx="449.90" cy="467.18" rx="2.16" ry="1.45" fill="#6c69bf" opacity="0.85"/>
<path d="M472.86,467.25 Q473.90,469.80 472.82,472.31 Q471.74,474.81 469.68,476.64 Q467.62,478.48 464.88,477.93 Q462.14,477.38 460.62,474.99 Q459.10,472.59 458.98,469.76 Q458.87,466.92 460.72,464.97 Q462.57,463.02 465.02,462.55 Q467.46,462.08 469.64,463.40 Q471.82,464.71 472.86,467.25 Z" fill="#5552ae" stroke="#7471c2" stroke-width="0.7"/>
<path d="M470.95,468.23 Q471.26,470.10 470.87,471.90 Q470.47,473.70 468.89,474.37 Q467.31,475.05 465.63,474.96 Q463.94,474.88 462.46,473.58 Q460.97,472.27 461.01,470.12 Q461.06,467.96 462.42,466.50 Q463.79,465.03 465.66,464.44 Q467.52,463.84 469.08,465.10 Q470.63,466.36 470.95,468.23 Z" fill="#4744a2"/>
<ellipse cx="464.30" cy="468.16" rx="2.28" ry="1.80" fill="#6c69bf" opacity="0.85"/>
<path d="M483.66,472.89 Q484.36,474.80 483.87,476.90 Q483.38,478.99 481.53,479.88 Q479.69,480.77 477.64,480.65 Q475.60,480.53 474.28,478.78 Q472.96,477.03 473.07,474.84 Q473.17,472.65 474.40,470.90 Q475.64,469.15 477.70,468.79 Q479.75,468.43 481.36,469.71 Q482.96,470.99 483.66,472.89 Z" fill="#5552ae" stroke="#7471c2" stroke-width="0.7"/>
<path d="M482.76,473.83 Q483.66,475.10 483.06,476.65 Q482.45,478.19 481.09,478.85 Q479.73,479.51 478.38,479.12 Q477.04,478.73 475.88,477.74 Q474.73,476.76 474.55,475.03 Q474.37,473.30 475.63,472.25 Q476.89,471.20 478.36,470.64 Q479.83,470.08 480.84,471.32 Q481.85,472.55 482.76,473.83 Z" fill="#4744a2"/>
<ellipse cx="477.20" cy="473.52" rx="1.80" ry="1.41" fill="#6c69bf" opacity="0.85"/>
<path d="M497.90,467.92 Q499.04,470.00 497.93,472.11 Q496.82,474.21 494.79,475.47 Q492.76,476.73 490.31,476.33 Q487.87,475.93 486.55,474.04 Q485.22,472.15 485.29,470.02 Q485.37,467.90 486.65,466.04 Q487.94,464.19 490.29,464.04 Q492.64,463.89 494.70,464.87 Q496.76,465.84 497.90,467.92 Z" fill="#5552ae" stroke="#7471c2" stroke-width="0.7"/>
<path d="M496.07,468.67 Q496.22,470.30 496.14,471.98 Q496.06,473.67 494.38,474.39 Q492.70,475.12 491.10,474.59 Q489.50,474.06 488.08,473.06 Q486.67,472.06 486.80,470.35 Q486.93,468.63 487.98,467.20 Q489.03,465.78 490.87,465.62 Q492.70,465.46 494.31,466.25 Q495.92,467.04 496.07,468.67 Z" fill="#4744a2"/>
<ellipse cx="489.75" cy="468.68" rx="2.10" ry="1.45" fill="#6c69bf" opacity="0.85"/>
<path d="M508.54,475.21 Q509.86,477.70 508.86,480.49 Q507.87,483.28 505.47,484.68 Q503.07,486.08 500.57,485.28 Q498.07,484.49 496.41,482.46 Q494.75,480.43 494.53,477.61 Q494.31,474.80 496.01,472.52 Q497.71,470.25 500.32,470.25 Q502.92,470.25 505.06,471.48 Q507.21,472.71 508.54,475.21 Z" fill="#5552ae" stroke="#7471c2" stroke-width="0.7"/>
<path d="M507.04,475.84 Q507.30,478.00 506.49,479.66 Q505.67,481.32 504.32,482.64 Q502.97,483.96 501.27,483.26 Q499.57,482.55 498.23,481.28 Q496.89,480.01 497.00,478.05 Q497.12,476.08 498.11,474.33 Q499.10,472.59 500.98,472.68 Q502.85,472.78 504.82,473.23 Q506.78,473.67 507.04,475.84 Z" fill="#4744a2"/>
<ellipse cx="499.80" cy="476.06" rx="2.28" ry="1.80" fill="#6c69bf" opacity="0.85"/>
<path d="M466.31,478.79 Q467.44,480.80 466.31,482.81 Q465.18,484.81 463.15,486.11 Q461.11,487.40 458.52,487.07 Q455.94,486.74 454.59,484.83 Q453.24,482.92 452.99,480.72 Q452.74,478.52 454.52,476.96 Q456.30,475.40 458.64,475.12 Q460.98,474.84 463.08,475.81 Q465.18,476.79 466.31,478.79 Z" fill="#5552ae" stroke="#7471c2" stroke-width="0.7"/>
<path d="M464.39,479.80 Q465.18,481.10 464.76,482.68 Q464.34,484.26 462.67,484.97 Q461.01,485.69 459.26,485.39 Q457.51,485.09 456.13,483.96 Q454.75,482.83 455.19,481.24 Q455.63,479.65 456.38,478.10 Q457.14,476.54 459.07,476.54 Q461.01,476.54 462.30,477.52 Q463.59,478.49 464.39,479.80 Z" fill="#4744a2"/>
<ellipse cx="458.00" cy="479.52" rx="2.16" ry="1.41" fill="#6c69bf" opacity="0.85"/>
<path d="M491.80,505.98 Q493.08,508.30 492.17,510.90 Q491.25,513.50 488.50,514.35 Q485.75,515.21 482.82,515.28 Q479.90,515.35 478.00,513.19 Q476.10,511.03 476.58,508.46 Q477.07,505.89 478.53,503.64 Q479.99,501.40 482.96,500.92 Q485.93,500.45 488.22,502.05 Q490.51,503.66 491.80,505.98 Z" fill="#5552ae" stroke="#7471c2" stroke-width="0.7"/>
<path d="M489.61,506.83 Q489.86,508.60 489.46,510.26 Q489.06,511.91 487.44,513.14 Q485.82,514.37 483.60,514.10 Q481.37,513.83 479.85,512.26 Q478.34,510.69 478.28,508.58 Q478.21,506.46 480.09,505.39 Q481.96,504.31 483.82,503.95 Q485.67,503.60 487.52,504.33 Q489.37,505.05 489.61,506.83 Z" fill="#4744a2"/>
<ellipse cx="482.30" cy="506.78" rx="2.52" ry="1.67" fill="#6c69bf" opacity="0.85"/>
<path d="M486.13,519.56 Q486.91,522.50 486.03,525.37 Q485.15,528.23 482.32,530.03 Q479.49,531.82 476.14,531.07 Q472.78,530.31 470.74,527.91 Q468.70,525.50 468.83,522.54 Q468.95,519.58 471.07,517.45 Q473.18,515.32 476.34,514.23 Q479.50,513.14 482.43,514.88 Q485.35,516.61 486.13,519.56 Z" fill="#5552ae" stroke="#7471c2" stroke-width="0.7"/>
<path d="M484.39,520.55 Q484.92,522.80 484.24,524.94 Q483.56,527.08 481.45,528.39 Q479.33,529.70 477.08,528.77 Q474.83,527.83 473.50,526.29 Q472.17,524.75 471.67,522.63 Q471.17,520.52 472.93,519.04 Q474.70,517.57 476.99,516.88 Q479.27,516.20 481.56,517.25 Q483.85,518.30 484.39,520.55 Z" fill="#4744a2"/>
<ellipse cx="475.30" cy="520.74" rx="2.88" ry="1.94" fill="#6c69bf" opacity="0.85"/>
<path d="M455.5,474.5 L462.5,472 " stroke="#fff" stroke-width="0.9"/>
<path d="M459.5,462.5 L458.8,474" stroke="#fff" stroke-width="0.8"/>
<path d="M476,515.3 L487.5,518.5" stroke="#fff" stroke-width="1"/>
<path d="M496.8,471.5 L495.5,476" stroke="#fff" stroke-width="0.8"/>
<ellipse cx="448.5" cy="511" rx="2.6" ry="2.8" fill="#4a3f9c"/>
<ellipse cx="445" cy="507.5" rx="2.6" ry="2" fill="#b9a0d0" opacity="0.9"/>
<ellipse cx="442.5" cy="505.5" rx="1.4" ry="1.2" fill="#c8b4dc" opacity="0.9"/>
<ellipse cx="456.5" cy="529.5" rx="2.6" ry="2.4" fill="#5a56b0"/>
<ellipse cx="465.2" cy="530.8" rx="2" ry="1.6" fill="#6460b6"/>
<ellipse cx="481" cy="524" rx="2" ry="1.6" fill="#8c88cc" opacity="0.8"/>
<ellipse cx="474" cy="520" rx="1.6" ry="1.4" fill="#8c88cc" opacity="0.8"/>
</g></g>
<rect x="435.8" y="455.8" width="76.9" height="76.1" fill="none" stroke="#222" stroke-width="0.9"/>
<rect x="435.8" y="536.9" width="76.9" height="76.3" fill="#fff"/>
<g clip-path="url(#cf2)"><g filter="url(#f04)">
<path d="M475.37,541.61 Q476.11,543.70 475.33,545.76 Q474.56,547.81 472.92,548.68 Q471.28,549.55 469.48,549.40 Q467.69,549.24 466.24,547.67 Q464.80,546.10 465.01,543.79 Q465.22,541.48 466.39,539.69 Q467.56,537.89 469.43,537.77 Q471.31,537.64 472.97,538.58 Q474.63,539.52 475.37,541.61 Z" fill="#cfcdea" opacity="0.9"/>
<ellipse cx="467.40" cy="544.54" rx="1.51" ry="1.78" fill="#3d389c"/>
<ellipse cx="468.28" cy="541.06" rx="1.51" ry="1.78" fill="#3d389c"/>
<ellipse cx="471.28" cy="540.22" rx="1.51" ry="1.78" fill="#3d389c"/>
<ellipse cx="473.40" cy="542.86" rx="1.51" ry="1.78" fill="#3d389c"/>
<ellipse cx="472.52" cy="546.34" rx="1.51" ry="1.78" fill="#3d389c"/>
<path d="M481.66,562.99 Q482.47,565.00 481.93,567.25 Q481.40,569.50 479.35,570.49 Q477.31,571.49 475.17,571.08 Q473.03,570.67 471.76,568.90 Q470.50,567.14 470.24,564.90 Q469.98,562.67 471.57,561.12 Q473.16,559.56 475.29,558.73 Q477.42,557.89 479.13,559.43 Q480.85,560.98 481.66,562.99 Z" fill="#cfcdea" opacity="0.9"/>
<ellipse cx="473.74" cy="567.60" rx="1.73" ry="1.78" fill="#3d389c"/>
<ellipse cx="472.79" cy="564.10" rx="1.73" ry="1.78" fill="#3d389c"/>
<ellipse cx="475.25" cy="561.51" rx="1.73" ry="1.78" fill="#3d389c"/>
<ellipse cx="478.66" cy="562.40" rx="1.73" ry="1.78" fill="#3d389c"/>
<ellipse cx="479.61" cy="565.90" rx="1.73" ry="1.78" fill="#3d389c"/>
<path d="M485.27,583.86 Q486.21,586.30 485.15,588.63 Q484.10,590.96 482.13,592.22 Q480.16,593.47 477.94,592.99 Q475.72,592.50 474.45,590.56 Q473.18,588.61 473.28,586.34 Q473.37,584.07 474.57,582.13 Q475.77,580.19 477.96,579.70 Q480.15,579.20 482.24,580.31 Q484.33,581.42 485.27,583.86 Z" fill="#cfcdea" opacity="0.9"/>
<ellipse cx="481.34" cy="589.33" rx="1.78" ry="1.94" fill="#3d389c"/>
<ellipse cx="477.77" cy="590.02" rx="1.78" ry="1.94" fill="#3d389c"/>
<ellipse cx="475.43" cy="587.00" rx="1.78" ry="1.94" fill="#3d389c"/>
<ellipse cx="476.66" cy="583.27" rx="1.78" ry="1.94" fill="#3d389c"/>
<ellipse cx="480.23" cy="582.58" rx="1.78" ry="1.94" fill="#3d389c"/>
<path d="M496.91,586.97 Q497.36,588.80 497.16,590.84 Q496.96,592.88 495.00,593.52 Q493.05,594.16 490.98,594.24 Q488.91,594.32 487.54,592.64 Q486.16,590.96 486.54,588.94 Q486.91,586.91 488.05,585.34 Q489.19,583.76 491.14,583.48 Q493.09,583.20 494.77,584.17 Q496.46,585.14 496.91,586.97 Z" fill="#cfcdea" opacity="0.9"/>
<ellipse cx="494.23" cy="586.42" rx="1.57" ry="1.57" fill="#3d389c"/>
<ellipse cx="495.22" cy="589.45" rx="1.57" ry="1.57" fill="#3d389c"/>
<ellipse cx="493.10" cy="591.83" rx="1.57" ry="1.57" fill="#3d389c"/>
<ellipse cx="489.97" cy="591.18" rx="1.57" ry="1.57" fill="#3d389c"/>
<ellipse cx="488.98" cy="588.15" rx="1.57" ry="1.57" fill="#3d389c"/>
<path d="M507.65,588.64 Q508.26,590.40 507.74,592.24 Q507.23,594.07 505.52,595.29 Q503.82,596.51 501.77,595.94 Q499.73,595.37 498.55,593.83 Q497.36,592.28 497.12,590.31 Q496.87,588.35 498.34,586.96 Q499.82,585.57 501.79,585.08 Q503.76,584.59 505.40,585.73 Q507.05,586.87 507.65,588.64 Z" fill="#cfcdea" opacity="0.9"/>
<ellipse cx="506.00" cy="590.53" rx="1.62" ry="1.57" fill="#3d389c"/>
<ellipse cx="504.23" cy="593.22" rx="1.62" ry="1.57" fill="#3d389c"/>
<ellipse cx="500.94" cy="593.10" rx="1.62" ry="1.57" fill="#3d389c"/>
<ellipse cx="499.40" cy="590.27" rx="1.62" ry="1.57" fill="#3d389c"/>
<ellipse cx="501.17" cy="587.58" rx="1.62" ry="1.57" fill="#3d389c"/>
<path d="M470.92,595.94 Q471.69,599.00 470.92,602.06 Q470.15,605.12 467.28,606.81 Q464.41,608.50 461.26,607.64 Q458.11,606.79 456.19,604.40 Q454.27,602.00 453.72,598.81 Q453.18,595.61 455.48,593.14 Q457.79,590.67 461.02,590.50 Q464.26,590.33 467.21,591.60 Q470.15,592.88 470.92,595.94 Z" fill="#cfcdea" opacity="0.9"/>
<ellipse cx="457.42" cy="598.92" rx="1.63" ry="1.60" fill="#3d389c"/>
<ellipse cx="459.47" cy="594.91" rx="1.63" ry="1.60" fill="#3d389c"/>
<ellipse cx="463.96" cy="593.98" rx="1.63" ry="1.60" fill="#3d389c"/>
<ellipse cx="467.49" cy="596.83" rx="1.63" ry="1.60" fill="#3d389c"/>
<ellipse cx="467.42" cy="601.32" rx="1.63" ry="1.60" fill="#3d389c"/>
<ellipse cx="463.79" cy="604.06" rx="1.63" ry="1.60" fill="#3d389c"/>
<ellipse cx="459.34" cy="602.99" rx="1.63" ry="1.60" fill="#3d389c"/>
<ellipse cx="461.70" cy="598.00" rx="1.6" ry="1.4" fill="#4540a2"/>
<ellipse cx="464.70" cy="599.50" rx="1.6" ry="1.4" fill="#4540a2"/>
<ellipse cx="460.20" cy="602.00" rx="1.6" ry="1.4" fill="#4540a2"/>
<circle cx="451" cy="561.2" r="0.5" fill="#c9a070"/>
</g></g>
<rect x="435.8" y="536.9" width="76.9" height="76.3" fill="none" stroke="#222" stroke-width="0.9"/>
</g>
<rect x="0" y="0" width="1.1" height="667" fill="#000"/>
<rect x="0" y="0" width="520" height="1.1" fill="#000"/>
<rect x="0" y="665.2" width="520" height="1.8" fill="#000"/>
<rect x="518.8" y="0" width="1.2" height="667" fill="#000"/>
</svg>
</body></html>
